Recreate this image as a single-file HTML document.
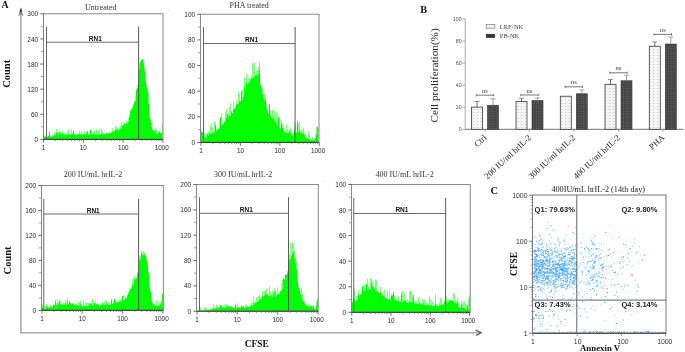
<!DOCTYPE html>
<html><head><meta charset="utf-8"><style>
html,body{margin:0;padding:0;background:#fff;}
body{width:685px;height:352px;overflow:hidden;font-family:"Liberation Sans",sans-serif;}
svg{display:block;filter:blur(0.35px);}
</style></head><body>
<svg width="685" height="352" viewBox="0 0 685 352">
<defs>
<pattern id="pl" width="4" height="3" patternUnits="userSpaceOnUse"><rect width="4" height="3" fill="#f6f6f6"/><rect x="0.5" y="1" width="2" height="0.7" fill="#c8c8c8"/></pattern>
<pattern id="pd" width="2.5" height="2.5" patternUnits="userSpaceOnUse"><rect width="2.5" height="2.5" fill="#454545"/><rect x="0.8" y="0.8" width="0.9" height="0.9" fill="#767676"/></pattern>
</defs>
<rect width="685" height="352" fill="#fff"/>
<text x="1.4" y="7.7" font-family="Liberation Serif" font-size="9.8" font-weight="bold" text-anchor="start" fill="#111">A</text>
<line x1="20.9" y1="12" x2="20.9" y2="333.6" stroke="#ababab" stroke-width="1.6"/>
<line x1="20.1" y1="332.8" x2="479" y2="332.8" stroke="#ababab" stroke-width="1.6"/>
<path d="M20.9,7.4 L18.3,16.2 L20.9,14.2 L23.5,16.2 Z" fill="#8a8a8a"/>
<path d="M20.9,7.4 L19.6,12 L22.2,12 Z" fill="#333"/>
<path d="M475.5,330.1 L481.2,332.8 L476.1,335.6" fill="none" stroke="#444" stroke-width="1.1"/>
<text x="0" y="0" font-family="Liberation Serif" font-size="10.5" font-weight="bold" text-anchor="middle" fill="#111" transform="translate(10.3,73.8) rotate(-90)">Count</text>
<text x="0" y="0" font-family="Liberation Serif" font-size="10.5" font-weight="bold" text-anchor="middle" fill="#111" transform="translate(10.5,260.4) rotate(-90)">Count</text>
<text x="256.8" y="347.3" font-family="Liberation Serif" font-size="9.4" font-weight="bold" text-anchor="middle" fill="#111">CFSE</text>
<path d="M44,139.4V136.84H44.5V135.33H45V136.15H45.5V137.1H46V137.05H46.5V136.88H47V136.69H47.5V136.87H48V135.66H48.5V135.74H49V131.14H49.5V133H50V136.68H50.5V136.78H51V136.79H51.5V135.15H52V135.58H52.5V136.6H53V134.61H53.5V136.05H54V135.23H54.5V132.61H55V135.14H55.5V134.15H56V132.29H56.5V128.9H57V134.36H57.5V134.67H58V134.77H58.5V132.05H59V130.6H59.5V132.72H60V133.51H60.5V131.32H61V134.13H61.5V134.78H62V133.27H62.5V131.28H63V134.42H63.5V134.68H64V134.52H64.5V134.81H65V134.59H65.5V134.49H66V134.68H66.5V133.86H67V131.55H67.5V134.54H68V134.58H68.5V129.29H69V134.56H69.5V134.62H70V133.38H70.5V134.67H71V134.42H71.5V129.58H72V133.93H72.5V132.67H73V130.44H73.5V130.81H74V134.3H74.5V134.75H75V134.53H75.5V134.51H76V134.29H76.5V134.56H77V134.64H77.5V134.85H78V133.17H78.5V134.54H79V134.26H79.5V131.23H80V134.09H80.5V134.54H81V134.36H81.5V131.15H82V134.88H82.5V133.67H83V133.55H83.5V134.01H84V130.92H84.5V134.54H85V134.78H85.5V133.91H86V134.37H86.5V131.69H87V131.1H87.5V131.51H88V134.64H88.5V134.24H89V134.61H89.5V134.67H90V129.43H90.5V129.96H91V129.42H91.5V134.53H92V134.54H92.5V133.4H93V131.13H93.5V133.15H94V134.76H94.5V130.29H95V132.16H95.5V134.78H96V134.6H96.5V129.15H97V134.49H97.5V132.28H98V134.55H98.5V130.38H99V134.81H99.5V129.11H100V134.43H100.5V134.4H101V129.11H101.5V133.78H102V134.08H102.5V130.86H103V134.12H103.5V134.18H104V134.03H104.5V134.26H105V133.76H105.5V132.95H106V133.64H106.5V133.11H107V132.74H107.5V133.09H108V133.79H108.5V133.56H109V131.28H109.5V133.28H110V132.5H110.5V133.37H111V133.11H111.5V130.47H112V132.08H112.5V128.15H113V131.04H113.5V131.38H114V131.25H114.5V131H115V129.27H115.5V125.74H116V129.78H116.5V126.86H117V130.43H117.5V130.27H118V130.34H118.5V127.45H119V130.15H119.5V128.13H120V125.6H120.5V128.85H121V127.53H121.5V121.42H122V126.33H122.5V124.88H123V125.02H123.5V122.06H124V123.11H124.5V123.98H125V122.5H125.5V124.04H126V121H126.5V123.55H127V123.66H127.5V123.26H128V121.99H128.5V117.93H129V116.69H129.5V113.91H130V111.69H130.5V109.64H131V109.75H131.5V108.43H132V108.22H132.5V107.09H133V105.2H133.5V103.78H134V102.58H134.5V101.5H135V100.9H135.5V95.78H136V90.52H136.5V88.61H137V88.11H137.5V85.12H138V80.05H138.5V74.27H139V69.45H139.5V63.66H140V61.82H140.5V61.12H141V60.16H141.5V59.19H142V59.4H142.5V59.17H143V60.88H143.5V63.11H144V66.48H144.5V71.22H145V78.4H145.5V81.39H146V84.36H146.5V86.95H147V90.11H147.5V92.7H148V92.44H148.5V103.39H149V116.46H149.5V117.28H150V118.67H150.5V121.22H151V123.92H151.5V127.09H152V129.13H152.5V130.3H153V130.26H153.5V129.48H154V130.4H154.5V132.53H155V127.39H155.5V131.15H156V133.63H156.5V129.4H157V131.48H157.5V133.83H158V133.11H158.5V130.45H159V132.11H159.5V131.02H160V132.58H160.5V133.05H161V133.52H161.5V132.68H162V124.2H162.5V124.7H162.5V139.4Z" fill="#00ff00"/>
<rect x="43.5" y="13.8" width="119.5" height="125.6" fill="none" stroke="#8a8a8a" stroke-width="1"/>
<line x1="43.5" y1="13.8" x2="43.5" y2="139.4" stroke="#6a9a6a" stroke-width="1"/>
<line x1="43.5" y1="139.4" x2="163" y2="139.4" stroke="#333" stroke-width="1"/>
<line x1="40.3" y1="139.4" x2="43.5" y2="139.4" stroke="#444" stroke-width="0.8"/>
<text x="0" y="0" font-family="Liberation Sans" font-size="7.5" text-anchor="end" fill="#2a2a2a" transform="translate(38.2,142) scale(0.87,1)">0</text>
<line x1="41" y1="126.84" x2="43.5" y2="126.84" stroke="#777" stroke-width="0.7"/>
<line x1="40.3" y1="114.28" x2="43.5" y2="114.28" stroke="#444" stroke-width="0.8"/>
<text x="0" y="0" font-family="Liberation Sans" font-size="7.5" text-anchor="end" fill="#2a2a2a" transform="translate(38.2,116.88) scale(0.87,1)">60</text>
<line x1="41" y1="101.72" x2="43.5" y2="101.72" stroke="#777" stroke-width="0.7"/>
<line x1="40.3" y1="89.16" x2="43.5" y2="89.16" stroke="#444" stroke-width="0.8"/>
<text x="0" y="0" font-family="Liberation Sans" font-size="7.5" text-anchor="end" fill="#2a2a2a" transform="translate(38.2,91.76) scale(0.87,1)">120</text>
<line x1="41" y1="76.6" x2="43.5" y2="76.6" stroke="#777" stroke-width="0.7"/>
<line x1="40.3" y1="64.04" x2="43.5" y2="64.04" stroke="#444" stroke-width="0.8"/>
<text x="0" y="0" font-family="Liberation Sans" font-size="7.5" text-anchor="end" fill="#2a2a2a" transform="translate(38.2,66.64) scale(0.87,1)">180</text>
<line x1="41" y1="51.48" x2="43.5" y2="51.48" stroke="#777" stroke-width="0.7"/>
<line x1="40.3" y1="38.92" x2="43.5" y2="38.92" stroke="#444" stroke-width="0.8"/>
<text x="0" y="0" font-family="Liberation Sans" font-size="7.5" text-anchor="end" fill="#2a2a2a" transform="translate(38.2,41.52) scale(0.87,1)">240</text>
<line x1="41" y1="26.36" x2="43.5" y2="26.36" stroke="#777" stroke-width="0.7"/>
<line x1="40.3" y1="13.8" x2="43.5" y2="13.8" stroke="#444" stroke-width="0.8"/>
<text x="0" y="0" font-family="Liberation Sans" font-size="7.5" text-anchor="end" fill="#2a2a2a" transform="translate(38.2,16.4) scale(0.87,1)">300</text>
<line x1="43.5" y1="139.4" x2="43.5" y2="142.9" stroke="#555" stroke-width="0.8"/>
<text x="0" y="0" font-family="Liberation Sans" font-size="7.3" text-anchor="middle" fill="#2a2a2a" transform="translate(43.5,149.8) scale(0.87,1)">1</text>
<line x1="55.49" y1="139.4" x2="55.49" y2="141.2" stroke="#666" stroke-width="0.7"/>
<line x1="62.51" y1="139.4" x2="62.51" y2="141.2" stroke="#666" stroke-width="0.7"/>
<line x1="67.48" y1="139.4" x2="67.48" y2="141.2" stroke="#666" stroke-width="0.7"/>
<line x1="71.34" y1="139.4" x2="71.34" y2="141.2" stroke="#666" stroke-width="0.7"/>
<line x1="74.5" y1="139.4" x2="74.5" y2="141.2" stroke="#666" stroke-width="0.7"/>
<line x1="77.16" y1="139.4" x2="77.16" y2="141.2" stroke="#666" stroke-width="0.7"/>
<line x1="79.47" y1="139.4" x2="79.47" y2="141.2" stroke="#666" stroke-width="0.7"/>
<line x1="81.51" y1="139.4" x2="81.51" y2="141.2" stroke="#666" stroke-width="0.7"/>
<line x1="83.33" y1="139.4" x2="83.33" y2="142.9" stroke="#555" stroke-width="0.8"/>
<text x="0" y="0" font-family="Liberation Sans" font-size="7.3" text-anchor="middle" fill="#2a2a2a" transform="translate(83.33,149.8) scale(0.87,1)">10</text>
<line x1="95.32" y1="139.4" x2="95.32" y2="141.2" stroke="#666" stroke-width="0.7"/>
<line x1="102.34" y1="139.4" x2="102.34" y2="141.2" stroke="#666" stroke-width="0.7"/>
<line x1="107.32" y1="139.4" x2="107.32" y2="141.2" stroke="#666" stroke-width="0.7"/>
<line x1="111.18" y1="139.4" x2="111.18" y2="141.2" stroke="#666" stroke-width="0.7"/>
<line x1="114.33" y1="139.4" x2="114.33" y2="141.2" stroke="#666" stroke-width="0.7"/>
<line x1="117" y1="139.4" x2="117" y2="141.2" stroke="#666" stroke-width="0.7"/>
<line x1="119.31" y1="139.4" x2="119.31" y2="141.2" stroke="#666" stroke-width="0.7"/>
<line x1="121.34" y1="139.4" x2="121.34" y2="141.2" stroke="#666" stroke-width="0.7"/>
<line x1="123.17" y1="139.4" x2="123.17" y2="142.9" stroke="#555" stroke-width="0.8"/>
<text x="0" y="0" font-family="Liberation Sans" font-size="7.3" text-anchor="middle" fill="#2a2a2a" transform="translate(123.17,149.8) scale(0.87,1)">100</text>
<line x1="135.16" y1="139.4" x2="135.16" y2="141.2" stroke="#666" stroke-width="0.7"/>
<line x1="142.17" y1="139.4" x2="142.17" y2="141.2" stroke="#666" stroke-width="0.7"/>
<line x1="147.15" y1="139.4" x2="147.15" y2="141.2" stroke="#666" stroke-width="0.7"/>
<line x1="151.01" y1="139.4" x2="151.01" y2="141.2" stroke="#666" stroke-width="0.7"/>
<line x1="154.16" y1="139.4" x2="154.16" y2="141.2" stroke="#666" stroke-width="0.7"/>
<line x1="156.83" y1="139.4" x2="156.83" y2="141.2" stroke="#666" stroke-width="0.7"/>
<line x1="159.14" y1="139.4" x2="159.14" y2="141.2" stroke="#666" stroke-width="0.7"/>
<line x1="161.18" y1="139.4" x2="161.18" y2="141.2" stroke="#666" stroke-width="0.7"/>
<line x1="163" y1="139.4" x2="163" y2="142.9" stroke="#555" stroke-width="0.8"/>
<text x="0" y="0" font-family="Liberation Sans" font-size="7.3" text-anchor="middle" fill="#2a2a2a" transform="translate(161.8,149.8) scale(0.87,1)">1000</text>
<line x1="46.5" y1="26.5" x2="46.5" y2="139.4" stroke="#666" stroke-width="1"/>
<line x1="138.6" y1="26.5" x2="138.6" y2="139.4" stroke="#5a5a5a" stroke-width="1"/>
<line x1="46.5" y1="42.2" x2="138.6" y2="42.2" stroke="#6a6a6a" stroke-width="1"/>
<text x="95.3" y="41" font-family="Liberation Sans" font-size="6.5" font-weight="bold" text-anchor="middle" fill="#111">RN1</text>
<text x="100.8" y="9.5" font-family="Liberation Serif" font-size="8" text-anchor="middle" fill="#333">Untreated</text>
<path d="M201,142.4V130.14H201.5V131.87H202V132.11H202.5V132.92H203V138.19H203.5V133.2H204V133.36H204.5V136.89H205V137.21H205.5V132.81H206V135.08H206.5V138.63H207V132.61H207.5V133.9H208V135.53H208.5V131.6H209V131.22H209.5V133.35H210V133.53H210.5V125.44H211V122.69H211.5V134.51H212V127.32H212.5V132.71H213V133.74H213.5V133.28H214V133.04H214.5V121.36H215V125.17H215.5V122.83H216V131.29H216.5V129.08H217V130.23H217.5V128.44H218V129.14H218.5V128.55H219V128.51H219.5V120.16H220V117.32H220.5V117.55H221V125.92H221.5V113.1H222V124.75H222.5V124.31H223V124.26H223.5V123.38H224V122.59H224.5V120.4H225V121.14H225.5V112.15H226V117.29H226.5V108.96H227V114.22H227.5V113.7H228V112.92H228.5V117.51H229V107.08H229.5V115.73H230V116.29H230.5V103.51H231V111.12H231.5V111.74H232V113H232.5V112.41H233V109.82H233.5V101.22H234V108.54H234.5V108.78H235V107.52H235.5V107.09H236V104.39H236.5V100.5H237V104.48H237.5V104H238V104.05H238.5V91.58H239V101.39H239.5V94.11H240V101.8H240.5V100.89H241V90.18H241.5V92.07H242V100.35H242.5V90.04H243V95.68H243.5V97.03H244V86.44H244.5V77.48H245V90.37H245.5V86.35H246V73.6H246.5V82.19H247V84.09H247.5V84.81H248V83.78H248.5V78.42H249V82.19H249.5V77.28H250V80.63H250.5V77.66H251V78.43H251.5V75.31H252V78.38H252.5V63.6H253V66.46H253.5V77.55H254V62.51H254.5V76.41H255V74.67H255.5V74.94H256V71.02H256.5V75.25H257V74.82H257.5V69.86H258V66.75H258.5V73.64H259V61.87H259.5V70.47H260V83.37H260.5V85.94H261V86H261.5V89.98H262V87.5H262.5V94.49H263V96.89H263.5V98.86H264V101.09H264.5V93.75H265V99.97H265.5V96.18H266V108.42H266.5V103.98H267V106.96H267.5V111.33H268V112.91H268.5V113.76H269V103.55H269.5V104.21H270V116.3H270.5V110.14H271V118H271.5V118.13H272V119.01H272.5V110H273V119.22H273.5V114.37H274V120.65H274.5V111.02H275V116.66H275.5V122.29H276V112.47H276.5V124.66H277V125.26H277.5V126.82H278V117.45H278.5V116.7H279V128.02H279.5V117.4H280V128.15H280.5V128.36H281V119.28H281.5V123.58H282V123.47H282.5V128.02H283V130.86H283.5V125.24H284V131.92H284.5V131.83H285V132.51H285.5V132.51H286V124.29H286.5V132.93H287V133.62H287.5V129.24H288V134H288.5V131.45H289V129.47H289.5V131.09H290V127.43H290.5V132.91H291V130.06H291.5V135.19H292V135.68H292.5V133.07H293V135.13H293.5V134.02H294V129.1H294.5V122.6H295V133.06H295.5V125.69H296V132.59H296.5V132.46H297V120.6H297.5V121.97H298V123.95H298.5V132.24H299V121.14H299.5V129.52H300V132.14H300.5V132.42H301V132.65H301.5V129.36H302V133.26H302.5V129.39H303V133.31H303.5V127.56H304V134.54H304.5V134.92H305V133.14H305.5V137.72H306V137.34H306.5V138.38H307V138.46H307.5V138.45H308V131.13H308.5V138.83H309V134.69H309.5V140.24H310V139.35H310.5V139.51H311V138.84H311.5V140.29H312V137.04H312.5V140.35H313V139.67H313.5V140.22H314V138.7H314.5V140.37H315V133.28H315.5V138.55H316V127.02H316.5V135.43H317V126.45H317.5V127.01H318V128.9H318.5V129.78H318.5V142.4Z" fill="#00ff00"/>
<rect x="200.5" y="14.25" width="118.5" height="128.15" fill="none" stroke="#8a8a8a" stroke-width="1"/>
<line x1="200.5" y1="142.4" x2="319" y2="142.4" stroke="#333" stroke-width="1"/>
<line x1="197.3" y1="142.4" x2="200.5" y2="142.4" stroke="#444" stroke-width="0.8"/>
<text x="0" y="0" font-family="Liberation Sans" font-size="7.5" text-anchor="end" fill="#2a2a2a" transform="translate(195.2,145) scale(0.87,1)">0</text>
<line x1="198" y1="129.59" x2="200.5" y2="129.59" stroke="#777" stroke-width="0.7"/>
<line x1="197.3" y1="116.77" x2="200.5" y2="116.77" stroke="#444" stroke-width="0.8"/>
<text x="0" y="0" font-family="Liberation Sans" font-size="7.5" text-anchor="end" fill="#2a2a2a" transform="translate(195.2,119.37) scale(0.87,1)">20</text>
<line x1="198" y1="103.96" x2="200.5" y2="103.96" stroke="#777" stroke-width="0.7"/>
<line x1="197.3" y1="91.14" x2="200.5" y2="91.14" stroke="#444" stroke-width="0.8"/>
<text x="0" y="0" font-family="Liberation Sans" font-size="7.5" text-anchor="end" fill="#2a2a2a" transform="translate(195.2,93.74) scale(0.87,1)">40</text>
<line x1="198" y1="78.33" x2="200.5" y2="78.33" stroke="#777" stroke-width="0.7"/>
<line x1="197.3" y1="65.51" x2="200.5" y2="65.51" stroke="#444" stroke-width="0.8"/>
<text x="0" y="0" font-family="Liberation Sans" font-size="7.5" text-anchor="end" fill="#2a2a2a" transform="translate(195.2,68.11) scale(0.87,1)">60</text>
<line x1="198" y1="52.69" x2="200.5" y2="52.69" stroke="#777" stroke-width="0.7"/>
<line x1="197.3" y1="39.88" x2="200.5" y2="39.88" stroke="#444" stroke-width="0.8"/>
<text x="0" y="0" font-family="Liberation Sans" font-size="7.5" text-anchor="end" fill="#2a2a2a" transform="translate(195.2,42.48) scale(0.87,1)">80</text>
<line x1="198" y1="27.06" x2="200.5" y2="27.06" stroke="#777" stroke-width="0.7"/>
<line x1="197.3" y1="14.25" x2="200.5" y2="14.25" stroke="#444" stroke-width="0.8"/>
<text x="0" y="0" font-family="Liberation Sans" font-size="7.5" text-anchor="end" fill="#2a2a2a" transform="translate(195.2,16.85) scale(0.87,1)">100</text>
<line x1="201" y1="142.4" x2="201" y2="145.9" stroke="#555" stroke-width="0.8"/>
<text x="0" y="0" font-family="Liberation Sans" font-size="7.3" text-anchor="middle" fill="#2a2a2a" transform="translate(201,152.8) scale(0.87,1)">1</text>
<line x1="212.87" y1="142.4" x2="212.87" y2="144.2" stroke="#666" stroke-width="0.7"/>
<line x1="219.81" y1="142.4" x2="219.81" y2="144.2" stroke="#666" stroke-width="0.7"/>
<line x1="224.74" y1="142.4" x2="224.74" y2="144.2" stroke="#666" stroke-width="0.7"/>
<line x1="228.56" y1="142.4" x2="228.56" y2="144.2" stroke="#666" stroke-width="0.7"/>
<line x1="231.69" y1="142.4" x2="231.69" y2="144.2" stroke="#666" stroke-width="0.7"/>
<line x1="234.33" y1="142.4" x2="234.33" y2="144.2" stroke="#666" stroke-width="0.7"/>
<line x1="236.61" y1="142.4" x2="236.61" y2="144.2" stroke="#666" stroke-width="0.7"/>
<line x1="238.63" y1="142.4" x2="238.63" y2="144.2" stroke="#666" stroke-width="0.7"/>
<line x1="240.43" y1="142.4" x2="240.43" y2="145.9" stroke="#555" stroke-width="0.8"/>
<text x="0" y="0" font-family="Liberation Sans" font-size="7.3" text-anchor="middle" fill="#2a2a2a" transform="translate(240.43,152.8) scale(0.87,1)">10</text>
<line x1="252.3" y1="142.4" x2="252.3" y2="144.2" stroke="#666" stroke-width="0.7"/>
<line x1="259.25" y1="142.4" x2="259.25" y2="144.2" stroke="#666" stroke-width="0.7"/>
<line x1="264.17" y1="142.4" x2="264.17" y2="144.2" stroke="#666" stroke-width="0.7"/>
<line x1="268" y1="142.4" x2="268" y2="144.2" stroke="#666" stroke-width="0.7"/>
<line x1="271.12" y1="142.4" x2="271.12" y2="144.2" stroke="#666" stroke-width="0.7"/>
<line x1="273.76" y1="142.4" x2="273.76" y2="144.2" stroke="#666" stroke-width="0.7"/>
<line x1="276.05" y1="142.4" x2="276.05" y2="144.2" stroke="#666" stroke-width="0.7"/>
<line x1="278.06" y1="142.4" x2="278.06" y2="144.2" stroke="#666" stroke-width="0.7"/>
<line x1="279.87" y1="142.4" x2="279.87" y2="145.9" stroke="#555" stroke-width="0.8"/>
<text x="0" y="0" font-family="Liberation Sans" font-size="7.3" text-anchor="middle" fill="#2a2a2a" transform="translate(279.87,152.8) scale(0.87,1)">100</text>
<line x1="291.74" y1="142.4" x2="291.74" y2="144.2" stroke="#666" stroke-width="0.7"/>
<line x1="298.68" y1="142.4" x2="298.68" y2="144.2" stroke="#666" stroke-width="0.7"/>
<line x1="303.61" y1="142.4" x2="303.61" y2="144.2" stroke="#666" stroke-width="0.7"/>
<line x1="307.43" y1="142.4" x2="307.43" y2="144.2" stroke="#666" stroke-width="0.7"/>
<line x1="310.55" y1="142.4" x2="310.55" y2="144.2" stroke="#666" stroke-width="0.7"/>
<line x1="313.19" y1="142.4" x2="313.19" y2="144.2" stroke="#666" stroke-width="0.7"/>
<line x1="315.48" y1="142.4" x2="315.48" y2="144.2" stroke="#666" stroke-width="0.7"/>
<line x1="317.5" y1="142.4" x2="317.5" y2="144.2" stroke="#666" stroke-width="0.7"/>
<line x1="319.3" y1="142.4" x2="319.3" y2="145.9" stroke="#555" stroke-width="0.8"/>
<text x="0" y="0" font-family="Liberation Sans" font-size="7.3" text-anchor="middle" fill="#2a2a2a" transform="translate(318.1,152.8) scale(0.87,1)">1000</text>
<line x1="203.5" y1="27" x2="203.5" y2="142.4" stroke="#666" stroke-width="1"/>
<line x1="295.1" y1="27" x2="295.1" y2="142.4" stroke="#5a5a5a" stroke-width="1"/>
<line x1="203.5" y1="43.5" x2="295.1" y2="43.5" stroke="#6a6a6a" stroke-width="1"/>
<text x="251.6" y="42.3" font-family="Liberation Sans" font-size="6.5" font-weight="bold" text-anchor="middle" fill="#111">RN1</text>
<text x="249.2" y="8" font-family="Liberation Serif" font-size="8" text-anchor="middle" fill="#333">PHA treated</text>
<path d="M42,310.3V307.56H42.5V304.14H43V308.52H43.5V307.99H44V308.99H44.5V306.39H45V308.72H45.5V305.27H46V304.02H46.5V306.61H47V306.17H47.5V307.44H48V307.4H48.5V307.18H49V307.82H49.5V306.8H50V304.67H50.5V306.82H51V306.68H51.5V307.48H52V307.36H52.5V306.04H53V304.95H53.5V304.04H54V305.35H54.5V305.29H55V299.84H55.5V301.57H56V302.92H56.5V305.46H57V304.51H57.5V299.56H58V301.73H58.5V304.85H59V301.66H59.5V299.61H60V300.76H60.5V303.98H61V304.54H61.5V303.72H62V304.57H62.5V304.85H63V302.66H63.5V304.78H64V304.7H64.5V302.84H65V300.07H65.5V303.49H66V304.89H66.5V302.91H67V301.05H67.5V297.93H68V304.48H68.5V303.97H69V301.64H69.5V300.74H70V303.07H70.5V303.36H71V304.29H71.5V304.56H72V303.04H72.5V303.91H73V304.57H73.5V302.56H74V304.64H74.5V304.63H75V304.78H75.5V303.53H76V303.61H76.5V305.73H77V305.58H77.5V306.12H78V301.68H78.5V305.64H79V306.23H79.5V304.86H80V304.25H80.5V300.48H81V306.19H81.5V306.14H82V305.54H82.5V306.22H83V306.12H83.5V300.11H84V306.06H84.5V305.21H85V302.16H85.5V305.76H86V306.19H86.5V302.75H87V306.15H87.5V303.09H88V303.11H88.5V305.72H89V305.67H89.5V305.75H90V303.67H90.5V303.25H91V304.62H91.5V302.39H92V305.71H92.5V299.36H93V300.77H93.5V305.48H94V302.98H94.5V302.69H95V300.8H95.5V305.68H96V303.91H96.5V303.69H97V304.95H97.5V303.28H98V304.99H98.5V304.09H99V305.42H99.5V305.57H100V305.18H100.5V305.53H101V304.91H101.5V305.13H102V303.02H102.5V302.99H103V305.27H103.5V305H104V301.49H104.5V305.31H105V299.96H105.5V304.99H106V304.89H106.5V300.92H107V303.38H107.5V303.16H108V304.82H108.5V301.8H109V304.68H109.5V304.82H110V304.73H110.5V304.19H111V298.16H111.5V299.96H112V304.01H112.5V303.38H113V303.45H113.5V302.27H114V298.63H114.5V299.11H115V302.82H115.5V299.9H116V302.67H116.5V301.83H117V302.37H117.5V302.12H118V302.21H118.5V301.75H119V299.5H119.5V301.81H120V301.75H120.5V299.27H121V299.62H121.5V300.8H122V296.07H122.5V295.96H123V300.67H123.5V295.36H124V299.92H124.5V299.7H125V298.51H125.5V296.19H126V298.12H126.5V297.65H127V294.67H127.5V295.61H128V291.52H128.5V293.76H129V287.9H129.5V291.79H130V288.53H130.5V289.41H131V288.15H131.5V285.94H132V285.61H132.5V278.64H133V284.28H133.5V283.12H134V275.84H134.5V278.98H135V281.14H135.5V280.39H136V278.77H136.5V277.37H137V273.7H137.5V271.67H138V269.96H138.5V265.88H139V255.44H139.5V259.41H140V260.34H140.5V256.33H141V252.89H141.5V249.83H142V252.79H142.5V255.07H143V255.53H143.5V250.75H144V252.35H144.5V254.8H145V254.89H145.5V256.17H146V260.83H146.5V257.32H147V261.84H147.5V266.84H148V274.15H148.5V271.57H149V284.28H149.5V287.3H150V291.19H150.5V291.53H151V298.33H151.5V300.83H152V301.76H152.5V303.51H153V303.69H153.5V304.46H154V305.07H154.5V305.13H155V305.45H155.5V305.98H156V300.27H156.5V306.23H157V305.75H157.5V306.49H158V302.71H158.5V305.51H159V306.15H159.5V305.63H160V301.85H160.5V304.31H161V303.34H161.5V300.07H162V293.45H162.5V293.73H162.9V293.53H162.9V310.3Z" fill="#00ff00"/>
<rect x="41.5" y="185.5" width="121.9" height="124.8" fill="none" stroke="#8a8a8a" stroke-width="1"/>
<line x1="41.5" y1="310.3" x2="163.4" y2="310.3" stroke="#333" stroke-width="1"/>
<line x1="38.3" y1="310.3" x2="41.5" y2="310.3" stroke="#444" stroke-width="0.8"/>
<text x="0" y="0" font-family="Liberation Sans" font-size="7.5" text-anchor="end" fill="#2a2a2a" transform="translate(36.2,312.9) scale(0.87,1)">0</text>
<line x1="39" y1="297.82" x2="41.5" y2="297.82" stroke="#777" stroke-width="0.7"/>
<line x1="38.3" y1="285.34" x2="41.5" y2="285.34" stroke="#444" stroke-width="0.8"/>
<text x="0" y="0" font-family="Liberation Sans" font-size="7.5" text-anchor="end" fill="#2a2a2a" transform="translate(36.2,287.94) scale(0.87,1)">40</text>
<line x1="39" y1="272.86" x2="41.5" y2="272.86" stroke="#777" stroke-width="0.7"/>
<line x1="38.3" y1="260.38" x2="41.5" y2="260.38" stroke="#444" stroke-width="0.8"/>
<text x="0" y="0" font-family="Liberation Sans" font-size="7.5" text-anchor="end" fill="#2a2a2a" transform="translate(36.2,262.98) scale(0.87,1)">80</text>
<line x1="39" y1="247.9" x2="41.5" y2="247.9" stroke="#777" stroke-width="0.7"/>
<line x1="38.3" y1="235.42" x2="41.5" y2="235.42" stroke="#444" stroke-width="0.8"/>
<text x="0" y="0" font-family="Liberation Sans" font-size="7.5" text-anchor="end" fill="#2a2a2a" transform="translate(36.2,238.02) scale(0.87,1)">120</text>
<line x1="39" y1="222.94" x2="41.5" y2="222.94" stroke="#777" stroke-width="0.7"/>
<line x1="38.3" y1="210.46" x2="41.5" y2="210.46" stroke="#444" stroke-width="0.8"/>
<text x="0" y="0" font-family="Liberation Sans" font-size="7.5" text-anchor="end" fill="#2a2a2a" transform="translate(36.2,213.06) scale(0.87,1)">160</text>
<line x1="39" y1="197.98" x2="41.5" y2="197.98" stroke="#777" stroke-width="0.7"/>
<line x1="38.3" y1="185.5" x2="41.5" y2="185.5" stroke="#444" stroke-width="0.8"/>
<text x="0" y="0" font-family="Liberation Sans" font-size="7.5" text-anchor="end" fill="#2a2a2a" transform="translate(36.2,188.1) scale(0.87,1)">200</text>
<line x1="42" y1="310.3" x2="42" y2="313.8" stroke="#555" stroke-width="0.8"/>
<text x="0" y="0" font-family="Liberation Sans" font-size="7.3" text-anchor="middle" fill="#2a2a2a" transform="translate(42,320.7) scale(0.87,1)">1</text>
<line x1="54.12" y1="310.3" x2="54.12" y2="312.1" stroke="#666" stroke-width="0.7"/>
<line x1="61.21" y1="310.3" x2="61.21" y2="312.1" stroke="#666" stroke-width="0.7"/>
<line x1="66.24" y1="310.3" x2="66.24" y2="312.1" stroke="#666" stroke-width="0.7"/>
<line x1="70.15" y1="310.3" x2="70.15" y2="312.1" stroke="#666" stroke-width="0.7"/>
<line x1="73.33" y1="310.3" x2="73.33" y2="312.1" stroke="#666" stroke-width="0.7"/>
<line x1="76.03" y1="310.3" x2="76.03" y2="312.1" stroke="#666" stroke-width="0.7"/>
<line x1="78.36" y1="310.3" x2="78.36" y2="312.1" stroke="#666" stroke-width="0.7"/>
<line x1="80.42" y1="310.3" x2="80.42" y2="312.1" stroke="#666" stroke-width="0.7"/>
<line x1="82.27" y1="310.3" x2="82.27" y2="313.8" stroke="#555" stroke-width="0.8"/>
<text x="0" y="0" font-family="Liberation Sans" font-size="7.3" text-anchor="middle" fill="#2a2a2a" transform="translate(82.27,320.7) scale(0.87,1)">10</text>
<line x1="94.39" y1="310.3" x2="94.39" y2="312.1" stroke="#666" stroke-width="0.7"/>
<line x1="101.48" y1="310.3" x2="101.48" y2="312.1" stroke="#666" stroke-width="0.7"/>
<line x1="106.51" y1="310.3" x2="106.51" y2="312.1" stroke="#666" stroke-width="0.7"/>
<line x1="110.41" y1="310.3" x2="110.41" y2="312.1" stroke="#666" stroke-width="0.7"/>
<line x1="113.6" y1="310.3" x2="113.6" y2="312.1" stroke="#666" stroke-width="0.7"/>
<line x1="116.3" y1="310.3" x2="116.3" y2="312.1" stroke="#666" stroke-width="0.7"/>
<line x1="118.63" y1="310.3" x2="118.63" y2="312.1" stroke="#666" stroke-width="0.7"/>
<line x1="120.69" y1="310.3" x2="120.69" y2="312.1" stroke="#666" stroke-width="0.7"/>
<line x1="122.53" y1="310.3" x2="122.53" y2="313.8" stroke="#555" stroke-width="0.8"/>
<text x="0" y="0" font-family="Liberation Sans" font-size="7.3" text-anchor="middle" fill="#2a2a2a" transform="translate(122.53,320.7) scale(0.87,1)">100</text>
<line x1="134.65" y1="310.3" x2="134.65" y2="312.1" stroke="#666" stroke-width="0.7"/>
<line x1="141.75" y1="310.3" x2="141.75" y2="312.1" stroke="#666" stroke-width="0.7"/>
<line x1="146.78" y1="310.3" x2="146.78" y2="312.1" stroke="#666" stroke-width="0.7"/>
<line x1="150.68" y1="310.3" x2="150.68" y2="312.1" stroke="#666" stroke-width="0.7"/>
<line x1="153.87" y1="310.3" x2="153.87" y2="312.1" stroke="#666" stroke-width="0.7"/>
<line x1="156.56" y1="310.3" x2="156.56" y2="312.1" stroke="#666" stroke-width="0.7"/>
<line x1="158.9" y1="310.3" x2="158.9" y2="312.1" stroke="#666" stroke-width="0.7"/>
<line x1="160.96" y1="310.3" x2="160.96" y2="312.1" stroke="#666" stroke-width="0.7"/>
<line x1="162.8" y1="310.3" x2="162.8" y2="313.8" stroke="#555" stroke-width="0.8"/>
<text x="0" y="0" font-family="Liberation Sans" font-size="7.3" text-anchor="middle" fill="#2a2a2a" transform="translate(161.6,320.7) scale(0.87,1)">1000</text>
<line x1="43.75" y1="198.75" x2="43.75" y2="310.3" stroke="#666" stroke-width="1"/>
<line x1="138.6" y1="198.75" x2="138.6" y2="310.3" stroke="#5a5a5a" stroke-width="1"/>
<line x1="43.75" y1="214" x2="138.6" y2="214" stroke="#6a6a6a" stroke-width="1"/>
<text x="93.2" y="212.8" font-family="Liberation Sans" font-size="6.5" font-weight="bold" text-anchor="middle" fill="#111">RN1</text>
<text x="93" y="176.5" font-family="Liberation Serif" font-size="8" text-anchor="middle" fill="#333">200 IU/mL hrIL-2</text>
<path d="M197,311.2V311.2H197.5V310.96H198V311.01H198.5V310.8H199V309.63H199.5V307.23H200V311.2H200.5V307.46H201V311.16H201.5V309.56H202V311.18H202.5V309.47H203V310.82H203.5V310.99H204V310.58H204.5V307.33H205V311H205.5V309.78H206V309.39H206.5V308.34H207V310.62H207.5V309.86H208V310.18H208.5V309.43H209V310.1H209.5V309.46H210V309.45H210.5V309.31H211V309.06H211.5V309.64H212V308.81H212.5V307.76H213V308.66H213.5V304.27H214V307.55H214.5V308.74H215V307.2H215.5V308.54H216V307.77H216.5V304.56H217V306.47H217.5V308.14H218V307.84H218.5V307.4H219V307.86H219.5V307.49H220V304.9H220.5V304.94H221V307.09H221.5V307.36H222V306.54H222.5V307.58H223V307.74H223.5V306.68H224V307.95H224.5V304.41H225V307.79H225.5V307.75H226V304.02H226.5V306.58H227V304.18H227.5V306.78H228V306.26H228.5V306.22H229V306.42H229.5V305.55H230V307.72H230.5V305.79H231V306.49H231.5V305.29H232V306.98H232.5V307.8H233V307.79H233.5V306.84H234V308.02H234.5V307.84H235V305.36H235.5V304.07H236V307.9H236.5V307.07H237V303.18H237.5V307.38H238V306.42H238.5V307.64H239V307.9H239.5V307.99H240V307.93H240.5V307.57H241V305.79H241.5V305.63H242V307.82H242.5V306.02H243V305.56H243.5V306.49H244V307.31H244.5V307.71H245V305.51H245.5V307.51H246V304.45H246.5V307.19H247V307.27H247.5V306.3H248V306.73H248.5V306.5H249V306.85H249.5V306.47H250V305.27H250.5V306.28H251V302.25H251.5V305.26H252V306.2H252.5V302.29H253V304.94H253.5V295.68H254V302.26H254.5V303.51H255V303.3H255.5V301.37H256V297.69H256.5V302.64H257V301.7H257.5V296.83H258V301.93H258.5V296.28H259V299.21H259.5V294.81H260V297.45H260.5V299.49H261V298.08H261.5V299.26H262V290.63H262.5V296.24H263V296.7H263.5V297.01H264V291.35H264.5V295.69H265V290.49H265.5V293.41H266V288.27H266.5V294.15H267V295.13H267.5V295.6H268V295.37H268.5V295.43H269V296.11H269.5V286.61H270V296.76H270.5V291.73H271V294.59H271.5V295.22H272V297.04H272.5V290.37H273V294.98H273.5V292.17H274V288.58H274.5V291.65H275V296.6H275.5V296.74H276V296.48H276.5V294.52H277V294.76H277.5V287.27H278V292.39H278.5V294.49H279V293.93H279.5V291.38H280V290.28H280.5V291.54H281V283.01H281.5V290.78H282V289.22H282.5V279.75H283V278.4H283.5V277.8H284V278.81H284.5V279.93H285V274.7H285.5V274.39H286V274.36H286.5V274.99H287V273.5H287.5V270.76H288V267.51H288.5V257.91H289V254.21H289.5V260.45H290V258.39H290.5V242.45H291V255.54H291.5V255.6H292V242.19H292.5V253.52H293V244.17H293.5V251.69H294V257.7H294.5V250.97H295V259.86H295.5V263H296V269.78H296.5V261.68H297V277.78H297.5V281.16H298V285.25H298.5V288.04H299V286.66H299.5V290.15H300V292.28H300.5V294.48H301V288.11H301.5V299.98H302V293.95H302.5V300.58H303V298.56H303.5V301.22H304V304.17H304.5V301.99H305V305.14H305.5V301.49H306V304.52H306.5V305.88H307V304.08H307.5V306.03H308V305.28H308.5V306.4H309V305.78H309.5V304.42H310V307.06H310.5V305.49H311V305.7H311.5V305.33H312V305.53H312.5V307.89H313V305.21H313.5V305.89H314V309.46H314.5V308.79H315V308.76H315.5V308.8H316V305.61H316.5V300.81H317V297.62H317.5V300.12H317.8V311.2Z" fill="#00ff00"/>
<rect x="196.5" y="184.5" width="121.8" height="126.7" fill="none" stroke="#8a8a8a" stroke-width="1"/>
<line x1="196.5" y1="311.2" x2="318.3" y2="311.2" stroke="#333" stroke-width="1"/>
<line x1="193.3" y1="311.2" x2="196.5" y2="311.2" stroke="#444" stroke-width="0.8"/>
<text x="0" y="0" font-family="Liberation Sans" font-size="7.5" text-anchor="end" fill="#2a2a2a" transform="translate(191.2,313.8) scale(0.87,1)">0</text>
<line x1="194" y1="298.53" x2="196.5" y2="298.53" stroke="#777" stroke-width="0.7"/>
<line x1="193.3" y1="285.86" x2="196.5" y2="285.86" stroke="#444" stroke-width="0.8"/>
<text x="0" y="0" font-family="Liberation Sans" font-size="7.5" text-anchor="end" fill="#2a2a2a" transform="translate(191.2,288.46) scale(0.87,1)">40</text>
<line x1="194" y1="273.19" x2="196.5" y2="273.19" stroke="#777" stroke-width="0.7"/>
<line x1="193.3" y1="260.52" x2="196.5" y2="260.52" stroke="#444" stroke-width="0.8"/>
<text x="0" y="0" font-family="Liberation Sans" font-size="7.5" text-anchor="end" fill="#2a2a2a" transform="translate(191.2,263.12) scale(0.87,1)">80</text>
<line x1="194" y1="247.85" x2="196.5" y2="247.85" stroke="#777" stroke-width="0.7"/>
<line x1="193.3" y1="235.18" x2="196.5" y2="235.18" stroke="#444" stroke-width="0.8"/>
<text x="0" y="0" font-family="Liberation Sans" font-size="7.5" text-anchor="end" fill="#2a2a2a" transform="translate(191.2,237.78) scale(0.87,1)">120</text>
<line x1="194" y1="222.51" x2="196.5" y2="222.51" stroke="#777" stroke-width="0.7"/>
<line x1="193.3" y1="209.84" x2="196.5" y2="209.84" stroke="#444" stroke-width="0.8"/>
<text x="0" y="0" font-family="Liberation Sans" font-size="7.5" text-anchor="end" fill="#2a2a2a" transform="translate(191.2,212.44) scale(0.87,1)">160</text>
<line x1="194" y1="197.17" x2="196.5" y2="197.17" stroke="#777" stroke-width="0.7"/>
<line x1="193.3" y1="184.5" x2="196.5" y2="184.5" stroke="#444" stroke-width="0.8"/>
<text x="0" y="0" font-family="Liberation Sans" font-size="7.5" text-anchor="end" fill="#2a2a2a" transform="translate(191.2,187.1) scale(0.87,1)">200</text>
<line x1="197" y1="311.2" x2="197" y2="314.7" stroke="#555" stroke-width="0.8"/>
<text x="0" y="0" font-family="Liberation Sans" font-size="7.3" text-anchor="middle" fill="#2a2a2a" transform="translate(197,321.6) scale(0.87,1)">1</text>
<line x1="209.14" y1="311.2" x2="209.14" y2="313" stroke="#666" stroke-width="0.7"/>
<line x1="216.24" y1="311.2" x2="216.24" y2="313" stroke="#666" stroke-width="0.7"/>
<line x1="221.28" y1="311.2" x2="221.28" y2="313" stroke="#666" stroke-width="0.7"/>
<line x1="225.19" y1="311.2" x2="225.19" y2="313" stroke="#666" stroke-width="0.7"/>
<line x1="228.39" y1="311.2" x2="228.39" y2="313" stroke="#666" stroke-width="0.7"/>
<line x1="231.09" y1="311.2" x2="231.09" y2="313" stroke="#666" stroke-width="0.7"/>
<line x1="233.42" y1="311.2" x2="233.42" y2="313" stroke="#666" stroke-width="0.7"/>
<line x1="235.49" y1="311.2" x2="235.49" y2="313" stroke="#666" stroke-width="0.7"/>
<line x1="237.33" y1="311.2" x2="237.33" y2="314.7" stroke="#555" stroke-width="0.8"/>
<text x="0" y="0" font-family="Liberation Sans" font-size="7.3" text-anchor="middle" fill="#2a2a2a" transform="translate(237.33,321.6) scale(0.87,1)">10</text>
<line x1="249.47" y1="311.2" x2="249.47" y2="313" stroke="#666" stroke-width="0.7"/>
<line x1="256.58" y1="311.2" x2="256.58" y2="313" stroke="#666" stroke-width="0.7"/>
<line x1="261.62" y1="311.2" x2="261.62" y2="313" stroke="#666" stroke-width="0.7"/>
<line x1="265.53" y1="311.2" x2="265.53" y2="313" stroke="#666" stroke-width="0.7"/>
<line x1="268.72" y1="311.2" x2="268.72" y2="313" stroke="#666" stroke-width="0.7"/>
<line x1="271.42" y1="311.2" x2="271.42" y2="313" stroke="#666" stroke-width="0.7"/>
<line x1="273.76" y1="311.2" x2="273.76" y2="313" stroke="#666" stroke-width="0.7"/>
<line x1="275.82" y1="311.2" x2="275.82" y2="313" stroke="#666" stroke-width="0.7"/>
<line x1="277.67" y1="311.2" x2="277.67" y2="314.7" stroke="#555" stroke-width="0.8"/>
<text x="0" y="0" font-family="Liberation Sans" font-size="7.3" text-anchor="middle" fill="#2a2a2a" transform="translate(277.67,321.6) scale(0.87,1)">100</text>
<line x1="289.81" y1="311.2" x2="289.81" y2="313" stroke="#666" stroke-width="0.7"/>
<line x1="296.91" y1="311.2" x2="296.91" y2="313" stroke="#666" stroke-width="0.7"/>
<line x1="301.95" y1="311.2" x2="301.95" y2="313" stroke="#666" stroke-width="0.7"/>
<line x1="305.86" y1="311.2" x2="305.86" y2="313" stroke="#666" stroke-width="0.7"/>
<line x1="309.05" y1="311.2" x2="309.05" y2="313" stroke="#666" stroke-width="0.7"/>
<line x1="311.75" y1="311.2" x2="311.75" y2="313" stroke="#666" stroke-width="0.7"/>
<line x1="314.09" y1="311.2" x2="314.09" y2="313" stroke="#666" stroke-width="0.7"/>
<line x1="316.15" y1="311.2" x2="316.15" y2="313" stroke="#666" stroke-width="0.7"/>
<line x1="318" y1="311.2" x2="318" y2="314.7" stroke="#555" stroke-width="0.8"/>
<text x="0" y="0" font-family="Liberation Sans" font-size="7.3" text-anchor="middle" fill="#2a2a2a" transform="translate(316.8,321.6) scale(0.87,1)">1000</text>
<line x1="199.5" y1="197.25" x2="199.5" y2="311.2" stroke="#666" stroke-width="1"/>
<line x1="288.5" y1="197.25" x2="288.5" y2="311.2" stroke="#5a5a5a" stroke-width="1"/>
<line x1="199.5" y1="213.3" x2="288.5" y2="213.3" stroke="#6a6a6a" stroke-width="1"/>
<text x="246.3" y="212.1" font-family="Liberation Sans" font-size="6.5" font-weight="bold" text-anchor="middle" fill="#111">RN1</text>
<text x="243.2" y="176.5" font-family="Liberation Serif" font-size="8" text-anchor="middle" fill="#333">300 IU/mL hrIL-2</text>
<path d="M352,312.3V301.52H352.5V302.16H353V290.6H353.5V300.02H354V299.43H354.5V289.63H355V301.15H355.5V301.19H356V300.79H356.5V295.89H357V299.99H357.5V296.97H358V294.28H358.5V289.79H359V297.2H359.5V294.89H360V295.11H360.5V293.64H361V291.44H361.5V293.56H362V287.61H362.5V285.59H363V291.53H363.5V284.22H364V290.95H364.5V285.16H365V290.83H365.5V289.94H366V283.97H366.5V283.43H367V290.17H367.5V278.86H368V289.81H368.5V286.63H369V287.8H369.5V288.8H370V289.65H370.5V277.99H371V279.12H371.5V283.15H372V280.83H372.5V286.61H373V286.11H373.5V288.48H374V287.3H374.5V288.78H375V279.56H375.5V290.76H376V291.34H376.5V280.22H377V291.56H377.5V289.96H378V292.28H378.5V292.58H379V293.04H379.5V293.96H380V286.8H380.5V292.6H381V295.35H381.5V294.47H382V293.07H382.5V295.93H383V296.64H383.5V296.43H384V297.42H384.5V289.4H385V295.88H385.5V298.27H386V298.4H386.5V298.65H387V290.5H387.5V299.33H388V298.61H388.5V299.75H389V288.69H389.5V300.11H390V299.88H390.5V297.62H391V293.48H391.5V295.68H392V295.27H392.5V294.92H393V291.16H393.5V292.6H394V295.71H394.5V300.22H395V299.3H395.5V295.78H396V299.05H396.5V300.92H397V297.22H397.5V301.49H398V301.47H398.5V296.11H399V300.7H399.5V302.21H400V302.39H400.5V299.71H401V292.27H401.5V294.83H402V290.95H402.5V301.72H403V302.41H403.5V300.28H404V292.63H404.5V300.85H405V300.94H405.5V298.57H406V302.3H406.5V302.54H407V298.97H407.5V302.98H408V302.29H408.5V300.86H409V291.56H409.5V302.23H410V290.44H410.5V301.61H411V303.34H411.5V291.5H412V301.7H412.5V294.44H413V296.75H413.5V294.65H414V303.72H414.5V302.18H415V303.77H415.5V300.83H416V303.73H416.5V300.63H417V303.44H417.5V303.99H418V304.28H418.5V296.69H419V300.48H419.5V302.96H420V304.42H420.5V302.92H421V302.23H421.5V304.63H422V299H422.5V304.77H423V303.26H423.5V302.17H424V304.91H424.5V299.15H425V300.43H425.5V305.18H426V305.58H426.5V302.9H427V304.39H427.5V305.87H428V303.42H428.5V304.85H429V305.61H429.5V295.75H430V305.94H430.5V299.14H431V303.71H431.5V305.06H432V306.33H432.5V301.72H433V306.44H433.5V305.25H434V306.24H434.5V305.77H435V294.43H435.5V303.92H436V304.3H436.5V305.24H437V306.31H437.5V305.48H438V305.91H438.5V305.67H439V302.05H439.5V305.82H440V305.54H440.5V297.78H441V304.35H441.5V298.29H442V304.58H442.5V304.4H443V304.84H443.5V302.95H444V303.45H444.5V300.2H445V295.52H445.5V304.27H446V302.05H446.5V296.38H447V302.96H447.5V303.55H448V302.02H448.5V299.25H449V299.76H449.5V300.32H450V299.98H450.5V300.46H451V299.94H451.5V300.14H452V300.25H452.5V301.12H453V301.26H453.5V292.46H454V293.84H454.5V303.04H455V303.76H455.5V300.32H456V303.78H456.5V300.53H457V297.57H457.5V302.62H458V306.57H458.5V301.82H459V307.02H459.5V307.23H460V307.2H460.5V307.74H461V304.52H461.5V300.57H462V303.55H462.5V307.65H463V308.09H463.5V301.59H464V308.7H464.5V301.28H465V309.39H465.5V309.75H466V309.85H466.5V304.33H467V305.72H467.5V304.73H468V309.25H468.5V298.32H469V295.06H469.5V298.09H469.7V312.3Z" fill="#00ff00"/>
<rect x="351.5" y="184.5" width="118.7" height="127.8" fill="none" stroke="#8a8a8a" stroke-width="1"/>
<line x1="351.5" y1="312.3" x2="470.2" y2="312.3" stroke="#333" stroke-width="1"/>
<line x1="348.3" y1="312.3" x2="351.5" y2="312.3" stroke="#444" stroke-width="0.8"/>
<text x="0" y="0" font-family="Liberation Sans" font-size="7.5" text-anchor="end" fill="#2a2a2a" transform="translate(346.2,314.9) scale(0.87,1)">0</text>
<line x1="349" y1="299.52" x2="351.5" y2="299.52" stroke="#777" stroke-width="0.7"/>
<line x1="348.3" y1="286.74" x2="351.5" y2="286.74" stroke="#444" stroke-width="0.8"/>
<text x="0" y="0" font-family="Liberation Sans" font-size="7.5" text-anchor="end" fill="#2a2a2a" transform="translate(346.2,289.34) scale(0.87,1)">20</text>
<line x1="349" y1="273.96" x2="351.5" y2="273.96" stroke="#777" stroke-width="0.7"/>
<line x1="348.3" y1="261.18" x2="351.5" y2="261.18" stroke="#444" stroke-width="0.8"/>
<text x="0" y="0" font-family="Liberation Sans" font-size="7.5" text-anchor="end" fill="#2a2a2a" transform="translate(346.2,263.78) scale(0.87,1)">40</text>
<line x1="349" y1="248.4" x2="351.5" y2="248.4" stroke="#777" stroke-width="0.7"/>
<line x1="348.3" y1="235.62" x2="351.5" y2="235.62" stroke="#444" stroke-width="0.8"/>
<text x="0" y="0" font-family="Liberation Sans" font-size="7.5" text-anchor="end" fill="#2a2a2a" transform="translate(346.2,238.22) scale(0.87,1)">60</text>
<line x1="349" y1="222.84" x2="351.5" y2="222.84" stroke="#777" stroke-width="0.7"/>
<line x1="348.3" y1="210.06" x2="351.5" y2="210.06" stroke="#444" stroke-width="0.8"/>
<text x="0" y="0" font-family="Liberation Sans" font-size="7.5" text-anchor="end" fill="#2a2a2a" transform="translate(346.2,212.66) scale(0.87,1)">80</text>
<line x1="349" y1="197.28" x2="351.5" y2="197.28" stroke="#777" stroke-width="0.7"/>
<line x1="348.3" y1="184.5" x2="351.5" y2="184.5" stroke="#444" stroke-width="0.8"/>
<text x="0" y="0" font-family="Liberation Sans" font-size="7.5" text-anchor="end" fill="#2a2a2a" transform="translate(346.2,187.1) scale(0.87,1)">100</text>
<line x1="351.75" y1="312.3" x2="351.75" y2="315.8" stroke="#555" stroke-width="0.8"/>
<text x="0" y="0" font-family="Liberation Sans" font-size="7.3" text-anchor="middle" fill="#2a2a2a" transform="translate(351.75,322.7) scale(0.87,1)">1</text>
<line x1="363.57" y1="312.3" x2="363.57" y2="314.1" stroke="#666" stroke-width="0.7"/>
<line x1="370.48" y1="312.3" x2="370.48" y2="314.1" stroke="#666" stroke-width="0.7"/>
<line x1="375.38" y1="312.3" x2="375.38" y2="314.1" stroke="#666" stroke-width="0.7"/>
<line x1="379.18" y1="312.3" x2="379.18" y2="314.1" stroke="#666" stroke-width="0.7"/>
<line x1="382.29" y1="312.3" x2="382.29" y2="314.1" stroke="#666" stroke-width="0.7"/>
<line x1="384.92" y1="312.3" x2="384.92" y2="314.1" stroke="#666" stroke-width="0.7"/>
<line x1="387.2" y1="312.3" x2="387.2" y2="314.1" stroke="#666" stroke-width="0.7"/>
<line x1="389.2" y1="312.3" x2="389.2" y2="314.1" stroke="#666" stroke-width="0.7"/>
<line x1="391" y1="312.3" x2="391" y2="315.8" stroke="#555" stroke-width="0.8"/>
<text x="0" y="0" font-family="Liberation Sans" font-size="7.3" text-anchor="middle" fill="#2a2a2a" transform="translate(391,322.7) scale(0.87,1)">10</text>
<line x1="402.82" y1="312.3" x2="402.82" y2="314.1" stroke="#666" stroke-width="0.7"/>
<line x1="409.73" y1="312.3" x2="409.73" y2="314.1" stroke="#666" stroke-width="0.7"/>
<line x1="414.63" y1="312.3" x2="414.63" y2="314.1" stroke="#666" stroke-width="0.7"/>
<line x1="418.43" y1="312.3" x2="418.43" y2="314.1" stroke="#666" stroke-width="0.7"/>
<line x1="421.54" y1="312.3" x2="421.54" y2="314.1" stroke="#666" stroke-width="0.7"/>
<line x1="424.17" y1="312.3" x2="424.17" y2="314.1" stroke="#666" stroke-width="0.7"/>
<line x1="426.45" y1="312.3" x2="426.45" y2="314.1" stroke="#666" stroke-width="0.7"/>
<line x1="428.45" y1="312.3" x2="428.45" y2="314.1" stroke="#666" stroke-width="0.7"/>
<line x1="430.25" y1="312.3" x2="430.25" y2="315.8" stroke="#555" stroke-width="0.8"/>
<text x="0" y="0" font-family="Liberation Sans" font-size="7.3" text-anchor="middle" fill="#2a2a2a" transform="translate(430.25,322.7) scale(0.87,1)">100</text>
<line x1="442.07" y1="312.3" x2="442.07" y2="314.1" stroke="#666" stroke-width="0.7"/>
<line x1="448.98" y1="312.3" x2="448.98" y2="314.1" stroke="#666" stroke-width="0.7"/>
<line x1="453.88" y1="312.3" x2="453.88" y2="314.1" stroke="#666" stroke-width="0.7"/>
<line x1="457.68" y1="312.3" x2="457.68" y2="314.1" stroke="#666" stroke-width="0.7"/>
<line x1="460.79" y1="312.3" x2="460.79" y2="314.1" stroke="#666" stroke-width="0.7"/>
<line x1="463.42" y1="312.3" x2="463.42" y2="314.1" stroke="#666" stroke-width="0.7"/>
<line x1="465.7" y1="312.3" x2="465.7" y2="314.1" stroke="#666" stroke-width="0.7"/>
<line x1="467.7" y1="312.3" x2="467.7" y2="314.1" stroke="#666" stroke-width="0.7"/>
<line x1="469.5" y1="312.3" x2="469.5" y2="315.8" stroke="#555" stroke-width="0.8"/>
<text x="0" y="0" font-family="Liberation Sans" font-size="7.3" text-anchor="middle" fill="#2a2a2a" transform="translate(468.3,322.7) scale(0.87,1)">1000</text>
<line x1="353.75" y1="198" x2="353.75" y2="312.3" stroke="#666" stroke-width="1"/>
<line x1="445.6" y1="198" x2="445.6" y2="312.3" stroke="#5a5a5a" stroke-width="1"/>
<line x1="353.75" y1="213.5" x2="445.6" y2="213.5" stroke="#6a6a6a" stroke-width="1"/>
<text x="401.9" y="212.3" font-family="Liberation Sans" font-size="6.5" font-weight="bold" text-anchor="middle" fill="#111">RN1</text>
<text x="404.6" y="176.5" font-family="Liberation Serif" font-size="8" text-anchor="middle" fill="#333">400 IU/mL hrIL-2</text>
<rect x="168.8" y="10.2" width="0.8" height="0.8" fill="#bbb"/>
<rect x="324.1" y="180.6" width="0.8" height="0.8" fill="#bbb"/>
<text x="420.2" y="13.3" font-family="Liberation Serif" font-size="10.3" font-weight="bold" text-anchor="start" fill="#111">B</text>
<line x1="465.2" y1="18.5" x2="465.2" y2="129.3" stroke="#999" stroke-width="0.8"/>
<line x1="465.2" y1="129.3" x2="683.5" y2="129.3" stroke="#666" stroke-width="0.9"/>
<line x1="462.4" y1="129.3" x2="465.2" y2="129.3" stroke="#888" stroke-width="0.7"/>
<text x="461.7" y="131.2" font-family="Liberation Sans" font-size="5.3" text-anchor="end" fill="#505050">0</text>
<line x1="462.4" y1="107.24" x2="465.2" y2="107.24" stroke="#888" stroke-width="0.7"/>
<text x="461.7" y="109.14" font-family="Liberation Sans" font-size="5.3" text-anchor="end" fill="#505050">20</text>
<line x1="462.4" y1="85.18" x2="465.2" y2="85.18" stroke="#888" stroke-width="0.7"/>
<text x="461.7" y="87.08" font-family="Liberation Sans" font-size="5.3" text-anchor="end" fill="#505050">40</text>
<line x1="462.4" y1="63.12" x2="465.2" y2="63.12" stroke="#888" stroke-width="0.7"/>
<text x="461.7" y="65.02" font-family="Liberation Sans" font-size="5.3" text-anchor="end" fill="#505050">60</text>
<line x1="462.4" y1="41.06" x2="465.2" y2="41.06" stroke="#888" stroke-width="0.7"/>
<text x="461.7" y="42.96" font-family="Liberation Sans" font-size="5.3" text-anchor="end" fill="#505050">80</text>
<line x1="462.4" y1="19" x2="465.2" y2="19" stroke="#888" stroke-width="0.7"/>
<text x="461.7" y="20.9" font-family="Liberation Sans" font-size="5.3" text-anchor="end" fill="#505050">100</text>
<rect x="486.2" y="24.4" width="8.6" height="3.8" fill="#f2f2f2" stroke="#888" stroke-width="0.8"/>
<rect x="486.2" y="34.2" width="8.6" height="3.4" fill="#333" stroke="#333" stroke-width="0.6"/>
<text x="499.8" y="28.7" font-family="Liberation Serif" font-size="6.5" text-anchor="start" fill="#444">LRF-NK</text>
<text x="499.8" y="38" font-family="Liberation Serif" font-size="6.5" text-anchor="start" fill="#444">PB-NK</text>
<text x="0" y="0" font-family="Liberation Serif" font-size="11.2" text-anchor="middle" fill="#2a2a2a" transform="translate(438.4,75.4) rotate(-90)">Cell proliferation(%)</text>
<rect x="471.5" y="107.13" width="11" height="22.17" fill="url(#pl)" stroke="#3a3a3a" stroke-width="0.8"/>
<line x1="477" y1="107.13" x2="477" y2="101.5" stroke="#444" stroke-width="0.8"/>
<line x1="474.5" y1="101.5" x2="479.5" y2="101.5" stroke="#777" stroke-width="0.8"/>
<rect x="487.5" y="105.25" width="11" height="24.05" fill="url(#pd)" stroke="#333" stroke-width="0.6"/>
<line x1="493" y1="105.25" x2="493" y2="98.75" stroke="#888" stroke-width="0.8"/>
<line x1="490.5" y1="98.75" x2="495.5" y2="98.75" stroke="#888" stroke-width="0.8"/>
<line x1="476.3" y1="95.2" x2="493.7" y2="95.2" stroke="#555" stroke-width="0.8"/>
<line x1="476.3" y1="93.9" x2="476.3" y2="96.5" stroke="#555" stroke-width="0.7"/>
<line x1="493.7" y1="93.9" x2="493.7" y2="96.5" stroke="#555" stroke-width="0.7"/>
<text x="485" y="92.8" font-family="Liberation Serif" font-size="6.6" text-anchor="middle" fill="#444">ns</text>
<line x1="485" y1="129.3" x2="485" y2="131.5" stroke="#666" stroke-width="0.7"/>
<text x="0" y="0" font-family="Liberation Serif" font-size="8.65" text-anchor="end" fill="#222" transform="translate(487.2,138.3) rotate(-43)">Ctrl</text>
<rect x="516" y="101.5" width="11" height="27.8" fill="url(#pl)" stroke="#3a3a3a" stroke-width="0.8"/>
<line x1="521.5" y1="101.5" x2="521.5" y2="98.31" stroke="#444" stroke-width="0.8"/>
<line x1="519" y1="98.31" x2="524" y2="98.31" stroke="#777" stroke-width="0.8"/>
<rect x="532" y="100.51" width="11" height="28.79" fill="url(#pd)" stroke="#333" stroke-width="0.6"/>
<line x1="537.5" y1="100.51" x2="537.5" y2="97.97" stroke="#888" stroke-width="0.8"/>
<line x1="535" y1="97.97" x2="540" y2="97.97" stroke="#888" stroke-width="0.8"/>
<line x1="520.8" y1="95" x2="538.2" y2="95" stroke="#555" stroke-width="0.8"/>
<line x1="520.8" y1="93.7" x2="520.8" y2="96.3" stroke="#555" stroke-width="0.7"/>
<line x1="538.2" y1="93.7" x2="538.2" y2="96.3" stroke="#555" stroke-width="0.7"/>
<text x="529.5" y="92.6" font-family="Liberation Serif" font-size="6.6" text-anchor="middle" fill="#444">ns</text>
<line x1="529.5" y1="129.3" x2="529.5" y2="131.5" stroke="#666" stroke-width="0.7"/>
<text x="0" y="0" font-family="Liberation Serif" font-size="8.65" text-anchor="end" fill="#222" transform="translate(531.7,138.3) rotate(-43)">200 IU/ml hrIL-2</text>
<rect x="560.3" y="96.21" width="11" height="33.09" fill="url(#pl)" stroke="#3a3a3a" stroke-width="0.8"/>
<rect x="576.3" y="93.78" width="11" height="35.52" fill="url(#pd)" stroke="#333" stroke-width="0.6"/>
<line x1="581.8" y1="93.78" x2="581.8" y2="90.03" stroke="#888" stroke-width="0.8"/>
<line x1="579.3" y1="90.03" x2="584.3" y2="90.03" stroke="#888" stroke-width="0.8"/>
<line x1="565.1" y1="86.8" x2="582.5" y2="86.8" stroke="#555" stroke-width="0.8"/>
<line x1="565.1" y1="85.5" x2="565.1" y2="88.1" stroke="#555" stroke-width="0.7"/>
<line x1="582.5" y1="85.5" x2="582.5" y2="88.1" stroke="#555" stroke-width="0.7"/>
<text x="573.8" y="84.4" font-family="Liberation Serif" font-size="6.6" text-anchor="middle" fill="#444">ns</text>
<line x1="573.8" y1="129.3" x2="573.8" y2="131.5" stroke="#666" stroke-width="0.7"/>
<text x="0" y="0" font-family="Liberation Serif" font-size="8.65" text-anchor="end" fill="#222" transform="translate(576,138.3) rotate(-43)">300 IU/ml hrIL-2</text>
<rect x="605" y="84.3" width="11" height="45" fill="url(#pl)" stroke="#3a3a3a" stroke-width="0.8"/>
<line x1="610.5" y1="84.3" x2="610.5" y2="79.55" stroke="#444" stroke-width="0.8"/>
<line x1="608" y1="79.55" x2="613" y2="79.55" stroke="#777" stroke-width="0.8"/>
<rect x="621" y="80.77" width="11" height="48.53" fill="url(#pd)" stroke="#333" stroke-width="0.6"/>
<line x1="626.5" y1="80.77" x2="626.5" y2="75.25" stroke="#888" stroke-width="0.8"/>
<line x1="624" y1="75.25" x2="629" y2="75.25" stroke="#888" stroke-width="0.8"/>
<line x1="609.8" y1="72.8" x2="627.2" y2="72.8" stroke="#555" stroke-width="0.8"/>
<line x1="609.8" y1="71.5" x2="609.8" y2="74.1" stroke="#555" stroke-width="0.7"/>
<line x1="627.2" y1="71.5" x2="627.2" y2="74.1" stroke="#555" stroke-width="0.7"/>
<text x="618.5" y="70.4" font-family="Liberation Serif" font-size="6.6" text-anchor="middle" fill="#444">ns</text>
<line x1="618.5" y1="129.3" x2="618.5" y2="131.5" stroke="#666" stroke-width="0.7"/>
<text x="0" y="0" font-family="Liberation Serif" font-size="8.65" text-anchor="end" fill="#222" transform="translate(620.7,138.3) rotate(-43)">400 IU/ml hrIL-2</text>
<rect x="649.3" y="46.24" width="11" height="83.06" fill="url(#pl)" stroke="#3a3a3a" stroke-width="0.8"/>
<line x1="654.8" y1="46.24" x2="654.8" y2="41.94" stroke="#444" stroke-width="0.8"/>
<line x1="652.3" y1="41.94" x2="657.3" y2="41.94" stroke="#777" stroke-width="0.8"/>
<rect x="665.3" y="44.04" width="11" height="85.26" fill="url(#pd)" stroke="#333" stroke-width="0.6"/>
<line x1="670.8" y1="44.04" x2="670.8" y2="37.09" stroke="#888" stroke-width="0.8"/>
<line x1="668.3" y1="37.09" x2="673.3" y2="37.09" stroke="#888" stroke-width="0.8"/>
<line x1="654.1" y1="34.4" x2="671.5" y2="34.4" stroke="#555" stroke-width="0.8"/>
<line x1="654.1" y1="33.1" x2="654.1" y2="35.7" stroke="#555" stroke-width="0.7"/>
<line x1="671.5" y1="33.1" x2="671.5" y2="35.7" stroke="#555" stroke-width="0.7"/>
<text x="662.8" y="32" font-family="Liberation Serif" font-size="6.6" text-anchor="middle" fill="#444">ns</text>
<line x1="662.8" y1="129.3" x2="662.8" y2="131.5" stroke="#666" stroke-width="0.7"/>
<text x="0" y="0" font-family="Liberation Serif" font-size="8.65" text-anchor="end" fill="#222" transform="translate(665,138.3) rotate(-43)">PHA</text>
<text x="490.4" y="193.6" font-family="Liberation Serif" font-size="10.3" font-weight="bold" text-anchor="start" fill="#111">C</text>
<text x="598.2" y="192.3" font-family="Liberation Serif" font-size="8.2" text-anchor="middle" fill="#222">400IU/mL hrIL-2 (14th day)</text>
<rect x="558.78" y="263.98" width="1" height="1" fill="#55b0ff"/><rect x="562.08" y="268.57" width="1" height="1" fill="#66b8ff"/><rect x="549.71" y="242.33" width="1" height="1" fill="#66b8ff"/><rect x="537.38" y="265.62" width="1" height="1" fill="#66b8ff"/><rect x="565.12" y="283.99" width="1" height="1" fill="#66b8ff"/><rect x="567.23" y="272.14" width="1" height="1" fill="#55b0ff"/><rect x="542.59" y="239.68" width="1" height="1" fill="#55b0ff"/><rect x="559.22" y="259.15" width="1" height="1" fill="#55b0ff"/><rect x="554.9" y="267.51" width="1" height="1" fill="#55b0ff"/><rect x="546.64" y="271.35" width="1" height="1" fill="#1e90ff"/><rect x="548.97" y="270.35" width="1" height="1" fill="#66b8ff"/><rect x="537.71" y="276.55" width="1" height="1" fill="#80c4ff"/><rect x="562.49" y="263.61" width="1" height="1" fill="#55b0ff"/><rect x="541.8" y="260.39" width="1" height="1" fill="#80c4ff"/><rect x="553.6" y="243.24" width="1" height="1" fill="#66b8ff"/><rect x="546.37" y="276.23" width="1" height="1" fill="#1e90ff"/><rect x="544.17" y="272.06" width="1" height="1" fill="#1e90ff"/><rect x="555.78" y="263.47" width="1" height="1" fill="#2a98ff"/><rect x="545.61" y="273.04" width="1" height="1" fill="#66b8ff"/><rect x="565.05" y="254.79" width="1" height="1" fill="#55b0ff"/><rect x="538.94" y="260.06" width="1" height="1" fill="#2a98ff"/><rect x="551.16" y="254.63" width="1" height="1" fill="#55b0ff"/><rect x="565.32" y="270.15" width="1" height="1" fill="#1e90ff"/><rect x="543.75" y="262.77" width="1" height="1" fill="#2a98ff"/><rect x="546.76" y="268.55" width="1" height="1" fill="#2a98ff"/><rect x="543.4" y="271.24" width="1" height="1" fill="#1e90ff"/><rect x="540.02" y="263.91" width="1" height="1" fill="#2a98ff"/><rect x="536.84" y="256.06" width="1" height="1" fill="#2a98ff"/><rect x="545.22" y="257.26" width="1" height="1" fill="#1e90ff"/><rect x="538.9" y="269.54" width="1" height="1" fill="#66b8ff"/><rect x="535.4" y="301.66" width="1" height="1" fill="#1e90ff"/><rect x="535.82" y="269.82" width="1" height="1" fill="#a8d6ff"/><rect x="562.98" y="281.56" width="1" height="1" fill="#2a98ff"/><rect x="536.69" y="265.74" width="1" height="1" fill="#1e90ff"/><rect x="552.4" y="260.96" width="1" height="1" fill="#55b0ff"/><rect x="554.86" y="270.37" width="1" height="1" fill="#55b0ff"/><rect x="533.48" y="281.34" width="1" height="1" fill="#2a98ff"/><rect x="558.76" y="259.84" width="1" height="1" fill="#a8d6ff"/><rect x="573.58" y="262.69" width="1" height="1" fill="#1e90ff"/><rect x="541.97" y="260.65" width="1" height="1" fill="#55b0ff"/><rect x="537.78" y="286.2" width="1" height="1" fill="#80c4ff"/><rect x="568.88" y="270.78" width="1" height="1" fill="#80c4ff"/><rect x="544.04" y="273.66" width="1" height="1" fill="#66b8ff"/><rect x="569.18" y="281.92" width="1" height="1" fill="#1e90ff"/><rect x="573.15" y="276.95" width="1" height="1" fill="#1e90ff"/><rect x="568.43" y="284.3" width="1" height="1" fill="#1e90ff"/><rect x="564.18" y="264.24" width="1" height="1" fill="#2a98ff"/><rect x="568.18" y="273.73" width="1" height="1" fill="#66b8ff"/><rect x="545.04" y="258.06" width="1" height="1" fill="#a8d6ff"/><rect x="547.13" y="277.74" width="1" height="1" fill="#2a98ff"/><rect x="568.48" y="267.71" width="1" height="1" fill="#80c4ff"/><rect x="555.95" y="270.69" width="1" height="1" fill="#2a98ff"/><rect x="558.79" y="274.8" width="1" height="1" fill="#a8d6ff"/><rect x="572.09" y="251.92" width="1" height="1" fill="#1e90ff"/><rect x="574.06" y="254.57" width="1" height="1" fill="#55b0ff"/><rect x="538.49" y="267.96" width="1" height="1" fill="#55b0ff"/><rect x="544.18" y="263.57" width="1" height="1" fill="#80c4ff"/><rect x="561.59" y="265.31" width="1" height="1" fill="#2a98ff"/><rect x="538.73" y="240.23" width="1" height="1" fill="#2a98ff"/><rect x="536.02" y="277.67" width="1" height="1" fill="#2a98ff"/><rect x="534.37" y="260.85" width="1" height="1" fill="#2a98ff"/><rect x="563.25" y="270.16" width="1" height="1" fill="#1e90ff"/><rect x="533.35" y="279.18" width="1" height="1" fill="#1e90ff"/><rect x="566.32" y="249.3" width="1" height="1" fill="#66b8ff"/><rect x="549.58" y="264.14" width="1" height="1" fill="#1e90ff"/><rect x="553.56" y="283.34" width="1" height="1" fill="#80c4ff"/><rect x="549.39" y="261.25" width="1" height="1" fill="#2a98ff"/><rect x="560.56" y="277.53" width="1" height="1" fill="#a8d6ff"/><rect x="568.22" y="272.93" width="1" height="1" fill="#1e90ff"/><rect x="544.02" y="263.76" width="1" height="1" fill="#a8d6ff"/><rect x="550.36" y="258.12" width="1" height="1" fill="#80c4ff"/><rect x="539.95" y="263.55" width="1" height="1" fill="#2a98ff"/><rect x="535.86" y="262.04" width="1" height="1" fill="#1e90ff"/><rect x="575.37" y="278.43" width="1" height="1" fill="#66b8ff"/><rect x="572.27" y="287.25" width="1" height="1" fill="#80c4ff"/><rect x="574.9" y="245.22" width="1" height="1" fill="#1e90ff"/><rect x="558.4" y="268.95" width="1" height="1" fill="#a8d6ff"/><rect x="561.05" y="263.91" width="1" height="1" fill="#2a98ff"/><rect x="557.9" y="263.33" width="1" height="1" fill="#1e90ff"/><rect x="574.45" y="281.19" width="1" height="1" fill="#a8d6ff"/><rect x="552.04" y="261.92" width="1" height="1" fill="#a8d6ff"/><rect x="546.03" y="260.09" width="1" height="1" fill="#1e90ff"/><rect x="571.1" y="274.51" width="1" height="1" fill="#2a98ff"/><rect x="561.16" y="268.74" width="1" height="1" fill="#1e90ff"/><rect x="550.55" y="281.41" width="1" height="1" fill="#2a98ff"/><rect x="547.25" y="275.75" width="1" height="1" fill="#1e90ff"/><rect x="556.59" y="255.81" width="1" height="1" fill="#66b8ff"/><rect x="555.85" y="274.28" width="1" height="1" fill="#2a98ff"/><rect x="548.31" y="272.73" width="1" height="1" fill="#1e90ff"/><rect x="571.34" y="272.07" width="1" height="1" fill="#66b8ff"/><rect x="555.09" y="284.17" width="1" height="1" fill="#1e90ff"/><rect x="542.28" y="281.7" width="1" height="1" fill="#a8d6ff"/><rect x="536.2" y="259.28" width="1" height="1" fill="#a8d6ff"/><rect x="552.42" y="265.89" width="1" height="1" fill="#2a98ff"/><rect x="555.36" y="269.61" width="1" height="1" fill="#2a98ff"/><rect x="536.84" y="281.69" width="1" height="1" fill="#66b8ff"/><rect x="553.5" y="263.68" width="1" height="1" fill="#a8d6ff"/><rect x="548.82" y="265.13" width="1" height="1" fill="#1e90ff"/><rect x="535.46" y="247.11" width="1" height="1" fill="#80c4ff"/><rect x="555.2" y="275.64" width="1" height="1" fill="#2a98ff"/><rect x="562.86" y="267.74" width="1" height="1" fill="#a8d6ff"/><rect x="576.33" y="262.08" width="1" height="1" fill="#1e90ff"/><rect x="563.19" y="284.1" width="1" height="1" fill="#66b8ff"/><rect x="548.12" y="279.9" width="1" height="1" fill="#a8d6ff"/><rect x="539.02" y="281.21" width="1" height="1" fill="#80c4ff"/><rect x="565.75" y="263.98" width="1" height="1" fill="#66b8ff"/><rect x="537.72" y="268.12" width="1" height="1" fill="#2a98ff"/><rect x="541.6" y="263.76" width="1" height="1" fill="#1e90ff"/><rect x="547.27" y="282.21" width="1" height="1" fill="#55b0ff"/><rect x="540.65" y="268.91" width="1" height="1" fill="#80c4ff"/><rect x="544.19" y="264.44" width="1" height="1" fill="#a8d6ff"/><rect x="571.28" y="256.32" width="1" height="1" fill="#1e90ff"/><rect x="558.46" y="277.33" width="1" height="1" fill="#1e90ff"/><rect x="572.7" y="257.31" width="1" height="1" fill="#2a98ff"/><rect x="570.4" y="276.47" width="1" height="1" fill="#80c4ff"/><rect x="545.94" y="283.33" width="1" height="1" fill="#66b8ff"/><rect x="565.2" y="258.81" width="1" height="1" fill="#a8d6ff"/><rect x="537.2" y="248.87" width="1" height="1" fill="#a8d6ff"/><rect x="547.3" y="265.36" width="1" height="1" fill="#2a98ff"/><rect x="563.2" y="240.83" width="1" height="1" fill="#80c4ff"/><rect x="534.48" y="263.49" width="1" height="1" fill="#80c4ff"/><rect x="555.12" y="264.44" width="1" height="1" fill="#a8d6ff"/><rect x="567.1" y="286.51" width="1" height="1" fill="#55b0ff"/><rect x="560.99" y="283.83" width="1" height="1" fill="#a8d6ff"/><rect x="542.32" y="271.69" width="1" height="1" fill="#1e90ff"/><rect x="568.81" y="278.71" width="1" height="1" fill="#a8d6ff"/><rect x="556.61" y="269.21" width="1" height="1" fill="#66b8ff"/><rect x="536.75" y="268.98" width="1" height="1" fill="#2a98ff"/><rect x="566.99" y="273.03" width="1" height="1" fill="#1e90ff"/><rect x="543.78" y="280.34" width="1" height="1" fill="#1e90ff"/><rect x="561.56" y="263" width="1" height="1" fill="#a8d6ff"/><rect x="570.63" y="271.68" width="1" height="1" fill="#66b8ff"/><rect x="554.64" y="260.09" width="1" height="1" fill="#66b8ff"/><rect x="574.25" y="248.94" width="1" height="1" fill="#a8d6ff"/><rect x="533.62" y="264.05" width="1" height="1" fill="#55b0ff"/><rect x="552.98" y="272.76" width="1" height="1" fill="#a8d6ff"/><rect x="570.51" y="268.42" width="1" height="1" fill="#66b8ff"/><rect x="539.44" y="264.69" width="1" height="1" fill="#1e90ff"/><rect x="567.84" y="262.79" width="1" height="1" fill="#80c4ff"/><rect x="551.81" y="257.58" width="1" height="1" fill="#66b8ff"/><rect x="538.52" y="273.69" width="1" height="1" fill="#a8d6ff"/><rect x="570.51" y="258.41" width="1" height="1" fill="#2a98ff"/><rect x="557.98" y="276.23" width="1" height="1" fill="#66b8ff"/><rect x="540.78" y="272.01" width="1" height="1" fill="#80c4ff"/><rect x="571.54" y="264.72" width="1" height="1" fill="#66b8ff"/><rect x="538.96" y="265.75" width="1" height="1" fill="#2a98ff"/><rect x="546.78" y="253.36" width="1" height="1" fill="#55b0ff"/><rect x="547.94" y="270.4" width="1" height="1" fill="#80c4ff"/><rect x="546.46" y="281.96" width="1" height="1" fill="#66b8ff"/><rect x="545.62" y="268.04" width="1" height="1" fill="#66b8ff"/><rect x="533.8" y="236.29" width="1" height="1" fill="#2a98ff"/><rect x="534.54" y="275.64" width="1" height="1" fill="#55b0ff"/><rect x="538.05" y="263.32" width="1" height="1" fill="#2a98ff"/><rect x="543.09" y="259.78" width="1" height="1" fill="#66b8ff"/><rect x="552.9" y="266.42" width="1" height="1" fill="#55b0ff"/><rect x="554.18" y="281.73" width="1" height="1" fill="#80c4ff"/><rect x="574.65" y="270.39" width="1" height="1" fill="#55b0ff"/><rect x="555.66" y="267.36" width="1" height="1" fill="#66b8ff"/><rect x="565.55" y="280.7" width="1" height="1" fill="#1e90ff"/><rect x="559.01" y="253.86" width="1" height="1" fill="#55b0ff"/><rect x="559.09" y="261.67" width="1" height="1" fill="#66b8ff"/><rect x="566.73" y="274.29" width="1" height="1" fill="#66b8ff"/><rect x="570.5" y="282.91" width="1" height="1" fill="#66b8ff"/><rect x="544.36" y="261.24" width="1" height="1" fill="#a8d6ff"/><rect x="565.19" y="266.64" width="1" height="1" fill="#a8d6ff"/><rect x="559.11" y="254.41" width="1" height="1" fill="#80c4ff"/><rect x="546.33" y="256.84" width="1" height="1" fill="#a8d6ff"/><rect x="535.03" y="263.98" width="1" height="1" fill="#a8d6ff"/><rect x="545.76" y="252.92" width="1" height="1" fill="#55b0ff"/><rect x="552.07" y="296.93" width="1" height="1" fill="#2a98ff"/><rect x="547.05" y="267.83" width="1" height="1" fill="#55b0ff"/><rect x="546.27" y="275.54" width="1" height="1" fill="#1e90ff"/><rect x="537.67" y="289.74" width="1" height="1" fill="#a8d6ff"/><rect x="550.8" y="268.51" width="1" height="1" fill="#1e90ff"/><rect x="550.47" y="259.02" width="1" height="1" fill="#80c4ff"/><rect x="538.93" y="263.59" width="1" height="1" fill="#55b0ff"/><rect x="535.22" y="264.5" width="1" height="1" fill="#1e90ff"/><rect x="563.43" y="276.46" width="1" height="1" fill="#55b0ff"/><rect x="555.23" y="276.77" width="1" height="1" fill="#a8d6ff"/><rect x="572.88" y="263.66" width="1" height="1" fill="#80c4ff"/><rect x="556.7" y="273.55" width="1" height="1" fill="#80c4ff"/><rect x="556.57" y="270.83" width="1" height="1" fill="#2a98ff"/><rect x="576.17" y="255.68" width="1" height="1" fill="#a8d6ff"/><rect x="549.7" y="282.35" width="1" height="1" fill="#80c4ff"/><rect x="570.28" y="279.03" width="1" height="1" fill="#1e90ff"/><rect x="571.79" y="272.73" width="1" height="1" fill="#2a98ff"/><rect x="543.19" y="267.39" width="1" height="1" fill="#2a98ff"/><rect x="538.76" y="269.87" width="1" height="1" fill="#55b0ff"/><rect x="542.87" y="265.32" width="1" height="1" fill="#2a98ff"/><rect x="548.45" y="260.09" width="1" height="1" fill="#1e90ff"/><rect x="540.15" y="249.96" width="1" height="1" fill="#a8d6ff"/><rect x="559.72" y="254.26" width="1" height="1" fill="#66b8ff"/><rect x="540" y="264.64" width="1" height="1" fill="#66b8ff"/><rect x="557.52" y="239.38" width="1" height="1" fill="#2a98ff"/><rect x="535.66" y="275.7" width="1" height="1" fill="#80c4ff"/><rect x="545.93" y="246.59" width="1" height="1" fill="#80c4ff"/><rect x="537.71" y="272.67" width="1" height="1" fill="#2a98ff"/><rect x="570.63" y="280.13" width="1" height="1" fill="#55b0ff"/><rect x="559.33" y="274.22" width="1" height="1" fill="#1e90ff"/><rect x="545.32" y="263.96" width="1" height="1" fill="#55b0ff"/><rect x="564.51" y="260.85" width="1" height="1" fill="#80c4ff"/><rect x="561.17" y="258.47" width="1" height="1" fill="#a8d6ff"/><rect x="545.79" y="278.14" width="1" height="1" fill="#66b8ff"/><rect x="534.54" y="271.52" width="1" height="1" fill="#2a98ff"/><rect x="558.7" y="260.99" width="1" height="1" fill="#a8d6ff"/><rect x="557.38" y="278.58" width="1" height="1" fill="#2a98ff"/><rect x="542.42" y="265.73" width="1" height="1" fill="#1e90ff"/><rect x="573.08" y="267.92" width="1" height="1" fill="#a8d6ff"/><rect x="555.82" y="271.22" width="1" height="1" fill="#55b0ff"/><rect x="558.12" y="267.21" width="1" height="1" fill="#1e90ff"/><rect x="563.31" y="265.18" width="1" height="1" fill="#2a98ff"/><rect x="538.44" y="271.78" width="1" height="1" fill="#55b0ff"/><rect x="537.93" y="268.01" width="1" height="1" fill="#55b0ff"/><rect x="567.63" y="262.75" width="1" height="1" fill="#80c4ff"/><rect x="549.48" y="253.27" width="1" height="1" fill="#55b0ff"/><rect x="555.4" y="263.97" width="1" height="1" fill="#2a98ff"/><rect x="560.15" y="259.58" width="1" height="1" fill="#2a98ff"/><rect x="564.12" y="261.63" width="1" height="1" fill="#80c4ff"/><rect x="542.45" y="263.02" width="1" height="1" fill="#2a98ff"/><rect x="565.8" y="249.37" width="1" height="1" fill="#55b0ff"/><rect x="544.58" y="271.79" width="1" height="1" fill="#1e90ff"/><rect x="550.81" y="237.52" width="1" height="1" fill="#66b8ff"/><rect x="543.29" y="241.61" width="1" height="1" fill="#a8d6ff"/><rect x="537.53" y="263.68" width="1" height="1" fill="#80c4ff"/><rect x="533.49" y="251.63" width="1" height="1" fill="#55b0ff"/><rect x="565.71" y="269.94" width="1" height="1" fill="#55b0ff"/><rect x="546.84" y="275.4" width="1" height="1" fill="#80c4ff"/><rect x="564.86" y="266.98" width="1" height="1" fill="#66b8ff"/><rect x="536.03" y="273.31" width="1" height="1" fill="#66b8ff"/><rect x="535.02" y="268.53" width="1" height="1" fill="#1e90ff"/><rect x="552.99" y="260.95" width="1" height="1" fill="#66b8ff"/><rect x="573.8" y="265.13" width="1" height="1" fill="#55b0ff"/><rect x="546.98" y="271.56" width="1" height="1" fill="#66b8ff"/><rect x="563.96" y="273.04" width="1" height="1" fill="#a8d6ff"/><rect x="572.89" y="268.9" width="1" height="1" fill="#1e90ff"/><rect x="565.9" y="269.77" width="1" height="1" fill="#80c4ff"/><rect x="541.83" y="280.35" width="1" height="1" fill="#80c4ff"/><rect x="559.16" y="266.07" width="1" height="1" fill="#a8d6ff"/><rect x="546.06" y="271.31" width="1" height="1" fill="#a8d6ff"/><rect x="545.19" y="255.9" width="1" height="1" fill="#55b0ff"/><rect x="572.01" y="281.44" width="1" height="1" fill="#55b0ff"/><rect x="535.19" y="278.71" width="1" height="1" fill="#a8d6ff"/><rect x="559.59" y="249.57" width="1" height="1" fill="#80c4ff"/><rect x="535.01" y="280.21" width="1" height="1" fill="#55b0ff"/><rect x="555.82" y="246.68" width="1" height="1" fill="#55b0ff"/><rect x="574.06" y="280.73" width="1" height="1" fill="#66b8ff"/><rect x="558.74" y="268.86" width="1" height="1" fill="#66b8ff"/><rect x="542.64" y="275.77" width="1" height="1" fill="#2a98ff"/><rect x="549.95" y="268.37" width="1" height="1" fill="#66b8ff"/><rect x="564.99" y="274.86" width="1" height="1" fill="#2a98ff"/><rect x="559.46" y="256.9" width="1" height="1" fill="#55b0ff"/><rect x="538.46" y="281.97" width="1" height="1" fill="#80c4ff"/><rect x="542.84" y="250.68" width="1" height="1" fill="#2a98ff"/><rect x="564.62" y="271.46" width="1" height="1" fill="#80c4ff"/><rect x="545.52" y="259.46" width="1" height="1" fill="#80c4ff"/><rect x="552.25" y="272.56" width="1" height="1" fill="#2a98ff"/><rect x="561.35" y="263.37" width="1" height="1" fill="#66b8ff"/><rect x="557.36" y="253.65" width="1" height="1" fill="#80c4ff"/><rect x="570.99" y="271.71" width="1" height="1" fill="#66b8ff"/><rect x="540.52" y="275.24" width="1" height="1" fill="#1e90ff"/><rect x="565.98" y="260.55" width="1" height="1" fill="#a8d6ff"/><rect x="570.04" y="276.57" width="1" height="1" fill="#55b0ff"/><rect x="544.09" y="272.79" width="1" height="1" fill="#1e90ff"/><rect x="575.52" y="268.32" width="1" height="1" fill="#2a98ff"/><rect x="533.5" y="272.84" width="1" height="1" fill="#2a98ff"/><rect x="563.88" y="264.18" width="1" height="1" fill="#80c4ff"/><rect x="536.29" y="275.65" width="1" height="1" fill="#1e90ff"/><rect x="536.04" y="282.04" width="1" height="1" fill="#55b0ff"/><rect x="545.86" y="282.72" width="1" height="1" fill="#55b0ff"/><rect x="570.95" y="258.94" width="1" height="1" fill="#55b0ff"/><rect x="575.78" y="275.37" width="1" height="1" fill="#2a98ff"/><rect x="566.57" y="269.15" width="1" height="1" fill="#2a98ff"/><rect x="561.66" y="280.17" width="1" height="1" fill="#2a98ff"/><rect x="541.39" y="270.57" width="1" height="1" fill="#66b8ff"/><rect x="549.8" y="269.25" width="1" height="1" fill="#1e90ff"/><rect x="576.34" y="268.85" width="1" height="1" fill="#2a98ff"/><rect x="544.89" y="271.53" width="1" height="1" fill="#55b0ff"/><rect x="552.33" y="263.65" width="1" height="1" fill="#55b0ff"/><rect x="537.68" y="261.28" width="1" height="1" fill="#1e90ff"/><rect x="561.47" y="270.5" width="1" height="1" fill="#66b8ff"/><rect x="538.13" y="266.54" width="1" height="1" fill="#2a98ff"/><rect x="536.82" y="254.57" width="1" height="1" fill="#1e90ff"/><rect x="546.46" y="242.86" width="1" height="1" fill="#66b8ff"/><rect x="546.28" y="268.08" width="1" height="1" fill="#1e90ff"/><rect x="540.73" y="289.82" width="1" height="1" fill="#2a98ff"/><rect x="563.66" y="262.88" width="1" height="1" fill="#2a98ff"/><rect x="543.07" y="271.31" width="1" height="1" fill="#1e90ff"/><rect x="535.31" y="275.24" width="1" height="1" fill="#80c4ff"/><rect x="534.47" y="256.25" width="1" height="1" fill="#55b0ff"/><rect x="555.48" y="266.88" width="1" height="1" fill="#55b0ff"/><rect x="546.85" y="284.26" width="1" height="1" fill="#a8d6ff"/><rect x="559.95" y="268.62" width="1" height="1" fill="#1e90ff"/><rect x="554.9" y="251.44" width="1" height="1" fill="#66b8ff"/><rect x="575.92" y="262.42" width="1" height="1" fill="#80c4ff"/><rect x="570.56" y="265.27" width="1" height="1" fill="#1e90ff"/><rect x="544.96" y="256.62" width="1" height="1" fill="#a8d6ff"/><rect x="549.3" y="278.23" width="1" height="1" fill="#80c4ff"/><rect x="547.83" y="265.66" width="1" height="1" fill="#66b8ff"/><rect x="548.9" y="292.02" width="1" height="1" fill="#55b0ff"/><rect x="533.4" y="298.32" width="1" height="1" fill="#1e90ff"/><rect x="557.84" y="275.05" width="1" height="1" fill="#2a98ff"/><rect x="557.98" y="263.73" width="1" height="1" fill="#80c4ff"/><rect x="547.47" y="267.92" width="1" height="1" fill="#1e90ff"/><rect x="536.96" y="274.8" width="1" height="1" fill="#80c4ff"/><rect x="569.05" y="272.6" width="1" height="1" fill="#80c4ff"/><rect x="534.67" y="243.99" width="1" height="1" fill="#66b8ff"/><rect x="561.89" y="260.36" width="1" height="1" fill="#2a98ff"/><rect x="555.12" y="281.66" width="1" height="1" fill="#55b0ff"/><rect x="544.85" y="267.97" width="1" height="1" fill="#1e90ff"/><rect x="564.37" y="267.42" width="1" height="1" fill="#80c4ff"/><rect x="569.55" y="252.79" width="1" height="1" fill="#1e90ff"/><rect x="541.5" y="255.04" width="1" height="1" fill="#80c4ff"/><rect x="547.55" y="254.31" width="1" height="1" fill="#55b0ff"/><rect x="562.74" y="256.95" width="1" height="1" fill="#66b8ff"/><rect x="558.07" y="275.84" width="1" height="1" fill="#1e90ff"/><rect x="561.09" y="260.72" width="1" height="1" fill="#80c4ff"/><rect x="554.86" y="281.42" width="1" height="1" fill="#1e90ff"/><rect x="541.06" y="260.94" width="1" height="1" fill="#a8d6ff"/><rect x="572.27" y="261.89" width="1" height="1" fill="#2a98ff"/><rect x="551.7" y="265.12" width="1" height="1" fill="#2a98ff"/><rect x="551.85" y="254.35" width="1" height="1" fill="#1e90ff"/><rect x="540.97" y="283.3" width="1" height="1" fill="#2a98ff"/><rect x="554.2" y="287.12" width="1" height="1" fill="#a8d6ff"/><rect x="553.98" y="247.65" width="1" height="1" fill="#1e90ff"/><rect x="541.67" y="264.04" width="1" height="1" fill="#1e90ff"/><rect x="539.06" y="272.83" width="1" height="1" fill="#80c4ff"/><rect x="559.36" y="256.51" width="1" height="1" fill="#1e90ff"/><rect x="568.29" y="284.9" width="1" height="1" fill="#80c4ff"/><rect x="534.47" y="253.83" width="1" height="1" fill="#1e90ff"/><rect x="547.65" y="277.51" width="1" height="1" fill="#2a98ff"/><rect x="537.21" y="249.84" width="1" height="1" fill="#55b0ff"/><rect x="538.35" y="267.45" width="1" height="1" fill="#a8d6ff"/><rect x="546.59" y="272.62" width="1" height="1" fill="#66b8ff"/><rect x="567.11" y="255.53" width="1" height="1" fill="#66b8ff"/><rect x="535.96" y="265.88" width="1" height="1" fill="#55b0ff"/><rect x="548.27" y="284.45" width="1" height="1" fill="#a8d6ff"/><rect x="550.63" y="267.18" width="1" height="1" fill="#1e90ff"/><rect x="551.93" y="273.04" width="1" height="1" fill="#55b0ff"/><rect x="538.2" y="249.8" width="1" height="1" fill="#2a98ff"/><rect x="561.23" y="258.56" width="1" height="1" fill="#1e90ff"/><rect x="541.63" y="277.4" width="1" height="1" fill="#1e90ff"/><rect x="547.2" y="261.72" width="1" height="1" fill="#80c4ff"/><rect x="533.72" y="276.6" width="1" height="1" fill="#1e90ff"/><rect x="540.17" y="264.07" width="1" height="1" fill="#66b8ff"/><rect x="539.29" y="265.87" width="1" height="1" fill="#2a98ff"/><rect x="563.03" y="266" width="1" height="1" fill="#a8d6ff"/><rect x="541.8" y="277.12" width="1" height="1" fill="#66b8ff"/><rect x="568.61" y="280.64" width="1" height="1" fill="#66b8ff"/><rect x="569.82" y="275.99" width="1" height="1" fill="#66b8ff"/><rect x="540.2" y="250.23" width="1" height="1" fill="#2a98ff"/><rect x="558.3" y="276.56" width="1" height="1" fill="#1e90ff"/><rect x="547.23" y="278.94" width="1" height="1" fill="#66b8ff"/><rect x="547.04" y="270.74" width="1" height="1" fill="#55b0ff"/><rect x="562.76" y="264.34" width="1" height="1" fill="#80c4ff"/><rect x="559.72" y="278.31" width="1" height="1" fill="#1e90ff"/><rect x="567.48" y="260.99" width="1" height="1" fill="#a8d6ff"/><rect x="556.49" y="276.18" width="1" height="1" fill="#55b0ff"/><rect x="573.06" y="278.02" width="1" height="1" fill="#80c4ff"/><rect x="562.73" y="294.87" width="1" height="1" fill="#80c4ff"/><rect x="547.27" y="262.53" width="1" height="1" fill="#1e90ff"/><rect x="535.37" y="259.02" width="1" height="1" fill="#1e90ff"/><rect x="564.84" y="257.74" width="1" height="1" fill="#80c4ff"/><rect x="552.75" y="276.74" width="1" height="1" fill="#a8d6ff"/><rect x="571.9" y="267.61" width="1" height="1" fill="#1e90ff"/><rect x="557.14" y="265" width="1" height="1" fill="#a8d6ff"/><rect x="551.22" y="247.05" width="1" height="1" fill="#a8d6ff"/><rect x="549.12" y="272.45" width="1" height="1" fill="#55b0ff"/><rect x="551.72" y="276.64" width="1" height="1" fill="#55b0ff"/><rect x="552.51" y="259.97" width="1" height="1" fill="#80c4ff"/><rect x="553.43" y="274.91" width="1" height="1" fill="#66b8ff"/><rect x="564.09" y="252.88" width="1" height="1" fill="#a8d6ff"/><rect x="548.54" y="283.56" width="1" height="1" fill="#2a98ff"/><rect x="555.35" y="271.69" width="1" height="1" fill="#1e90ff"/><rect x="565.47" y="268.19" width="1" height="1" fill="#66b8ff"/><rect x="540.95" y="262.03" width="1" height="1" fill="#2a98ff"/><rect x="535.58" y="269.6" width="1" height="1" fill="#80c4ff"/><rect x="535.97" y="262.86" width="1" height="1" fill="#a8d6ff"/><rect x="564.71" y="264.1" width="1" height="1" fill="#1e90ff"/><rect x="561.26" y="266.04" width="1" height="1" fill="#80c4ff"/><rect x="562.69" y="263.83" width="1" height="1" fill="#55b0ff"/><rect x="561.74" y="267.9" width="1" height="1" fill="#1e90ff"/><rect x="549.25" y="233.86" width="1" height="1" fill="#2a98ff"/><rect x="567.77" y="247.91" width="1" height="1" fill="#1e90ff"/><rect x="570.46" y="273.56" width="1" height="1" fill="#1e90ff"/><rect x="553.73" y="275.36" width="1" height="1" fill="#66b8ff"/><rect x="533.42" y="276.29" width="1" height="1" fill="#55b0ff"/><rect x="542.64" y="266.87" width="1" height="1" fill="#66b8ff"/><rect x="544.74" y="266.81" width="1" height="1" fill="#66b8ff"/><rect x="555.43" y="289.26" width="1" height="1" fill="#66b8ff"/><rect x="553.4" y="264.37" width="1" height="1" fill="#2a98ff"/><rect x="544.38" y="269.21" width="1" height="1" fill="#2a98ff"/><rect x="570.2" y="274.45" width="1" height="1" fill="#66b8ff"/><rect x="542.42" y="246.96" width="1" height="1" fill="#55b0ff"/><rect x="540.21" y="280.42" width="1" height="1" fill="#80c4ff"/><rect x="547.33" y="271.89" width="1" height="1" fill="#1e90ff"/><rect x="551.3" y="252.97" width="1" height="1" fill="#55b0ff"/><rect x="546.98" y="268.51" width="1" height="1" fill="#1e90ff"/><rect x="567.02" y="275.09" width="1" height="1" fill="#80c4ff"/><rect x="555.45" y="290.99" width="1" height="1" fill="#a8d6ff"/><rect x="534.72" y="262.17" width="1" height="1" fill="#66b8ff"/><rect x="548.86" y="279.98" width="1" height="1" fill="#66b8ff"/><rect x="555.86" y="263.58" width="1" height="1" fill="#1e90ff"/><rect x="566.77" y="275.37" width="1" height="1" fill="#66b8ff"/><rect x="543.84" y="262.64" width="1" height="1" fill="#1e90ff"/><rect x="557.11" y="248.29" width="1" height="1" fill="#80c4ff"/><rect x="550.87" y="278.45" width="1" height="1" fill="#1e90ff"/><rect x="570.76" y="262.75" width="1" height="1" fill="#2a98ff"/><rect x="534.94" y="253.13" width="1" height="1" fill="#55b0ff"/><rect x="534.65" y="273.85" width="1" height="1" fill="#2a98ff"/><rect x="570" y="280.83" width="1" height="1" fill="#80c4ff"/><rect x="539.36" y="273.97" width="1" height="1" fill="#a8d6ff"/><rect x="572.94" y="249.18" width="1" height="1" fill="#2a98ff"/><rect x="552.82" y="260.1" width="1" height="1" fill="#a8d6ff"/><rect x="560.93" y="263.32" width="1" height="1" fill="#66b8ff"/><rect x="540.57" y="259.31" width="1" height="1" fill="#1e90ff"/><rect x="568.81" y="282.48" width="1" height="1" fill="#1e90ff"/><rect x="540.41" y="287.01" width="1" height="1" fill="#66b8ff"/><rect x="536.41" y="283.42" width="1" height="1" fill="#80c4ff"/><rect x="574.35" y="278.35" width="1" height="1" fill="#a8d6ff"/><rect x="549.11" y="262.9" width="1" height="1" fill="#1e90ff"/><rect x="572.13" y="260.36" width="1" height="1" fill="#66b8ff"/><rect x="561.5" y="269.62" width="1" height="1" fill="#55b0ff"/><rect x="561.96" y="270.61" width="1" height="1" fill="#55b0ff"/><rect x="534.43" y="272.22" width="1" height="1" fill="#66b8ff"/><rect x="541.43" y="259.64" width="1" height="1" fill="#a8d6ff"/><rect x="556.65" y="261.6" width="1" height="1" fill="#a8d6ff"/><rect x="538.36" y="280.31" width="1" height="1" fill="#a8d6ff"/><rect x="572.42" y="257.99" width="1" height="1" fill="#1e90ff"/><rect x="538.28" y="286.34" width="1" height="1" fill="#80c4ff"/><rect x="566.92" y="278.38" width="1" height="1" fill="#80c4ff"/><rect x="534.16" y="266.13" width="1" height="1" fill="#1e90ff"/><rect x="547.6" y="262.54" width="1" height="1" fill="#80c4ff"/><rect x="554.98" y="261.45" width="1" height="1" fill="#1e90ff"/><rect x="536.15" y="250.18" width="1" height="1" fill="#66b8ff"/><rect x="549.77" y="271.43" width="1" height="1" fill="#1e90ff"/><rect x="561.17" y="283.05" width="1" height="1" fill="#2a98ff"/><rect x="537.18" y="281.1" width="1" height="1" fill="#1e90ff"/><rect x="572.99" y="293.54" width="1" height="1" fill="#a8d6ff"/><rect x="554.09" y="266.87" width="1" height="1" fill="#a8d6ff"/><rect x="543.81" y="256.92" width="1" height="1" fill="#55b0ff"/><rect x="552.75" y="282.46" width="1" height="1" fill="#66b8ff"/><rect x="573.31" y="278.07" width="1" height="1" fill="#2a98ff"/><rect x="570.07" y="274.49" width="1" height="1" fill="#55b0ff"/><rect x="557.37" y="262.92" width="1" height="1" fill="#2a98ff"/><rect x="537.82" y="266.3" width="1" height="1" fill="#80c4ff"/><rect x="543" y="284.14" width="1" height="1" fill="#80c4ff"/><rect x="541.21" y="254.27" width="1" height="1" fill="#2a98ff"/><rect x="573.05" y="282.06" width="1" height="1" fill="#55b0ff"/><rect x="575.17" y="270.51" width="1" height="1" fill="#55b0ff"/><rect x="546.06" y="282.61" width="1" height="1" fill="#1e90ff"/><rect x="534.69" y="262" width="1" height="1" fill="#80c4ff"/><rect x="545.59" y="259.62" width="1" height="1" fill="#1e90ff"/><rect x="564.18" y="270.08" width="1" height="1" fill="#a8d6ff"/><rect x="539.31" y="269.67" width="1" height="1" fill="#1e90ff"/><rect x="535.32" y="258.5" width="1" height="1" fill="#a8d6ff"/><rect x="555.59" y="278.99" width="1" height="1" fill="#2a98ff"/><rect x="566.37" y="275.38" width="1" height="1" fill="#2a98ff"/><rect x="557.27" y="264.7" width="1" height="1" fill="#66b8ff"/><rect x="553.51" y="268.19" width="1" height="1" fill="#2a98ff"/><rect x="536.28" y="263.97" width="1" height="1" fill="#55b0ff"/><rect x="556.46" y="262.84" width="1" height="1" fill="#66b8ff"/><rect x="546.43" y="256.05" width="1" height="1" fill="#55b0ff"/><rect x="538.74" y="279" width="1" height="1" fill="#66b8ff"/><rect x="538.96" y="276.72" width="1" height="1" fill="#2a98ff"/><rect x="569.01" y="263.95" width="1" height="1" fill="#1e90ff"/><rect x="570.53" y="261.3" width="1" height="1" fill="#55b0ff"/><rect x="536.17" y="268.27" width="1" height="1" fill="#a8d6ff"/><rect x="570.81" y="277.05" width="1" height="1" fill="#66b8ff"/><rect x="554.53" y="276.14" width="1" height="1" fill="#80c4ff"/><rect x="537.01" y="261.05" width="1" height="1" fill="#80c4ff"/><rect x="554.51" y="268.82" width="1" height="1" fill="#2a98ff"/><rect x="553.21" y="262.61" width="1" height="1" fill="#55b0ff"/><rect x="548.63" y="272.92" width="1" height="1" fill="#a8d6ff"/><rect x="540.27" y="273.18" width="1" height="1" fill="#80c4ff"/><rect x="570.44" y="273.34" width="1" height="1" fill="#66b8ff"/><rect x="552.98" y="268.98" width="1" height="1" fill="#1e90ff"/><rect x="573.98" y="266.28" width="1" height="1" fill="#55b0ff"/><rect x="552.38" y="271.15" width="1" height="1" fill="#2a98ff"/><rect x="561.64" y="253.67" width="1" height="1" fill="#2a98ff"/><rect x="541.3" y="267.5" width="1" height="1" fill="#2a98ff"/><rect x="542.71" y="261.15" width="1" height="1" fill="#1e90ff"/><rect x="534.1" y="257.09" width="1" height="1" fill="#80c4ff"/><rect x="543.86" y="275.76" width="1" height="1" fill="#2a98ff"/><rect x="571.37" y="279.98" width="1" height="1" fill="#66b8ff"/><rect x="541.48" y="274.81" width="1" height="1" fill="#1e90ff"/><rect x="557.26" y="271.17" width="1" height="1" fill="#66b8ff"/><rect x="535.08" y="250.57" width="1" height="1" fill="#66b8ff"/><rect x="541.96" y="242.01" width="1" height="1" fill="#80c4ff"/><rect x="534.41" y="249.18" width="1" height="1" fill="#80c4ff"/><rect x="558.32" y="260.28" width="1" height="1" fill="#1e90ff"/><rect x="545.97" y="248.64" width="1" height="1" fill="#55b0ff"/><rect x="567.47" y="243.44" width="1" height="1" fill="#80c4ff"/><rect x="533.54" y="273.39" width="1" height="1" fill="#55b0ff"/><rect x="573.83" y="257.93" width="1" height="1" fill="#1e90ff"/><rect x="535.96" y="273.41" width="1" height="1" fill="#55b0ff"/><rect x="541.92" y="265.81" width="1" height="1" fill="#55b0ff"/><rect x="538.26" y="251.01" width="1" height="1" fill="#1e90ff"/><rect x="546.06" y="272.15" width="1" height="1" fill="#66b8ff"/><rect x="540.91" y="273.14" width="1" height="1" fill="#80c4ff"/><rect x="545.5" y="304.9" width="1" height="1" fill="#55b0ff"/><rect x="551.99" y="261.81" width="1" height="1" fill="#a8d6ff"/><rect x="552.78" y="271.89" width="1" height="1" fill="#66b8ff"/><rect x="564.62" y="243.87" width="1" height="1" fill="#66b8ff"/><rect x="559.17" y="272.35" width="1" height="1" fill="#1e90ff"/><rect x="569.18" y="282.13" width="1" height="1" fill="#a8d6ff"/><rect x="566.31" y="282.12" width="1" height="1" fill="#2a98ff"/><rect x="546.27" y="277.09" width="1" height="1" fill="#55b0ff"/><rect x="538.67" y="283.56" width="1" height="1" fill="#80c4ff"/><rect x="564.33" y="263.99" width="1" height="1" fill="#80c4ff"/><rect x="537.65" y="279.74" width="1" height="1" fill="#66b8ff"/><rect x="572.07" y="244.7" width="1" height="1" fill="#80c4ff"/><rect x="564.31" y="277.31" width="1" height="1" fill="#a8d6ff"/><rect x="557.03" y="250.3" width="1" height="1" fill="#55b0ff"/><rect x="550.02" y="276.27" width="1" height="1" fill="#66b8ff"/><rect x="570.4" y="250.34" width="1" height="1" fill="#2a98ff"/><rect x="544.15" y="280.64" width="1" height="1" fill="#a8d6ff"/><rect x="574.11" y="264.21" width="1" height="1" fill="#80c4ff"/><rect x="536.95" y="286.48" width="1" height="1" fill="#1e90ff"/><rect x="542.21" y="263.69" width="1" height="1" fill="#55b0ff"/><rect x="568.82" y="268.32" width="1" height="1" fill="#a8d6ff"/><rect x="551.02" y="274.76" width="1" height="1" fill="#80c4ff"/><rect x="541.59" y="243.49" width="1" height="1" fill="#2a98ff"/><rect x="561.47" y="268.61" width="1" height="1" fill="#2a98ff"/><rect x="562.66" y="252.51" width="1" height="1" fill="#1e90ff"/><rect x="566.65" y="279.58" width="1" height="1" fill="#66b8ff"/><rect x="561.35" y="286.7" width="1" height="1" fill="#1e90ff"/><rect x="548.74" y="260.14" width="1" height="1" fill="#66b8ff"/><rect x="535.93" y="255.46" width="1" height="1" fill="#66b8ff"/><rect x="545.86" y="250.38" width="1" height="1" fill="#80c4ff"/><rect x="557.24" y="277.57" width="1" height="1" fill="#80c4ff"/><rect x="533.39" y="250.78" width="1" height="1" fill="#1e90ff"/><rect x="552.41" y="272.8" width="1" height="1" fill="#55b0ff"/><rect x="567.55" y="268.05" width="1" height="1" fill="#a8d6ff"/><rect x="549.28" y="257.88" width="1" height="1" fill="#66b8ff"/><rect x="545.69" y="260.06" width="1" height="1" fill="#55b0ff"/><rect x="540.67" y="254.63" width="1" height="1" fill="#80c4ff"/><rect x="558.37" y="284.37" width="1" height="1" fill="#55b0ff"/><rect x="543.87" y="274.94" width="1" height="1" fill="#66b8ff"/><rect x="562.22" y="272.09" width="1" height="1" fill="#66b8ff"/><rect x="550.31" y="256.91" width="1" height="1" fill="#80c4ff"/><rect x="537.12" y="250.58" width="1" height="1" fill="#a8d6ff"/><rect x="561.36" y="287.28" width="1" height="1" fill="#1e90ff"/><rect x="539.51" y="272.78" width="1" height="1" fill="#a8d6ff"/><rect x="543.01" y="277.57" width="1" height="1" fill="#80c4ff"/><rect x="541.09" y="264.76" width="1" height="1" fill="#66b8ff"/><rect x="571.34" y="249.57" width="1" height="1" fill="#1e90ff"/><rect x="548.22" y="252.62" width="1" height="1" fill="#2a98ff"/><rect x="552.89" y="280.08" width="1" height="1" fill="#2a98ff"/><rect x="576.23" y="263.91" width="1" height="1" fill="#a8d6ff"/><rect x="539.72" y="270.68" width="1" height="1" fill="#2a98ff"/><rect x="554.13" y="261.78" width="1" height="1" fill="#a8d6ff"/><rect x="533.3" y="279.48" width="1" height="1" fill="#a8d6ff"/><rect x="550.87" y="291.13" width="1" height="1" fill="#66b8ff"/><rect x="567.41" y="267.45" width="1" height="1" fill="#1e90ff"/><rect x="536.41" y="277.75" width="1" height="1" fill="#66b8ff"/><rect x="555.3" y="276.06" width="1" height="1" fill="#66b8ff"/><rect x="547.45" y="257.44" width="1" height="1" fill="#80c4ff"/><rect x="573.25" y="280.3" width="1" height="1" fill="#1e90ff"/><rect x="535.54" y="257.41" width="1" height="1" fill="#55b0ff"/><rect x="558.59" y="241.51" width="1" height="1" fill="#1e90ff"/><rect x="546.81" y="277.02" width="1" height="1" fill="#66b8ff"/><rect x="560.33" y="260.28" width="1" height="1" fill="#a8d6ff"/><rect x="553.91" y="259.63" width="1" height="1" fill="#a8d6ff"/><rect x="561.05" y="278.28" width="1" height="1" fill="#55b0ff"/><rect x="546.89" y="260.39" width="1" height="1" fill="#1e90ff"/><rect x="575.61" y="287.05" width="1" height="1" fill="#2a98ff"/><rect x="561.38" y="274.81" width="1" height="1" fill="#1e90ff"/><rect x="555.51" y="250.14" width="1" height="1" fill="#55b0ff"/><rect x="571.4" y="273.42" width="1" height="1" fill="#80c4ff"/><rect x="563.54" y="267.5" width="1" height="1" fill="#1e90ff"/><rect x="545.25" y="264.56" width="1" height="1" fill="#2a98ff"/><rect x="537.72" y="289.68" width="1" height="1" fill="#66b8ff"/><rect x="538" y="260.75" width="1" height="1" fill="#80c4ff"/><rect x="556.9" y="264.49" width="1" height="1" fill="#80c4ff"/><rect x="548.13" y="265.92" width="1" height="1" fill="#66b8ff"/><rect x="564.42" y="261.87" width="1" height="1" fill="#66b8ff"/><rect x="565.14" y="260.56" width="1" height="1" fill="#55b0ff"/><rect x="543.83" y="256.45" width="1" height="1" fill="#66b8ff"/><rect x="575.71" y="264.34" width="1" height="1" fill="#1e90ff"/><rect x="559.75" y="273.09" width="1" height="1" fill="#66b8ff"/><rect x="547.62" y="251.95" width="1" height="1" fill="#a8d6ff"/><rect x="574.96" y="263.28" width="1" height="1" fill="#66b8ff"/><rect x="543.26" y="251.18" width="1" height="1" fill="#55b0ff"/><rect x="538.66" y="249.18" width="1" height="1" fill="#80c4ff"/><rect x="566.65" y="258.14" width="1" height="1" fill="#a8d6ff"/><rect x="546.19" y="275.95" width="1" height="1" fill="#1e90ff"/><rect x="570.73" y="277.7" width="1" height="1" fill="#a8d6ff"/><rect x="538.67" y="267.01" width="1" height="1" fill="#55b0ff"/><rect x="544.7" y="260.79" width="1" height="1" fill="#66b8ff"/><rect x="534.8" y="264.31" width="1" height="1" fill="#55b0ff"/><rect x="575.15" y="277.83" width="1" height="1" fill="#80c4ff"/><rect x="574.91" y="271.14" width="1" height="1" fill="#1e90ff"/><rect x="574" y="276.24" width="1" height="1" fill="#80c4ff"/><rect x="540.03" y="262.41" width="1" height="1" fill="#2a98ff"/><rect x="536.68" y="278.16" width="1" height="1" fill="#2a98ff"/><rect x="542.55" y="258.97" width="1" height="1" fill="#80c4ff"/><rect x="574.98" y="274.21" width="1" height="1" fill="#80c4ff"/><rect x="542.82" y="274.36" width="1" height="1" fill="#66b8ff"/><rect x="550.68" y="290.57" width="1" height="1" fill="#55b0ff"/><rect x="568.76" y="255.06" width="1" height="1" fill="#a8d6ff"/><rect x="544.81" y="253" width="1" height="1" fill="#55b0ff"/><rect x="538.29" y="268.05" width="1" height="1" fill="#55b0ff"/><rect x="555.57" y="255.11" width="1" height="1" fill="#1e90ff"/><rect x="560.77" y="267.65" width="1" height="1" fill="#66b8ff"/><rect x="546.85" y="258.67" width="1" height="1" fill="#80c4ff"/><rect x="572.7" y="258.58" width="1" height="1" fill="#2a98ff"/><rect x="558.88" y="265.84" width="1" height="1" fill="#80c4ff"/><rect x="542.53" y="267.93" width="1" height="1" fill="#a8d6ff"/><rect x="568.25" y="264.33" width="1" height="1" fill="#55b0ff"/><rect x="555.93" y="251.69" width="1" height="1" fill="#2a98ff"/><rect x="542.77" y="288.25" width="1" height="1" fill="#80c4ff"/><rect x="541.86" y="280.06" width="1" height="1" fill="#80c4ff"/><rect x="564.73" y="273.4" width="1" height="1" fill="#a8d6ff"/><rect x="561.13" y="250.45" width="1" height="1" fill="#1e90ff"/><rect x="536.78" y="277.91" width="1" height="1" fill="#80c4ff"/><rect x="544.48" y="249.83" width="1" height="1" fill="#66b8ff"/><rect x="559.05" y="244.79" width="1" height="1" fill="#1e90ff"/><rect x="561.79" y="269.2" width="1" height="1" fill="#80c4ff"/><rect x="573.83" y="256.61" width="1" height="1" fill="#66b8ff"/><rect x="564.19" y="261.51" width="1" height="1" fill="#66b8ff"/><rect x="567.23" y="276.71" width="1" height="1" fill="#66b8ff"/><rect x="546.29" y="276.26" width="1" height="1" fill="#a8d6ff"/><rect x="554.34" y="288" width="1" height="1" fill="#80c4ff"/><rect x="553.86" y="256.01" width="1" height="1" fill="#80c4ff"/><rect x="537.6" y="246.79" width="1" height="1" fill="#66b8ff"/><rect x="545.83" y="277.9" width="1" height="1" fill="#66b8ff"/><rect x="553" y="272.07" width="1" height="1" fill="#2a98ff"/><rect x="569.48" y="260.37" width="1" height="1" fill="#55b0ff"/><rect x="548.63" y="254.94" width="1" height="1" fill="#80c4ff"/><rect x="556.26" y="264.33" width="1" height="1" fill="#55b0ff"/><rect x="566.4" y="288.5" width="1" height="1" fill="#80c4ff"/><rect x="568.82" y="277.05" width="1" height="1" fill="#55b0ff"/><rect x="564.74" y="280.85" width="1" height="1" fill="#1e90ff"/><rect x="552.93" y="286.4" width="1" height="1" fill="#80c4ff"/><rect x="564.21" y="253.46" width="1" height="1" fill="#80c4ff"/><rect x="567.97" y="254.09" width="1" height="1" fill="#2a98ff"/><rect x="537.51" y="249.32" width="1" height="1" fill="#66b8ff"/><rect x="562.36" y="263.16" width="1" height="1" fill="#66b8ff"/><rect x="543.16" y="252.99" width="1" height="1" fill="#80c4ff"/><rect x="535.25" y="251.16" width="1" height="1" fill="#80c4ff"/><rect x="543.08" y="255.1" width="1" height="1" fill="#2a98ff"/><rect x="540.65" y="268.3" width="1" height="1" fill="#a8d6ff"/><rect x="561.03" y="272.32" width="1" height="1" fill="#80c4ff"/><rect x="575.54" y="270.84" width="1" height="1" fill="#55b0ff"/><rect x="562.14" y="257.66" width="1" height="1" fill="#55b0ff"/><rect x="535.42" y="272.65" width="1" height="1" fill="#80c4ff"/><rect x="533.36" y="259.22" width="1" height="1" fill="#2a98ff"/><rect x="558.83" y="273.18" width="1" height="1" fill="#66b8ff"/><rect x="534.98" y="274.25" width="1" height="1" fill="#80c4ff"/><rect x="550.47" y="248.71" width="1" height="1" fill="#80c4ff"/><rect x="534.36" y="260.75" width="1" height="1" fill="#2a98ff"/><rect x="568.28" y="273.53" width="1" height="1" fill="#a8d6ff"/><rect x="558.84" y="272.52" width="1" height="1" fill="#55b0ff"/><rect x="545.88" y="260.55" width="1" height="1" fill="#1e90ff"/><rect x="540.84" y="279.95" width="1" height="1" fill="#80c4ff"/><rect x="566.64" y="272.86" width="1" height="1" fill="#2a98ff"/><rect x="567.38" y="287.84" width="1" height="1" fill="#a8d6ff"/><rect x="554.58" y="286.24" width="1" height="1" fill="#1e90ff"/><rect x="534.02" y="271.13" width="1" height="1" fill="#1e90ff"/><rect x="553.11" y="263.97" width="1" height="1" fill="#80c4ff"/><rect x="558.87" y="269.33" width="1" height="1" fill="#80c4ff"/><rect x="563.33" y="257.92" width="1" height="1" fill="#a8d6ff"/><rect x="553.45" y="261.84" width="1" height="1" fill="#a8d6ff"/><rect x="556.95" y="270.78" width="1" height="1" fill="#66b8ff"/><rect x="567.16" y="277.05" width="1" height="1" fill="#2a98ff"/><rect x="576.11" y="265.13" width="1" height="1" fill="#80c4ff"/><rect x="535.39" y="261.66" width="1" height="1" fill="#1e90ff"/><rect x="550.84" y="268.32" width="1" height="1" fill="#a8d6ff"/><rect x="561.34" y="264.37" width="1" height="1" fill="#80c4ff"/><rect x="545.95" y="255.8" width="1" height="1" fill="#a8d6ff"/><rect x="539.74" y="260.15" width="1" height="1" fill="#55b0ff"/><rect x="539.91" y="272.64" width="1" height="1" fill="#1e90ff"/><rect x="563.88" y="255.74" width="1" height="1" fill="#1e90ff"/><rect x="540.04" y="266.3" width="1" height="1" fill="#80c4ff"/><rect x="562.34" y="270.34" width="1" height="1" fill="#55b0ff"/><rect x="555.64" y="275.66" width="1" height="1" fill="#55b0ff"/><rect x="562.22" y="285.49" width="1" height="1" fill="#80c4ff"/><rect x="574.22" y="264.42" width="1" height="1" fill="#a8d6ff"/><rect x="572.82" y="264.49" width="1" height="1" fill="#66b8ff"/><rect x="535.1" y="250.22" width="1" height="1" fill="#2a98ff"/><rect x="540.36" y="289.38" width="1" height="1" fill="#55b0ff"/><rect x="563.21" y="269.29" width="1" height="1" fill="#55b0ff"/><rect x="558.88" y="266.61" width="1" height="1" fill="#55b0ff"/><rect x="538.73" y="277.77" width="1" height="1" fill="#2a98ff"/><rect x="558.97" y="276.88" width="1" height="1" fill="#55b0ff"/><rect x="534.51" y="267" width="1" height="1" fill="#66b8ff"/><rect x="539.17" y="253.03" width="1" height="1" fill="#a8d6ff"/><rect x="567.17" y="286.09" width="1" height="1" fill="#55b0ff"/><rect x="550.89" y="271.69" width="1" height="1" fill="#55b0ff"/><rect x="538.36" y="270.63" width="1" height="1" fill="#a8d6ff"/><rect x="565.87" y="234.45" width="1" height="1" fill="#66b8ff"/><rect x="572.41" y="273.53" width="1" height="1" fill="#1e90ff"/><rect x="566.7" y="247.29" width="1" height="1" fill="#80c4ff"/><rect x="537.4" y="270.54" width="1" height="1" fill="#1e90ff"/><rect x="536.7" y="255.43" width="1" height="1" fill="#80c4ff"/><rect x="540.5" y="262.42" width="1" height="1" fill="#66b8ff"/><rect x="542.21" y="291.36" width="1" height="1" fill="#2a98ff"/><rect x="562.65" y="270.7" width="1" height="1" fill="#55b0ff"/><rect x="574.08" y="279.2" width="1" height="1" fill="#66b8ff"/><rect x="563.71" y="266.06" width="1" height="1" fill="#66b8ff"/><rect x="547.78" y="275.5" width="1" height="1" fill="#55b0ff"/><rect x="537.61" y="247.97" width="1" height="1" fill="#1e90ff"/><rect x="533.59" y="270.77" width="1" height="1" fill="#a8d6ff"/><rect x="547.55" y="281.72" width="1" height="1" fill="#1e90ff"/><rect x="533.5" y="276.84" width="1" height="1" fill="#55b0ff"/><rect x="551.28" y="250.59" width="1" height="1" fill="#2a98ff"/><rect x="534.47" y="277.92" width="1" height="1" fill="#66b8ff"/><rect x="535.38" y="258.77" width="1" height="1" fill="#80c4ff"/><rect x="545.18" y="251.27" width="1" height="1" fill="#2a98ff"/><rect x="552.21" y="251.36" width="1" height="1" fill="#2a98ff"/><rect x="559.31" y="269.76" width="1" height="1" fill="#80c4ff"/><rect x="572.12" y="275.4" width="1" height="1" fill="#80c4ff"/><rect x="547.71" y="279.18" width="1" height="1" fill="#2a98ff"/><rect x="537.33" y="276.45" width="1" height="1" fill="#1e90ff"/><rect x="540.13" y="253.44" width="1" height="1" fill="#55b0ff"/><rect x="559.17" y="271.45" width="1" height="1" fill="#a8d6ff"/><rect x="562.5" y="263.68" width="1" height="1" fill="#a8d6ff"/><rect x="563.33" y="269.02" width="1" height="1" fill="#55b0ff"/><rect x="534.81" y="256.57" width="1" height="1" fill="#66b8ff"/><rect x="560.88" y="269.54" width="1" height="1" fill="#2a98ff"/><rect x="562.82" y="268.52" width="1" height="1" fill="#a8d6ff"/><rect x="561.79" y="283.4" width="1" height="1" fill="#a8d6ff"/><rect x="551.63" y="282.64" width="1" height="1" fill="#55b0ff"/><rect x="557.43" y="286.23" width="1" height="1" fill="#1e90ff"/><rect x="535.1" y="269.82" width="1" height="1" fill="#55b0ff"/><rect x="541.27" y="299.79" width="1" height="1" fill="#80c4ff"/><rect x="548.13" y="272.35" width="1" height="1" fill="#55b0ff"/><rect x="559.05" y="247.58" width="1" height="1" fill="#a8d6ff"/><rect x="564.15" y="272.24" width="1" height="1" fill="#80c4ff"/><rect x="575.61" y="268.66" width="1" height="1" fill="#1e90ff"/><rect x="567.09" y="270.88" width="1" height="1" fill="#2a98ff"/><rect x="541.75" y="268.32" width="1" height="1" fill="#1e90ff"/><rect x="573.35" y="270.62" width="1" height="1" fill="#80c4ff"/><rect x="573.33" y="283.62" width="1" height="1" fill="#1e90ff"/><rect x="559.27" y="275.01" width="1" height="1" fill="#55b0ff"/><rect x="538.34" y="263.33" width="1" height="1" fill="#80c4ff"/><rect x="533.73" y="267.73" width="1" height="1" fill="#2a98ff"/><rect x="575.46" y="262.35" width="1" height="1" fill="#1e90ff"/><rect x="562.64" y="275.2" width="1" height="1" fill="#1e90ff"/><rect x="538.69" y="285.91" width="1" height="1" fill="#55b0ff"/><rect x="553.45" y="282.73" width="1" height="1" fill="#55b0ff"/><rect x="571.33" y="279.43" width="1" height="1" fill="#a8d6ff"/><rect x="572.64" y="288.98" width="1" height="1" fill="#a8d6ff"/><rect x="555.44" y="267.81" width="1" height="1" fill="#2a98ff"/><rect x="567.99" y="252.2" width="1" height="1" fill="#66b8ff"/><rect x="557.22" y="267.26" width="1" height="1" fill="#1e90ff"/><rect x="566.93" y="270.75" width="1" height="1" fill="#66b8ff"/><rect x="554.97" y="269.22" width="1" height="1" fill="#55b0ff"/><rect x="543.82" y="266.41" width="1" height="1" fill="#a8d6ff"/><rect x="564.31" y="268.32" width="1" height="1" fill="#2a98ff"/><rect x="533.9" y="277.14" width="1" height="1" fill="#80c4ff"/><rect x="551.02" y="249.87" width="1" height="1" fill="#55b0ff"/><rect x="537.18" y="263.1" width="1" height="1" fill="#2a98ff"/><rect x="549.74" y="261.44" width="1" height="1" fill="#55b0ff"/><rect x="536.75" y="281.18" width="1" height="1" fill="#a8d6ff"/><rect x="546.41" y="265.46" width="1" height="1" fill="#66b8ff"/><rect x="536.17" y="264.84" width="1" height="1" fill="#66b8ff"/><rect x="569.3" y="246.25" width="1" height="1" fill="#80c4ff"/><rect x="536.43" y="261.21" width="1" height="1" fill="#80c4ff"/><rect x="565.14" y="274.41" width="1" height="1" fill="#66b8ff"/><rect x="538.13" y="243.57" width="1" height="1" fill="#2a98ff"/><rect x="565.45" y="248.59" width="1" height="1" fill="#1e90ff"/><rect x="533.44" y="272.31" width="1" height="1" fill="#2a98ff"/><rect x="561.81" y="269.95" width="1" height="1" fill="#a8d6ff"/><rect x="557.42" y="255.47" width="1" height="1" fill="#2a98ff"/><rect x="548.79" y="265.97" width="1" height="1" fill="#80c4ff"/><rect x="557.99" y="252.92" width="1" height="1" fill="#66b8ff"/><rect x="563.72" y="247.8" width="1" height="1" fill="#1e90ff"/><rect x="566.79" y="285.4" width="1" height="1" fill="#1e90ff"/><rect x="562.96" y="256.59" width="1" height="1" fill="#1e90ff"/><rect x="534.09" y="258.48" width="1" height="1" fill="#80c4ff"/><rect x="549.81" y="248.06" width="1" height="1" fill="#80c4ff"/><rect x="570.76" y="278.73" width="1" height="1" fill="#80c4ff"/><rect x="550.3" y="291.29" width="1" height="1" fill="#a8d6ff"/><rect x="562.47" y="267.35" width="1" height="1" fill="#2a98ff"/><rect x="546.24" y="276.8" width="1" height="1" fill="#55b0ff"/><rect x="545.22" y="277.35" width="1" height="1" fill="#1e90ff"/><rect x="575.84" y="274.17" width="1" height="1" fill="#55b0ff"/><rect x="559.99" y="284.48" width="1" height="1" fill="#2a98ff"/><rect x="568.74" y="259.79" width="1" height="1" fill="#55b0ff"/><rect x="542.12" y="258.69" width="1" height="1" fill="#80c4ff"/><rect x="549.01" y="275.4" width="1" height="1" fill="#66b8ff"/><rect x="571.16" y="268.54" width="1" height="1" fill="#a8d6ff"/><rect x="572.87" y="258.54" width="1" height="1" fill="#1e90ff"/><rect x="565.75" y="284.11" width="1" height="1" fill="#55b0ff"/><rect x="571.34" y="271.25" width="1" height="1" fill="#66b8ff"/><rect x="536.55" y="254.47" width="1" height="1" fill="#2a98ff"/><rect x="568.19" y="261.48" width="1" height="1" fill="#66b8ff"/><rect x="547.04" y="281.73" width="1" height="1" fill="#2a98ff"/><rect x="554.59" y="273.87" width="1" height="1" fill="#a8d6ff"/><rect x="554.3" y="266.1" width="1" height="1" fill="#66b8ff"/><rect x="559.8" y="242.32" width="1" height="1" fill="#66b8ff"/><rect x="548.79" y="261.3" width="1" height="1" fill="#2a98ff"/><rect x="572.52" y="256.87" width="1" height="1" fill="#a8d6ff"/><rect x="536.02" y="240.75" width="1" height="1" fill="#55b0ff"/><rect x="540.62" y="261.93" width="1" height="1" fill="#2a98ff"/><rect x="533.61" y="290.79" width="1" height="1" fill="#a8d6ff"/><rect x="542.55" y="260.41" width="1" height="1" fill="#1e90ff"/><rect x="539.21" y="234.99" width="1" height="1" fill="#1e90ff"/><rect x="550.13" y="260.99" width="1" height="1" fill="#a8d6ff"/><rect x="564.36" y="251.96" width="1" height="1" fill="#66b8ff"/><rect x="564.7" y="267.58" width="1" height="1" fill="#80c4ff"/><rect x="534" y="275.98" width="1" height="1" fill="#80c4ff"/><rect x="561.74" y="269.66" width="1" height="1" fill="#2a98ff"/><rect x="575.02" y="275.75" width="1" height="1" fill="#1e90ff"/><rect x="559.49" y="253.99" width="1" height="1" fill="#a8d6ff"/><rect x="557.38" y="258.79" width="1" height="1" fill="#80c4ff"/><rect x="561.92" y="266.17" width="1" height="1" fill="#a8d6ff"/><rect x="535.24" y="271.27" width="1" height="1" fill="#2a98ff"/><rect x="533.64" y="263.57" width="1" height="1" fill="#80c4ff"/><rect x="536.84" y="272.16" width="1" height="1" fill="#55b0ff"/><rect x="552.62" y="283.97" width="1" height="1" fill="#1e90ff"/><rect x="543.09" y="264.31" width="1" height="1" fill="#55b0ff"/><rect x="565.48" y="269.71" width="1" height="1" fill="#66b8ff"/><rect x="544.33" y="272.04" width="1" height="1" fill="#55b0ff"/><rect x="548.86" y="263.07" width="1" height="1" fill="#55b0ff"/><rect x="563.51" y="256.42" width="1" height="1" fill="#55b0ff"/><rect x="536.2" y="276.67" width="1" height="1" fill="#2a98ff"/><rect x="568.52" y="263.34" width="1" height="1" fill="#66b8ff"/><rect x="534.09" y="271.24" width="1" height="1" fill="#66b8ff"/><rect x="569.63" y="260.57" width="1" height="1" fill="#66b8ff"/><rect x="567.09" y="263.26" width="1" height="1" fill="#a8d6ff"/><rect x="533.51" y="259.71" width="1" height="1" fill="#80c4ff"/><rect x="539.74" y="272.83" width="1" height="1" fill="#55b0ff"/><rect x="560.24" y="263.87" width="1" height="1" fill="#1e90ff"/><rect x="556.87" y="263.82" width="1" height="1" fill="#1e90ff"/><rect x="537.97" y="261.61" width="1" height="1" fill="#80c4ff"/><rect x="536.28" y="278.25" width="1" height="1" fill="#2a98ff"/><rect x="559.91" y="266.33" width="1" height="1" fill="#1e90ff"/><rect x="556.07" y="268.17" width="1" height="1" fill="#1e90ff"/><rect x="533.64" y="271.47" width="1" height="1" fill="#66b8ff"/><rect x="569.51" y="286.83" width="1" height="1" fill="#2a98ff"/><rect x="546.89" y="288.11" width="1" height="1" fill="#a8d6ff"/><rect x="563.24" y="280" width="1" height="1" fill="#2a98ff"/><rect x="542.2" y="282.3" width="1" height="1" fill="#1e90ff"/><rect x="547" y="262.21" width="1" height="1" fill="#a8d6ff"/><rect x="542.06" y="266.73" width="1" height="1" fill="#66b8ff"/><rect x="566.76" y="265.13" width="1" height="1" fill="#2a98ff"/><rect x="565.26" y="278.01" width="1" height="1" fill="#1e90ff"/><rect x="541.08" y="270.17" width="1" height="1" fill="#66b8ff"/><rect x="547.78" y="274.76" width="1" height="1" fill="#55b0ff"/><rect x="546.96" y="259.66" width="1" height="1" fill="#1e90ff"/><rect x="570.35" y="257.85" width="1" height="1" fill="#1e90ff"/><rect x="534.71" y="256.69" width="1" height="1" fill="#55b0ff"/><rect x="541.52" y="249.58" width="1" height="1" fill="#55b0ff"/><rect x="534.05" y="262.45" width="1" height="1" fill="#a8d6ff"/><rect x="551.11" y="269.56" width="1" height="1" fill="#1e90ff"/><rect x="562.71" y="272.08" width="1" height="1" fill="#55b0ff"/><rect x="551.98" y="270.56" width="1" height="1" fill="#a8d6ff"/><rect x="539.12" y="268.93" width="1" height="1" fill="#1e90ff"/><rect x="537.04" y="279.26" width="1" height="1" fill="#80c4ff"/><rect x="535.27" y="259.54" width="1" height="1" fill="#80c4ff"/><rect x="573.64" y="276.98" width="1" height="1" fill="#2a98ff"/><rect x="555.39" y="274.53" width="1" height="1" fill="#55b0ff"/><rect x="564.27" y="270.89" width="1" height="1" fill="#2a98ff"/><rect x="555.76" y="286.82" width="1" height="1" fill="#1e90ff"/><rect x="569.77" y="246.98" width="1" height="1" fill="#66b8ff"/><rect x="536.74" y="280.09" width="1" height="1" fill="#80c4ff"/><rect x="541.72" y="262.85" width="1" height="1" fill="#a8d6ff"/><rect x="538.99" y="272.51" width="1" height="1" fill="#2a98ff"/><rect x="535.79" y="261.79" width="1" height="1" fill="#a8d6ff"/><rect x="542.76" y="278.36" width="1" height="1" fill="#a8d6ff"/><rect x="563.65" y="261.89" width="1" height="1" fill="#a8d6ff"/><rect x="535.49" y="258.3" width="1" height="1" fill="#55b0ff"/><rect x="540.34" y="270.3" width="1" height="1" fill="#a8d6ff"/><rect x="560.41" y="263.93" width="1" height="1" fill="#55b0ff"/><rect x="576.01" y="271.75" width="1" height="1" fill="#55b0ff"/><rect x="552.07" y="268.19" width="1" height="1" fill="#2a98ff"/><rect x="559.95" y="268.97" width="1" height="1" fill="#2a98ff"/><rect x="553.56" y="279.75" width="1" height="1" fill="#80c4ff"/><rect x="564.09" y="269.4" width="1" height="1" fill="#55b0ff"/><rect x="554.59" y="268.79" width="1" height="1" fill="#80c4ff"/><rect x="557.7" y="280.37" width="1" height="1" fill="#55b0ff"/><rect x="559.86" y="279.66" width="1" height="1" fill="#2a98ff"/><rect x="574.09" y="283.19" width="1" height="1" fill="#2a98ff"/><rect x="564.09" y="274.08" width="1" height="1" fill="#1e90ff"/><rect x="571.97" y="259.27" width="1" height="1" fill="#55b0ff"/><rect x="539.42" y="269.65" width="1" height="1" fill="#2a98ff"/><rect x="571.91" y="282.19" width="1" height="1" fill="#2a98ff"/><rect x="535.75" y="268.11" width="1" height="1" fill="#1e90ff"/><rect x="550.18" y="270.41" width="1" height="1" fill="#1e90ff"/><rect x="537.85" y="274.07" width="1" height="1" fill="#66b8ff"/><rect x="556.7" y="284.57" width="1" height="1" fill="#66b8ff"/><rect x="573.78" y="253.96" width="1" height="1" fill="#66b8ff"/><rect x="533.58" y="277.08" width="1" height="1" fill="#55b0ff"/><rect x="574.23" y="268.83" width="1" height="1" fill="#1e90ff"/><rect x="553.43" y="279.95" width="1" height="1" fill="#80c4ff"/><rect x="574.22" y="233.42" width="1" height="1" fill="#66b8ff"/><rect x="558.46" y="269.19" width="1" height="1" fill="#66b8ff"/><rect x="540.78" y="271.22" width="1" height="1" fill="#55b0ff"/><rect x="550.96" y="271.66" width="1" height="1" fill="#55b0ff"/><rect x="545.11" y="295.23" width="1" height="1" fill="#a8d6ff"/><rect x="548.77" y="258.47" width="1" height="1" fill="#66b8ff"/><rect x="533.87" y="281.13" width="1" height="1" fill="#a8d6ff"/><rect x="547.34" y="278.33" width="1" height="1" fill="#1e90ff"/><rect x="533.3" y="285.07" width="1" height="1" fill="#1e90ff"/><rect x="557.82" y="266.9" width="1" height="1" fill="#55b0ff"/><rect x="555.72" y="279.59" width="1" height="1" fill="#2a98ff"/><rect x="562.72" y="272.79" width="1" height="1" fill="#80c4ff"/><rect x="537.12" y="273.71" width="1" height="1" fill="#a8d6ff"/><rect x="574.82" y="271.04" width="1" height="1" fill="#55b0ff"/><rect x="553.91" y="272.31" width="1" height="1" fill="#80c4ff"/><rect x="556.62" y="270.35" width="1" height="1" fill="#2a98ff"/><rect x="541.5" y="265.04" width="1" height="1" fill="#66b8ff"/><rect x="538.87" y="257.13" width="1" height="1" fill="#55b0ff"/><rect x="548.86" y="261.32" width="1" height="1" fill="#1e90ff"/><rect x="571.26" y="256.01" width="1" height="1" fill="#2a98ff"/><rect x="574.65" y="248.95" width="1" height="1" fill="#2a98ff"/><rect x="542.91" y="278.02" width="1" height="1" fill="#66b8ff"/><rect x="534.74" y="263.49" width="1" height="1" fill="#66b8ff"/><rect x="572.56" y="269.14" width="1" height="1" fill="#66b8ff"/><rect x="543.76" y="268.76" width="1" height="1" fill="#80c4ff"/><rect x="543.73" y="289.26" width="1" height="1" fill="#66b8ff"/><rect x="549.34" y="262.91" width="1" height="1" fill="#a8d6ff"/><rect x="554.23" y="279.11" width="1" height="1" fill="#a8d6ff"/><rect x="559.97" y="251.27" width="1" height="1" fill="#a8d6ff"/><rect x="553.48" y="273.61" width="1" height="1" fill="#a8d6ff"/><rect x="560.19" y="273" width="1" height="1" fill="#55b0ff"/><rect x="556.84" y="274.92" width="1" height="1" fill="#66b8ff"/><rect x="574.92" y="245.16" width="1" height="1" fill="#66b8ff"/><rect x="539.85" y="288.35" width="1" height="1" fill="#2a98ff"/><rect x="556.1" y="278.29" width="1" height="1" fill="#66b8ff"/><rect x="539.41" y="264.49" width="1" height="1" fill="#80c4ff"/><rect x="541.59" y="259.6" width="1" height="1" fill="#a8d6ff"/><rect x="547" y="251.14" width="1" height="1" fill="#2a98ff"/><rect x="535.46" y="265.03" width="1" height="1" fill="#1e90ff"/><rect x="564.13" y="258.67" width="1" height="1" fill="#a8d6ff"/><rect x="560.85" y="258.75" width="1" height="1" fill="#1e90ff"/><rect x="566.94" y="279.97" width="1" height="1" fill="#a8d6ff"/><rect x="561.12" y="268.25" width="1" height="1" fill="#2a98ff"/><rect x="562.6" y="263.34" width="1" height="1" fill="#55b0ff"/><rect x="574.73" y="261.95" width="1" height="1" fill="#80c4ff"/><rect x="566.26" y="268.75" width="1" height="1" fill="#1e90ff"/><rect x="574.7" y="279.11" width="1" height="1" fill="#66b8ff"/><rect x="540.42" y="243.87" width="1" height="1" fill="#1e90ff"/><rect x="571.84" y="282.68" width="1" height="1" fill="#2a98ff"/><rect x="541.43" y="266.54" width="1" height="1" fill="#1e90ff"/><rect x="560.43" y="257.16" width="1" height="1" fill="#55b0ff"/><rect x="565.36" y="272.93" width="1" height="1" fill="#a8d6ff"/><rect x="540.72" y="273.11" width="1" height="1" fill="#a8d6ff"/><rect x="542.79" y="273.3" width="1" height="1" fill="#80c4ff"/><rect x="548.73" y="268.82" width="1" height="1" fill="#a8d6ff"/><rect x="549.38" y="280.33" width="1" height="1" fill="#1e90ff"/><rect x="573.93" y="274.33" width="1" height="1" fill="#55b0ff"/><rect x="556.41" y="256.92" width="1" height="1" fill="#1e90ff"/><rect x="550.1" y="281.03" width="1" height="1" fill="#80c4ff"/><rect x="539.18" y="265.44" width="1" height="1" fill="#80c4ff"/><rect x="561.03" y="267.74" width="1" height="1" fill="#80c4ff"/><rect x="538.62" y="248.24" width="1" height="1" fill="#a8d6ff"/><rect x="565.35" y="288.08" width="1" height="1" fill="#2a98ff"/><rect x="568.68" y="257.71" width="1" height="1" fill="#1e90ff"/><rect x="562.4" y="255.34" width="1" height="1" fill="#2a98ff"/><rect x="575.12" y="273.71" width="1" height="1" fill="#80c4ff"/><rect x="544.23" y="285.2" width="1" height="1" fill="#66b8ff"/><rect x="542.37" y="273.98" width="1" height="1" fill="#2a98ff"/><rect x="569.37" y="254.07" width="1" height="1" fill="#1e90ff"/><rect x="570.61" y="261.3" width="1" height="1" fill="#1e90ff"/><rect x="533.65" y="263.63" width="1" height="1" fill="#1e90ff"/><rect x="554.48" y="266.16" width="1" height="1" fill="#55b0ff"/><rect x="535.35" y="258.83" width="1" height="1" fill="#a8d6ff"/><rect x="533.39" y="275.37" width="1" height="1" fill="#2a98ff"/><rect x="533.37" y="282.54" width="1" height="1" fill="#80c4ff"/><rect x="541.32" y="265.85" width="1" height="1" fill="#2a98ff"/><rect x="576.16" y="284.76" width="1" height="1" fill="#55b0ff"/><rect x="533.76" y="286.85" width="1" height="1" fill="#a8d6ff"/><rect x="575.3" y="284.4" width="1" height="1" fill="#2a98ff"/><rect x="538.16" y="260.67" width="1" height="1" fill="#55b0ff"/><rect x="545.04" y="278.99" width="1" height="1" fill="#2a98ff"/><rect x="549.23" y="259.07" width="1" height="1" fill="#66b8ff"/><rect x="534.85" y="268.63" width="1" height="1" fill="#80c4ff"/><rect x="535.82" y="270.02" width="1" height="1" fill="#1e90ff"/><rect x="558.59" y="271.61" width="1" height="1" fill="#66b8ff"/><rect x="562" y="265.92" width="1" height="1" fill="#80c4ff"/><rect x="563.53" y="286.92" width="1" height="1" fill="#2a98ff"/><rect x="545.95" y="260.4" width="1" height="1" fill="#55b0ff"/><rect x="573.27" y="267.87" width="1" height="1" fill="#66b8ff"/><rect x="555.65" y="273.53" width="1" height="1" fill="#55b0ff"/><rect x="561.81" y="269.51" width="1" height="1" fill="#1e90ff"/><rect x="547.82" y="265.87" width="1" height="1" fill="#80c4ff"/><rect x="566.82" y="259.73" width="1" height="1" fill="#66b8ff"/><rect x="567.05" y="279.63" width="1" height="1" fill="#1e90ff"/><rect x="539.79" y="275.65" width="1" height="1" fill="#1e90ff"/><rect x="562.53" y="273.98" width="1" height="1" fill="#1e90ff"/><rect x="541.38" y="249.14" width="1" height="1" fill="#2a98ff"/><rect x="536.14" y="260.16" width="1" height="1" fill="#55b0ff"/><rect x="537.77" y="255.35" width="1" height="1" fill="#55b0ff"/><rect x="539.85" y="262.93" width="1" height="1" fill="#80c4ff"/><rect x="559.05" y="264.9" width="1" height="1" fill="#2a98ff"/><rect x="541.77" y="266.88" width="1" height="1" fill="#80c4ff"/><rect x="554.4" y="279.03" width="1" height="1" fill="#a8d6ff"/><rect x="563.33" y="284.83" width="1" height="1" fill="#66b8ff"/><rect x="540.96" y="270.91" width="1" height="1" fill="#66b8ff"/><rect x="543.81" y="256.73" width="1" height="1" fill="#1e90ff"/><rect x="558.16" y="254.52" width="1" height="1" fill="#55b0ff"/><rect x="572.23" y="274.37" width="1" height="1" fill="#2a98ff"/><rect x="561.82" y="284.91" width="1" height="1" fill="#1e90ff"/><rect x="544.34" y="277.09" width="1" height="1" fill="#66b8ff"/><rect x="566.55" y="280.77" width="1" height="1" fill="#55b0ff"/><rect x="568.97" y="260.44" width="1" height="1" fill="#2a98ff"/><rect x="567.55" y="225.57" width="1" height="1" fill="#66b8ff"/><rect x="546.47" y="258.5" width="1" height="1" fill="#1e90ff"/><rect x="535.42" y="296.37" width="1" height="1" fill="#66b8ff"/><rect x="559.5" y="274.84" width="1" height="1" fill="#a8d6ff"/><rect x="555.35" y="273.03" width="1" height="1" fill="#1e90ff"/><rect x="541.6" y="254.65" width="1" height="1" fill="#a8d6ff"/><rect x="538.2" y="248.17" width="1" height="1" fill="#55b0ff"/><rect x="548.78" y="269.07" width="1" height="1" fill="#2a98ff"/><rect x="564.16" y="239.41" width="1" height="1" fill="#66b8ff"/><rect x="537.62" y="264.31" width="1" height="1" fill="#a8d6ff"/><rect x="536.05" y="254.31" width="1" height="1" fill="#2a98ff"/><rect x="543.99" y="283.49" width="1" height="1" fill="#1e90ff"/><rect x="562.08" y="272.77" width="1" height="1" fill="#1e90ff"/><rect x="553.75" y="285.51" width="1" height="1" fill="#55b0ff"/><rect x="563.99" y="272.21" width="1" height="1" fill="#a8d6ff"/><rect x="552.44" y="252.79" width="1" height="1" fill="#66b8ff"/><rect x="573.35" y="292.87" width="1" height="1" fill="#66b8ff"/><rect x="537.57" y="259.92" width="1" height="1" fill="#2a98ff"/><rect x="552.82" y="260.5" width="1" height="1" fill="#a8d6ff"/><rect x="534.63" y="258.98" width="1" height="1" fill="#55b0ff"/><rect x="575.68" y="277.97" width="1" height="1" fill="#1e90ff"/><rect x="553.27" y="264.91" width="1" height="1" fill="#80c4ff"/><rect x="559.94" y="267.9" width="1" height="1" fill="#55b0ff"/><rect x="565.65" y="276.45" width="1" height="1" fill="#a8d6ff"/><rect x="566.53" y="262.96" width="1" height="1" fill="#80c4ff"/><rect x="550.13" y="272.92" width="1" height="1" fill="#2a98ff"/><rect x="537.09" y="275.68" width="1" height="1" fill="#1e90ff"/><rect x="545.53" y="268.67" width="1" height="1" fill="#a8d6ff"/><rect x="566.4" y="275.65" width="1" height="1" fill="#55b0ff"/><rect x="536.07" y="276.41" width="1" height="1" fill="#66b8ff"/><rect x="540.13" y="236.62" width="1" height="1" fill="#66b8ff"/><rect x="540.36" y="263.23" width="1" height="1" fill="#a8d6ff"/><rect x="540.56" y="271.78" width="1" height="1" fill="#80c4ff"/><rect x="547.7" y="251.12" width="1" height="1" fill="#66b8ff"/><rect x="538.36" y="272.17" width="1" height="1" fill="#2a98ff"/><rect x="538.09" y="318.03" width="1" height="1" fill="#80c4ff"/><rect x="544.29" y="267.77" width="1" height="1" fill="#a8d6ff"/><rect x="572.34" y="232.11" width="1" height="1" fill="#2a98ff"/><rect x="553.57" y="293.59" width="1" height="1" fill="#2a98ff"/><rect x="545.56" y="263.37" width="1" height="1" fill="#80c4ff"/><rect x="553.24" y="263.8" width="1" height="1" fill="#1e90ff"/><rect x="538.64" y="241.37" width="1" height="1" fill="#a8d6ff"/><rect x="541.42" y="278.27" width="1" height="1" fill="#55b0ff"/><rect x="568.38" y="267.78" width="1" height="1" fill="#66b8ff"/><rect x="547.74" y="270.18" width="1" height="1" fill="#a8d6ff"/><rect x="553.41" y="283.82" width="1" height="1" fill="#80c4ff"/><rect x="576.09" y="291.04" width="1" height="1" fill="#2a98ff"/><rect x="546.97" y="298.4" width="1" height="1" fill="#1e90ff"/><rect x="540.52" y="269.46" width="1" height="1" fill="#2a98ff"/><rect x="541.16" y="253.55" width="1" height="1" fill="#80c4ff"/><rect x="551.2" y="285.62" width="1" height="1" fill="#a8d6ff"/><rect x="558.01" y="237.68" width="1" height="1" fill="#55b0ff"/><rect x="533.45" y="272.07" width="1" height="1" fill="#55b0ff"/><rect x="572.12" y="245.5" width="1" height="1" fill="#80c4ff"/><rect x="574.41" y="253.72" width="1" height="1" fill="#a8d6ff"/><rect x="548.91" y="258.15" width="1" height="1" fill="#a8d6ff"/><rect x="549.45" y="281.9" width="1" height="1" fill="#55b0ff"/><rect x="537.8" y="275.65" width="1" height="1" fill="#a8d6ff"/><rect x="571.6" y="270.47" width="1" height="1" fill="#80c4ff"/><rect x="573" y="256.53" width="1" height="1" fill="#80c4ff"/><rect x="567.98" y="299" width="1" height="1" fill="#a8d6ff"/><rect x="565.84" y="268.29" width="1" height="1" fill="#66b8ff"/><rect x="568.37" y="269.47" width="1" height="1" fill="#80c4ff"/><rect x="549.56" y="296.29" width="1" height="1" fill="#1e90ff"/><rect x="569.53" y="284.96" width="1" height="1" fill="#66b8ff"/><rect x="547.63" y="286.67" width="1" height="1" fill="#55b0ff"/><rect x="568.7" y="250.45" width="1" height="1" fill="#80c4ff"/><rect x="569.88" y="298.66" width="1" height="1" fill="#80c4ff"/><rect x="571.23" y="297.26" width="1" height="1" fill="#66b8ff"/><rect x="552.82" y="280.8" width="1" height="1" fill="#1e90ff"/><rect x="547.76" y="276.45" width="1" height="1" fill="#55b0ff"/><rect x="570.84" y="239.24" width="1" height="1" fill="#a8d6ff"/><rect x="542.31" y="262.66" width="1" height="1" fill="#55b0ff"/><rect x="537.37" y="281.49" width="1" height="1" fill="#a8d6ff"/><rect x="536.07" y="275.22" width="1" height="1" fill="#55b0ff"/><rect x="535.94" y="269.33" width="1" height="1" fill="#1e90ff"/><rect x="553.1" y="258.05" width="1" height="1" fill="#55b0ff"/><rect x="550.48" y="284.45" width="1" height="1" fill="#55b0ff"/><rect x="546.48" y="227.72" width="1" height="1" fill="#66b8ff"/><rect x="560.51" y="286.02" width="1" height="1" fill="#80c4ff"/><rect x="572.14" y="257.53" width="1" height="1" fill="#55b0ff"/><rect x="564.92" y="256.19" width="1" height="1" fill="#1e90ff"/><rect x="558.56" y="280.39" width="1" height="1" fill="#80c4ff"/><rect x="554.06" y="250.88" width="1" height="1" fill="#1e90ff"/><rect x="551.11" y="289.47" width="1" height="1" fill="#1e90ff"/><rect x="542.05" y="251.82" width="1" height="1" fill="#1e90ff"/><rect x="548.76" y="240.32" width="1" height="1" fill="#55b0ff"/><rect x="572.77" y="293.49" width="1" height="1" fill="#80c4ff"/><rect x="551.81" y="275.23" width="1" height="1" fill="#2a98ff"/><rect x="564.21" y="262.85" width="1" height="1" fill="#1e90ff"/><rect x="555.78" y="273.4" width="1" height="1" fill="#66b8ff"/><rect x="568.69" y="274.09" width="1" height="1" fill="#80c4ff"/><rect x="542.67" y="253.6" width="1" height="1" fill="#55b0ff"/><rect x="565.4" y="274.04" width="1" height="1" fill="#a8d6ff"/><rect x="571.42" y="258.01" width="1" height="1" fill="#80c4ff"/><rect x="576.17" y="253.9" width="1" height="1" fill="#66b8ff"/><rect x="563.88" y="277.15" width="1" height="1" fill="#55b0ff"/><rect x="573.44" y="274.56" width="1" height="1" fill="#1e90ff"/><rect x="547.31" y="284.56" width="1" height="1" fill="#80c4ff"/><rect x="564.85" y="278.76" width="1" height="1" fill="#55b0ff"/><rect x="554.76" y="290.89" width="1" height="1" fill="#55b0ff"/><rect x="562.08" y="298.03" width="1" height="1" fill="#80c4ff"/><rect x="576.5" y="305.33" width="1" height="1" fill="#66b8ff"/><rect x="557.41" y="273.21" width="1" height="1" fill="#1e90ff"/><rect x="572.59" y="259" width="1" height="1" fill="#a8d6ff"/><rect x="556.99" y="272.17" width="1" height="1" fill="#a8d6ff"/><rect x="548.73" y="233.81" width="1" height="1" fill="#a8d6ff"/><rect x="573.19" y="271.04" width="1" height="1" fill="#55b0ff"/><rect x="554.85" y="273.78" width="1" height="1" fill="#55b0ff"/><rect x="572.09" y="306.34" width="1" height="1" fill="#55b0ff"/><rect x="555.22" y="243.76" width="1" height="1" fill="#66b8ff"/><rect x="573.57" y="260.68" width="1" height="1" fill="#80c4ff"/><rect x="560.45" y="266.31" width="1" height="1" fill="#66b8ff"/><rect x="567.95" y="248.31" width="1" height="1" fill="#a8d6ff"/><rect x="544.27" y="281.25" width="1" height="1" fill="#80c4ff"/><rect x="545.01" y="251.05" width="1" height="1" fill="#2a98ff"/><rect x="553.37" y="280.37" width="1" height="1" fill="#66b8ff"/><rect x="537.02" y="286.4" width="1" height="1" fill="#66b8ff"/><rect x="564.19" y="270.58" width="1" height="1" fill="#66b8ff"/><rect x="565.55" y="271.12" width="1" height="1" fill="#1e90ff"/><rect x="555.48" y="283.79" width="1" height="1" fill="#55b0ff"/><rect x="540.63" y="238.89" width="1" height="1" fill="#2a98ff"/><rect x="541.79" y="246.51" width="1" height="1" fill="#80c4ff"/><rect x="558.47" y="264.54" width="1" height="1" fill="#2a98ff"/><rect x="563.98" y="240.56" width="1" height="1" fill="#55b0ff"/><rect x="563.91" y="265.15" width="1" height="1" fill="#2a98ff"/><rect x="573.24" y="304.02" width="1" height="1" fill="#80c4ff"/><rect x="535.29" y="288.27" width="1" height="1" fill="#a8d6ff"/><rect x="536.76" y="263.31" width="1" height="1" fill="#1e90ff"/><rect x="536.03" y="277.86" width="1" height="1" fill="#80c4ff"/><rect x="539.18" y="244.08" width="1" height="1" fill="#a8d6ff"/><rect x="553.01" y="229.74" width="1" height="1" fill="#55b0ff"/><rect x="547.62" y="222.13" width="1" height="1" fill="#80c4ff"/><rect x="566.35" y="270.37" width="1" height="1" fill="#80c4ff"/><rect x="540.01" y="281.98" width="1" height="1" fill="#80c4ff"/><rect x="550.84" y="258.73" width="1" height="1" fill="#66b8ff"/><rect x="540.04" y="259.65" width="1" height="1" fill="#66b8ff"/><rect x="542.51" y="280.15" width="1" height="1" fill="#2a98ff"/><rect x="546.74" y="276" width="1" height="1" fill="#66b8ff"/><rect x="554.95" y="278.34" width="1" height="1" fill="#66b8ff"/><rect x="552.13" y="288.81" width="1" height="1" fill="#a8d6ff"/><rect x="575.32" y="226.83" width="1" height="1" fill="#66b8ff"/><rect x="553.51" y="273.74" width="1" height="1" fill="#66b8ff"/><rect x="541.61" y="261.57" width="1" height="1" fill="#2a98ff"/><rect x="540.36" y="264.5" width="1" height="1" fill="#a8d6ff"/><rect x="536.19" y="255.85" width="1" height="1" fill="#2a98ff"/><rect x="550.55" y="225.17" width="1" height="1" fill="#2a98ff"/><rect x="548.4" y="255.05" width="1" height="1" fill="#55b0ff"/><rect x="563.05" y="277.6" width="1" height="1" fill="#a8d6ff"/><rect x="550.05" y="290.72" width="1" height="1" fill="#80c4ff"/><rect x="557.91" y="299.41" width="1" height="1" fill="#a8d6ff"/><rect x="533.28" y="287.01" width="1" height="1" fill="#2a98ff"/><rect x="548.42" y="246.43" width="1" height="1" fill="#66b8ff"/><rect x="560.4" y="286" width="1" height="1" fill="#a8d6ff"/><rect x="551.82" y="261.23" width="1" height="1" fill="#1e90ff"/><rect x="545.97" y="244.99" width="1" height="1" fill="#55b0ff"/><rect x="564.97" y="261.13" width="1" height="1" fill="#55b0ff"/><rect x="574.29" y="280.5" width="1" height="1" fill="#1e90ff"/><rect x="570.04" y="283.6" width="1" height="1" fill="#a8d6ff"/><rect x="567.41" y="247.15" width="1" height="1" fill="#80c4ff"/><rect x="547.79" y="255.49" width="1" height="1" fill="#1e90ff"/><rect x="574.1" y="252.6" width="1" height="1" fill="#2a98ff"/><rect x="540.93" y="264.42" width="1" height="1" fill="#80c4ff"/><rect x="538.02" y="295.85" width="1" height="1" fill="#80c4ff"/><rect x="534.16" y="250.6" width="1" height="1" fill="#2a98ff"/><rect x="547.06" y="249.11" width="1" height="1" fill="#1e90ff"/><rect x="548.81" y="272.69" width="1" height="1" fill="#66b8ff"/><rect x="571.94" y="256.98" width="1" height="1" fill="#80c4ff"/><rect x="573.43" y="287.96" width="1" height="1" fill="#a8d6ff"/><rect x="560.8" y="253.98" width="1" height="1" fill="#80c4ff"/><rect x="549.84" y="272.34" width="1" height="1" fill="#66b8ff"/><rect x="559.5" y="273.13" width="1" height="1" fill="#2a98ff"/><rect x="549.12" y="256.37" width="1" height="1" fill="#66b8ff"/><rect x="549.87" y="244.1" width="1" height="1" fill="#55b0ff"/><rect x="547.46" y="274.62" width="1" height="1" fill="#a8d6ff"/><rect x="563.01" y="260.42" width="1" height="1" fill="#66b8ff"/><rect x="591.26" y="268.34" width="1" height="1" fill="#66b8ff"/><rect x="583.48" y="259.06" width="1" height="1" fill="#66b8ff"/><rect x="598.31" y="271.16" width="1" height="1" fill="#80c4ff"/><rect x="593.57" y="234.64" width="1" height="1" fill="#80c4ff"/><rect x="621.4" y="256.35" width="1" height="1" fill="#80c4ff"/><rect x="598.36" y="259.74" width="1" height="1" fill="#80c4ff"/><rect x="581.37" y="237.33" width="1" height="1" fill="#a8d6ff"/><rect x="617.69" y="283.83" width="1" height="1" fill="#2a98ff"/><rect x="623.1" y="243.45" width="1" height="1" fill="#55b0ff"/><rect x="587.65" y="269.66" width="1" height="1" fill="#2a98ff"/><rect x="586.01" y="246.57" width="1" height="1" fill="#2a98ff"/><rect x="589.31" y="275.07" width="1" height="1" fill="#a8d6ff"/><rect x="605.42" y="231.97" width="1" height="1" fill="#1e90ff"/><rect x="602.1" y="264.89" width="1" height="1" fill="#80c4ff"/><rect x="585.9" y="277.91" width="1" height="1" fill="#a8d6ff"/><rect x="610.47" y="266.25" width="1" height="1" fill="#55b0ff"/><rect x="585.51" y="274.8" width="1" height="1" fill="#66b8ff"/><rect x="582.6" y="261.79" width="1" height="1" fill="#1e90ff"/><rect x="583.52" y="263.45" width="1" height="1" fill="#80c4ff"/><rect x="588.07" y="248" width="1" height="1" fill="#80c4ff"/><rect x="600.42" y="253.21" width="1" height="1" fill="#55b0ff"/><rect x="622.71" y="288.86" width="1" height="1" fill="#66b8ff"/><rect x="601.01" y="257.19" width="1" height="1" fill="#55b0ff"/><rect x="592.25" y="280.14" width="1" height="1" fill="#66b8ff"/><rect x="620.07" y="267.78" width="1" height="1" fill="#66b8ff"/><rect x="586.3" y="266.85" width="1" height="1" fill="#a8d6ff"/><rect x="607.88" y="278.47" width="1" height="1" fill="#a8d6ff"/><rect x="588.26" y="251.76" width="1" height="1" fill="#80c4ff"/><rect x="626.93" y="257.48" width="1" height="1" fill="#55b0ff"/><rect x="587.82" y="280.33" width="1" height="1" fill="#a8d6ff"/><rect x="613.27" y="251.89" width="1" height="1" fill="#2a98ff"/><rect x="609.81" y="225.6" width="1" height="1" fill="#a8d6ff"/><rect x="593.9" y="289.96" width="1" height="1" fill="#55b0ff"/><rect x="593.67" y="261.35" width="1" height="1" fill="#2a98ff"/><rect x="601.19" y="267.85" width="1" height="1" fill="#55b0ff"/><rect x="623.88" y="284.24" width="1" height="1" fill="#80c4ff"/><rect x="602.44" y="287.45" width="1" height="1" fill="#a8d6ff"/><rect x="603.41" y="256.02" width="1" height="1" fill="#a8d6ff"/><rect x="591.83" y="264.39" width="1" height="1" fill="#1e90ff"/><rect x="591.56" y="274.27" width="1" height="1" fill="#55b0ff"/><rect x="598.52" y="255.28" width="1" height="1" fill="#a8d6ff"/><rect x="584.33" y="291.26" width="1" height="1" fill="#66b8ff"/><rect x="602.66" y="277.07" width="1" height="1" fill="#1e90ff"/><rect x="586.47" y="288.32" width="1" height="1" fill="#a8d6ff"/><rect x="616.22" y="291.5" width="1" height="1" fill="#1e90ff"/><rect x="603.47" y="266.79" width="1" height="1" fill="#55b0ff"/><rect x="593.56" y="243.4" width="1" height="1" fill="#2a98ff"/><rect x="598.66" y="255.52" width="1" height="1" fill="#80c4ff"/><rect x="593.7" y="268.28" width="1" height="1" fill="#2a98ff"/><rect x="596.74" y="284.87" width="1" height="1" fill="#2a98ff"/><rect x="608.61" y="265.62" width="1" height="1" fill="#66b8ff"/><rect x="600.15" y="282.67" width="1" height="1" fill="#80c4ff"/><rect x="578.27" y="294.55" width="1" height="1" fill="#55b0ff"/><rect x="593.06" y="267.88" width="1" height="1" fill="#2a98ff"/><rect x="585.66" y="264.53" width="1" height="1" fill="#a8d6ff"/><rect x="614.89" y="271.62" width="1" height="1" fill="#2a98ff"/><rect x="604.97" y="296.05" width="1" height="1" fill="#55b0ff"/><rect x="602.76" y="287.85" width="1" height="1" fill="#55b0ff"/><rect x="589.72" y="283.25" width="1" height="1" fill="#80c4ff"/><rect x="605.36" y="296.63" width="1" height="1" fill="#80c4ff"/><rect x="588.49" y="255.9" width="1" height="1" fill="#66b8ff"/><rect x="590.55" y="299.12" width="1" height="1" fill="#2a98ff"/><rect x="616.63" y="262.34" width="1" height="1" fill="#a8d6ff"/><rect x="619.8" y="260.94" width="1" height="1" fill="#66b8ff"/><rect x="620.34" y="286.24" width="1" height="1" fill="#55b0ff"/><rect x="593.35" y="244.44" width="1" height="1" fill="#1e90ff"/><rect x="621.73" y="273.38" width="1" height="1" fill="#66b8ff"/><rect x="593.75" y="262.88" width="1" height="1" fill="#55b0ff"/><rect x="598.36" y="261.9" width="1" height="1" fill="#a8d6ff"/><rect x="596.43" y="279.83" width="1" height="1" fill="#66b8ff"/><rect x="584.37" y="281.27" width="1" height="1" fill="#80c4ff"/><rect x="581.09" y="247.04" width="1" height="1" fill="#80c4ff"/><rect x="599.93" y="257.58" width="1" height="1" fill="#55b0ff"/><rect x="593.38" y="266.05" width="1" height="1" fill="#55b0ff"/><rect x="601.47" y="263.94" width="1" height="1" fill="#1e90ff"/><rect x="581.32" y="270.33" width="1" height="1" fill="#55b0ff"/><rect x="594.47" y="275.62" width="1" height="1" fill="#1e90ff"/><rect x="628.19" y="252.92" width="1" height="1" fill="#1e90ff"/><rect x="614.56" y="294.89" width="1" height="1" fill="#55b0ff"/><rect x="621.54" y="258.98" width="1" height="1" fill="#55b0ff"/><rect x="597.62" y="282.72" width="1" height="1" fill="#80c4ff"/><rect x="600.27" y="264.84" width="1" height="1" fill="#1e90ff"/><rect x="584.81" y="267.83" width="1" height="1" fill="#55b0ff"/><rect x="585.28" y="284.17" width="1" height="1" fill="#a8d6ff"/><rect x="598.71" y="247.93" width="1" height="1" fill="#80c4ff"/><rect x="638.98" y="246.24" width="1" height="1" fill="#a8d6ff"/><rect x="578.47" y="266.13" width="1" height="1" fill="#55b0ff"/><rect x="627.52" y="284.61" width="1" height="1" fill="#1e90ff"/><rect x="583.55" y="266.17" width="1" height="1" fill="#80c4ff"/><rect x="606.23" y="255.49" width="1" height="1" fill="#2a98ff"/><rect x="592.65" y="267.83" width="1" height="1" fill="#a8d6ff"/><rect x="589.83" y="260.96" width="1" height="1" fill="#80c4ff"/><rect x="586.44" y="297.73" width="1" height="1" fill="#a8d6ff"/><rect x="604.25" y="301.98" width="1" height="1" fill="#1e90ff"/><rect x="586.86" y="261.7" width="1" height="1" fill="#66b8ff"/><rect x="593.38" y="266.15" width="1" height="1" fill="#2a98ff"/><rect x="582.16" y="275.42" width="1" height="1" fill="#a8d6ff"/><rect x="611.82" y="235.39" width="1" height="1" fill="#a8d6ff"/><rect x="610.95" y="266.15" width="1" height="1" fill="#66b8ff"/><rect x="599.26" y="287.47" width="1" height="1" fill="#a8d6ff"/><rect x="606.99" y="291.94" width="1" height="1" fill="#2a98ff"/><rect x="586.38" y="273.84" width="1" height="1" fill="#a8d6ff"/><rect x="609.59" y="252.77" width="1" height="1" fill="#80c4ff"/><rect x="608.42" y="266.65" width="1" height="1" fill="#a8d6ff"/><rect x="599.3" y="276.8" width="1" height="1" fill="#2a98ff"/><rect x="599.28" y="272.61" width="1" height="1" fill="#55b0ff"/><rect x="585.03" y="255.85" width="1" height="1" fill="#80c4ff"/><rect x="582.09" y="273.6" width="1" height="1" fill="#80c4ff"/><rect x="597.67" y="275.81" width="1" height="1" fill="#1e90ff"/><rect x="589.63" y="289" width="1" height="1" fill="#2a98ff"/><rect x="607.8" y="272.2" width="1" height="1" fill="#a8d6ff"/><rect x="588.39" y="261.24" width="1" height="1" fill="#2a98ff"/><rect x="594.12" y="273.65" width="1" height="1" fill="#2a98ff"/><rect x="592.73" y="254.33" width="1" height="1" fill="#55b0ff"/><rect x="626.6" y="264.31" width="1" height="1" fill="#66b8ff"/><rect x="590.02" y="277.58" width="1" height="1" fill="#1e90ff"/><rect x="607.65" y="254.41" width="1" height="1" fill="#80c4ff"/><rect x="581.85" y="270.95" width="1" height="1" fill="#80c4ff"/><rect x="595.67" y="249.26" width="1" height="1" fill="#2a98ff"/><rect x="586.75" y="263.32" width="1" height="1" fill="#55b0ff"/><rect x="588.49" y="273" width="1" height="1" fill="#66b8ff"/><rect x="584.1" y="249.46" width="1" height="1" fill="#80c4ff"/><rect x="593.41" y="253.01" width="1" height="1" fill="#66b8ff"/><rect x="614.06" y="284.6" width="1" height="1" fill="#2a98ff"/><rect x="582.83" y="281.9" width="1" height="1" fill="#80c4ff"/><rect x="611.73" y="278.99" width="1" height="1" fill="#80c4ff"/><rect x="591.17" y="277.16" width="1" height="1" fill="#80c4ff"/><rect x="586.78" y="281.96" width="1" height="1" fill="#66b8ff"/><rect x="588.92" y="270.68" width="1" height="1" fill="#55b0ff"/><rect x="644.05" y="254.76" width="1" height="1" fill="#1e90ff"/><rect x="600.83" y="277.4" width="1" height="1" fill="#1e90ff"/><rect x="592.02" y="287.96" width="1" height="1" fill="#66b8ff"/><rect x="591.27" y="255.38" width="1" height="1" fill="#2a98ff"/><rect x="587.87" y="251.39" width="1" height="1" fill="#80c4ff"/><rect x="593.66" y="267.8" width="1" height="1" fill="#80c4ff"/><rect x="594.13" y="248.36" width="1" height="1" fill="#80c4ff"/><rect x="614.64" y="273.67" width="1" height="1" fill="#66b8ff"/><rect x="591.61" y="275.61" width="1" height="1" fill="#a8d6ff"/><rect x="608.37" y="255.03" width="1" height="1" fill="#2a98ff"/><rect x="589.92" y="253.5" width="1" height="1" fill="#66b8ff"/><rect x="590.62" y="307.89" width="1" height="1" fill="#80c4ff"/><rect x="592.37" y="267.15" width="1" height="1" fill="#2a98ff"/><rect x="597.83" y="250.96" width="1" height="1" fill="#80c4ff"/><rect x="600.77" y="249.84" width="1" height="1" fill="#66b8ff"/><rect x="599.66" y="282.26" width="1" height="1" fill="#66b8ff"/><rect x="602.83" y="270.68" width="1" height="1" fill="#a8d6ff"/><rect x="602.58" y="266.7" width="1" height="1" fill="#1e90ff"/><rect x="591.5" y="237.74" width="1" height="1" fill="#66b8ff"/><rect x="613.6" y="262.87" width="1" height="1" fill="#80c4ff"/><rect x="594.06" y="263.01" width="1" height="1" fill="#a8d6ff"/><rect x="598.83" y="268.45" width="1" height="1" fill="#a8d6ff"/><rect x="606.16" y="265.68" width="1" height="1" fill="#a8d6ff"/><rect x="585.88" y="284.47" width="1" height="1" fill="#80c4ff"/><rect x="605.06" y="277.82" width="1" height="1" fill="#1e90ff"/><rect x="599.71" y="264.61" width="1" height="1" fill="#80c4ff"/><rect x="591.94" y="241.96" width="1" height="1" fill="#55b0ff"/><rect x="582.18" y="301.19" width="1" height="1" fill="#2a98ff"/><rect x="592.74" y="275.78" width="1" height="1" fill="#80c4ff"/><rect x="591.15" y="240.21" width="1" height="1" fill="#66b8ff"/><rect x="583.05" y="256.69" width="1" height="1" fill="#2a98ff"/><rect x="591.41" y="276.99" width="1" height="1" fill="#66b8ff"/><rect x="580.42" y="242.62" width="1" height="1" fill="#55b0ff"/><rect x="586.6" y="293.14" width="1" height="1" fill="#66b8ff"/><rect x="596.06" y="247.95" width="1" height="1" fill="#1e90ff"/><rect x="581.7" y="272.26" width="1" height="1" fill="#2a98ff"/><rect x="632.09" y="274.75" width="1" height="1" fill="#2a98ff"/><rect x="609.29" y="232.71" width="1" height="1" fill="#a8d6ff"/><rect x="581.02" y="280.48" width="1" height="1" fill="#80c4ff"/><rect x="590.95" y="243.48" width="1" height="1" fill="#a8d6ff"/><rect x="592.5" y="275.71" width="1" height="1" fill="#a8d6ff"/><rect x="594.63" y="236.03" width="1" height="1" fill="#55b0ff"/><rect x="595.66" y="255.08" width="1" height="1" fill="#1e90ff"/><rect x="600.45" y="304.33" width="1" height="1" fill="#a8d6ff"/><rect x="594.07" y="277.19" width="1" height="1" fill="#a8d6ff"/><rect x="595.41" y="256.25" width="1" height="1" fill="#2a98ff"/><rect x="595.67" y="256.96" width="1" height="1" fill="#55b0ff"/><rect x="581.51" y="252.61" width="1" height="1" fill="#55b0ff"/><rect x="598.61" y="257.74" width="1" height="1" fill="#2a98ff"/><rect x="590.65" y="260.51" width="1" height="1" fill="#66b8ff"/><rect x="592.94" y="276.33" width="1" height="1" fill="#55b0ff"/><rect x="603.91" y="285.31" width="1" height="1" fill="#66b8ff"/><rect x="591.29" y="248.03" width="1" height="1" fill="#1e90ff"/><rect x="612.4" y="269.87" width="1" height="1" fill="#66b8ff"/><rect x="588.27" y="276.65" width="1" height="1" fill="#a8d6ff"/><rect x="594.76" y="261.1" width="1" height="1" fill="#66b8ff"/><rect x="593.82" y="261.02" width="1" height="1" fill="#2a98ff"/><rect x="595.73" y="286.2" width="1" height="1" fill="#55b0ff"/><rect x="589.7" y="266.52" width="1" height="1" fill="#2a98ff"/><rect x="588.51" y="281.43" width="1" height="1" fill="#55b0ff"/><rect x="593.81" y="262.71" width="1" height="1" fill="#2a98ff"/><rect x="582.13" y="296.51" width="1" height="1" fill="#66b8ff"/><rect x="594.72" y="259.39" width="1" height="1" fill="#55b0ff"/><rect x="590.44" y="240.8" width="1" height="1" fill="#55b0ff"/><rect x="589.44" y="250.1" width="1" height="1" fill="#1e90ff"/><rect x="598.06" y="271.92" width="1" height="1" fill="#a8d6ff"/><rect x="609.08" y="248.61" width="1" height="1" fill="#55b0ff"/><rect x="603.09" y="262.56" width="1" height="1" fill="#55b0ff"/><rect x="596.11" y="274.11" width="1" height="1" fill="#a8d6ff"/><rect x="637.16" y="284.28" width="1" height="1" fill="#66b8ff"/><rect x="591.25" y="269.46" width="1" height="1" fill="#a8d6ff"/><rect x="588.02" y="270.63" width="1" height="1" fill="#1e90ff"/><rect x="601.82" y="274.34" width="1" height="1" fill="#1e90ff"/><rect x="592.82" y="249.74" width="1" height="1" fill="#80c4ff"/><rect x="593.37" y="282.67" width="1" height="1" fill="#2a98ff"/><rect x="607.01" y="288.5" width="1" height="1" fill="#55b0ff"/><rect x="594.01" y="257.18" width="1" height="1" fill="#66b8ff"/><rect x="599.4" y="254.25" width="1" height="1" fill="#80c4ff"/><rect x="623.75" y="285.92" width="1" height="1" fill="#80c4ff"/><rect x="604.06" y="281.44" width="1" height="1" fill="#a8d6ff"/><rect x="592.92" y="278.83" width="1" height="1" fill="#66b8ff"/><rect x="596.44" y="280.24" width="1" height="1" fill="#1e90ff"/><rect x="592.11" y="278.67" width="1" height="1" fill="#2a98ff"/><rect x="596.82" y="248.09" width="1" height="1" fill="#80c4ff"/><rect x="596.21" y="273.09" width="1" height="1" fill="#1e90ff"/><rect x="617.22" y="274.52" width="1" height="1" fill="#55b0ff"/><rect x="580.06" y="263.4" width="1" height="1" fill="#66b8ff"/><rect x="612.57" y="261.43" width="1" height="1" fill="#a8d6ff"/><rect x="601.99" y="267.32" width="1" height="1" fill="#1e90ff"/><rect x="596.75" y="286.12" width="1" height="1" fill="#55b0ff"/><rect x="580.46" y="288.54" width="1" height="1" fill="#a8d6ff"/><rect x="591.18" y="261" width="1" height="1" fill="#a8d6ff"/><rect x="588.77" y="284.46" width="1" height="1" fill="#66b8ff"/><rect x="606.42" y="269.17" width="1" height="1" fill="#a8d6ff"/><rect x="593.03" y="288.08" width="1" height="1" fill="#80c4ff"/><rect x="608.23" y="249.53" width="1" height="1" fill="#66b8ff"/><rect x="588.2" y="282.97" width="1" height="1" fill="#2a98ff"/><rect x="611.27" y="256.79" width="1" height="1" fill="#66b8ff"/><rect x="634.54" y="279.62" width="1" height="1" fill="#66b8ff"/><rect x="588.14" y="261.17" width="1" height="1" fill="#66b8ff"/><rect x="631.19" y="274.24" width="1" height="1" fill="#1e90ff"/><rect x="625.13" y="247.27" width="1" height="1" fill="#a8d6ff"/><rect x="632.78" y="240.76" width="1" height="1" fill="#a8d6ff"/><rect x="631.61" y="265.49" width="1" height="1" fill="#55b0ff"/><rect x="578.82" y="292.1" width="1" height="1" fill="#2a98ff"/><rect x="606.4" y="287.77" width="1" height="1" fill="#80c4ff"/><rect x="622.55" y="266.36" width="1" height="1" fill="#1e90ff"/><rect x="633.86" y="242.62" width="1" height="1" fill="#66b8ff"/><rect x="636.21" y="252.4" width="1" height="1" fill="#1e90ff"/><rect x="579.49" y="252.23" width="1" height="1" fill="#80c4ff"/><rect x="582.1" y="233.19" width="1" height="1" fill="#a8d6ff"/><rect x="618.37" y="236.7" width="1" height="1" fill="#2a98ff"/><rect x="588.18" y="249.07" width="1" height="1" fill="#66b8ff"/><rect x="595.92" y="294.25" width="1" height="1" fill="#1e90ff"/><rect x="636.65" y="290.64" width="1" height="1" fill="#2a98ff"/><rect x="642.14" y="259.69" width="1" height="1" fill="#2a98ff"/><rect x="629.53" y="248.23" width="1" height="1" fill="#1e90ff"/><rect x="638.02" y="286.37" width="1" height="1" fill="#2a98ff"/><rect x="625.39" y="244.39" width="1" height="1" fill="#2a98ff"/><rect x="583.75" y="294.6" width="1" height="1" fill="#a8d6ff"/><rect x="613.69" y="272.09" width="1" height="1" fill="#1e90ff"/><rect x="633.83" y="238.33" width="1" height="1" fill="#80c4ff"/><rect x="623.26" y="261.41" width="1" height="1" fill="#55b0ff"/><rect x="628.89" y="260.83" width="1" height="1" fill="#80c4ff"/><rect x="590.59" y="296.86" width="1" height="1" fill="#66b8ff"/><rect x="596.08" y="281.63" width="1" height="1" fill="#1e90ff"/><rect x="631.83" y="245.84" width="1" height="1" fill="#66b8ff"/><rect x="622.98" y="256.52" width="1" height="1" fill="#2a98ff"/><rect x="592.36" y="243.64" width="1" height="1" fill="#1e90ff"/><rect x="639.81" y="254.51" width="1" height="1" fill="#a8d6ff"/><rect x="610.94" y="264.09" width="1" height="1" fill="#a8d6ff"/><rect x="579.53" y="282.26" width="1" height="1" fill="#1e90ff"/><rect x="626.23" y="291.07" width="1" height="1" fill="#a8d6ff"/><rect x="601" y="243.1" width="1" height="1" fill="#80c4ff"/><rect x="600.38" y="280.72" width="1" height="1" fill="#a8d6ff"/><rect x="620.57" y="257.24" width="1" height="1" fill="#a8d6ff"/><rect x="611.9" y="239.09" width="1" height="1" fill="#a8d6ff"/><rect x="637.51" y="261.97" width="1" height="1" fill="#80c4ff"/><rect x="610.74" y="284.66" width="1" height="1" fill="#1e90ff"/><rect x="590.66" y="280.02" width="1" height="1" fill="#66b8ff"/><rect x="600.76" y="286.5" width="1" height="1" fill="#55b0ff"/><rect x="583.93" y="247.87" width="1" height="1" fill="#1e90ff"/><rect x="619.11" y="262.73" width="1" height="1" fill="#2a98ff"/><rect x="602.3" y="269.66" width="1" height="1" fill="#1e90ff"/><rect x="591.95" y="259.49" width="1" height="1" fill="#2a98ff"/><rect x="577.92" y="285.5" width="1" height="1" fill="#a8d6ff"/><rect x="540.24" y="325.01" width="1" height="1" fill="#80c4ff"/><rect x="552.87" y="316.32" width="1" height="1" fill="#66b8ff"/><rect x="556.39" y="302.8" width="1" height="1" fill="#55b0ff"/><rect x="541.68" y="326.31" width="1" height="1" fill="#a8d6ff"/><rect x="564.46" y="319.1" width="1" height="1" fill="#1e90ff"/><rect x="565.97" y="310.82" width="1" height="1" fill="#66b8ff"/><rect x="558.71" y="330.07" width="1" height="1" fill="#55b0ff"/><rect x="568.69" y="309.34" width="1" height="1" fill="#55b0ff"/><rect x="537.96" y="312.03" width="1" height="1" fill="#55b0ff"/><rect x="552.2" y="310.91" width="1" height="1" fill="#55b0ff"/><rect x="550.63" y="325.26" width="1" height="1" fill="#55b0ff"/><rect x="533.21" y="329.1" width="1" height="1" fill="#80c4ff"/><rect x="538.28" y="301.42" width="1" height="1" fill="#2a98ff"/><rect x="553.7" y="314.11" width="1" height="1" fill="#1e90ff"/><rect x="538.92" y="323.03" width="1" height="1" fill="#80c4ff"/><rect x="542.24" y="320.94" width="1" height="1" fill="#80c4ff"/><rect x="539.3" y="315.31" width="1" height="1" fill="#2a98ff"/><rect x="534.24" y="317.82" width="1" height="1" fill="#2a98ff"/><rect x="561.72" y="302.35" width="1" height="1" fill="#a8d6ff"/><rect x="548.74" y="308.85" width="1" height="1" fill="#1e90ff"/><rect x="559.9" y="323.01" width="1" height="1" fill="#80c4ff"/><rect x="575.77" y="304.56" width="1" height="1" fill="#66b8ff"/><rect x="533.58" y="322.09" width="1" height="1" fill="#a8d6ff"/><rect x="546.57" y="329.15" width="1" height="1" fill="#1e90ff"/><rect x="573.11" y="313.25" width="1" height="1" fill="#a8d6ff"/><rect x="547.82" y="310.83" width="1" height="1" fill="#66b8ff"/><rect x="563.54" y="325.02" width="1" height="1" fill="#80c4ff"/><rect x="570.03" y="309.93" width="1" height="1" fill="#66b8ff"/><rect x="558.1" y="314.86" width="1" height="1" fill="#a8d6ff"/><rect x="548.73" y="315.38" width="1" height="1" fill="#66b8ff"/><rect x="539.91" y="314.78" width="1" height="1" fill="#66b8ff"/><rect x="569.45" y="331.16" width="1" height="1" fill="#66b8ff"/><rect x="533.16" y="317.23" width="1" height="1" fill="#55b0ff"/><rect x="556.68" y="325.51" width="1" height="1" fill="#1e90ff"/><rect x="560.69" y="320.99" width="1" height="1" fill="#1e90ff"/><rect x="538.46" y="317.79" width="1" height="1" fill="#1e90ff"/><rect x="557.89" y="318.35" width="1" height="1" fill="#80c4ff"/><rect x="533.3" y="310.97" width="1" height="1" fill="#1e90ff"/><rect x="542.97" y="316.16" width="1" height="1" fill="#2a98ff"/><rect x="541.48" y="323.41" width="1" height="1" fill="#2a98ff"/><rect x="542.21" y="314.38" width="1" height="1" fill="#1e90ff"/><rect x="534.31" y="329.37" width="1" height="1" fill="#a8d6ff"/><rect x="533.36" y="320.83" width="1" height="1" fill="#80c4ff"/><rect x="550.52" y="310.15" width="1" height="1" fill="#55b0ff"/><rect x="535.8" y="313.6" width="1" height="1" fill="#66b8ff"/><rect x="541.99" y="330.69" width="1" height="1" fill="#a8d6ff"/><rect x="545.35" y="310.78" width="1" height="1" fill="#2a98ff"/><rect x="539.29" y="330.75" width="1" height="1" fill="#66b8ff"/><rect x="542.85" y="317.92" width="1" height="1" fill="#1e90ff"/><rect x="566.89" y="309.49" width="1" height="1" fill="#55b0ff"/><rect x="533.7" y="311.2" width="1" height="1" fill="#55b0ff"/><rect x="627.38" y="310.83" width="1" height="1" fill="#80c4ff"/><rect x="587.72" y="317.64" width="1" height="1" fill="#80c4ff"/><rect x="605.45" y="329.38" width="1" height="1" fill="#66b8ff"/><rect x="636.13" y="309.77" width="1" height="1" fill="#a8d6ff"/><rect x="614.26" y="314.75" width="1" height="1" fill="#a8d6ff"/><rect x="580" y="315.54" width="1" height="1" fill="#2a98ff"/><rect x="637.32" y="311.58" width="1" height="1" fill="#80c4ff"/><rect x="615.9" y="322.99" width="1" height="1" fill="#2a98ff"/><rect x="581.9" y="328.98" width="1" height="1" fill="#a8d6ff"/><rect x="584.9" y="311.54" width="1" height="1" fill="#80c4ff"/><rect x="586.03" y="316.35" width="1" height="1" fill="#80c4ff"/><rect x="578.83" y="307.33" width="1" height="1" fill="#1e90ff"/><rect x="592.26" y="305.38" width="1" height="1" fill="#a8d6ff"/><rect x="583.68" y="308.55" width="1" height="1" fill="#2a98ff"/><rect x="611.45" y="306.93" width="1" height="1" fill="#80c4ff"/><rect x="631.17" y="314.77" width="1" height="1" fill="#80c4ff"/><rect x="594.17" y="309.85" width="1" height="1" fill="#66b8ff"/><rect x="584.14" y="329.55" width="1" height="1" fill="#80c4ff"/><rect x="604.33" y="319.83" width="1" height="1" fill="#80c4ff"/><rect x="622.88" y="319.55" width="1" height="1" fill="#55b0ff"/><rect x="624.67" y="310.88" width="1" height="1" fill="#55b0ff"/><rect x="610.1" y="308.33" width="1" height="1" fill="#2a98ff"/><rect x="608.27" y="331.66" width="1" height="1" fill="#a8d6ff"/><rect x="618.97" y="331.64" width="1" height="1" fill="#2a98ff"/><rect x="596.59" y="331.23" width="1" height="1" fill="#1e90ff"/><rect x="582.96" y="331.04" width="1" height="1" fill="#a8d6ff"/><rect x="612.49" y="331.73" width="1" height="1" fill="#66b8ff"/><rect x="585.08" y="331.39" width="1" height="1" fill="#80c4ff"/><rect x="613.08" y="331.14" width="1" height="1" fill="#55b0ff"/><rect x="603.72" y="331.51" width="1" height="1" fill="#a8d6ff"/><rect x="641.07" y="331.67" width="1" height="1" fill="#2a98ff"/><rect x="647.44" y="330.93" width="1" height="1" fill="#2a98ff"/><rect x="648.1" y="330.87" width="1" height="1" fill="#80c4ff"/><rect x="595.32" y="331.02" width="1" height="1" fill="#55b0ff"/><rect x="620.86" y="331.76" width="1" height="1" fill="#1e90ff"/><rect x="648.62" y="331.22" width="1" height="1" fill="#a8d6ff"/><rect x="635.1" y="331.33" width="1" height="1" fill="#80c4ff"/><rect x="582.53" y="330.96" width="1" height="1" fill="#80c4ff"/><rect x="589.43" y="331.69" width="1" height="1" fill="#80c4ff"/><rect x="621.17" y="331.77" width="1" height="1" fill="#a8d6ff"/><rect x="610.1" y="331.14" width="1" height="1" fill="#2a98ff"/><rect x="583.71" y="331.21" width="1" height="1" fill="#2a98ff"/><rect x="584.32" y="331.43" width="1" height="1" fill="#a8d6ff"/><rect x="623.56" y="331.18" width="1" height="1" fill="#80c4ff"/><rect x="579.91" y="331.77" width="1" height="1" fill="#66b8ff"/><rect x="645.93" y="331.53" width="1" height="1" fill="#a8d6ff"/><rect x="607.39" y="331.55" width="1" height="1" fill="#66b8ff"/><rect x="626.93" y="331.11" width="1" height="1" fill="#80c4ff"/><rect x="623.62" y="331.52" width="1" height="1" fill="#2a98ff"/><rect x="617.81" y="331.38" width="1" height="1" fill="#a8d6ff"/><rect x="590.33" y="330.86" width="1" height="1" fill="#a8d6ff"/><rect x="646.27" y="331.07" width="1" height="1" fill="#66b8ff"/><rect x="648.26" y="331.44" width="1" height="1" fill="#1e90ff"/><rect x="637.22" y="331.71" width="1" height="1" fill="#a8d6ff"/><rect x="630.28" y="331.14" width="1" height="1" fill="#80c4ff"/><rect x="644.38" y="331" width="1" height="1" fill="#2a98ff"/><rect x="640.11" y="331.68" width="1" height="1" fill="#80c4ff"/><rect x="633.5" y="331.43" width="1" height="1" fill="#1e90ff"/><rect x="599.3" y="331.56" width="1" height="1" fill="#2a98ff"/><rect x="634.32" y="330.99" width="1" height="1" fill="#80c4ff"/><rect x="637.61" y="331.2" width="1" height="1" fill="#80c4ff"/><rect x="589.06" y="331.81" width="1" height="1" fill="#2a98ff"/><rect x="617.7" y="331.75" width="1" height="1" fill="#80c4ff"/><rect x="601.03" y="331.88" width="1" height="1" fill="#2a98ff"/><rect x="587.94" y="331.14" width="1" height="1" fill="#a8d6ff"/><rect x="592.9" y="330.98" width="1" height="1" fill="#2a98ff"/><rect x="600.49" y="330.98" width="1" height="1" fill="#55b0ff"/><rect x="533.91" y="271.4" width="1" height="1" fill="#a8d6ff"/><rect x="534.18" y="250.97" width="1" height="1" fill="#66b8ff"/><rect x="534.31" y="280.39" width="1" height="1" fill="#a8d6ff"/><rect x="533.04" y="318.92" width="1" height="1" fill="#66b8ff"/><rect x="534.13" y="250.03" width="1" height="1" fill="#1e90ff"/><rect x="535.88" y="268.27" width="1" height="1" fill="#2a98ff"/><rect x="533.76" y="251.94" width="1" height="1" fill="#a8d6ff"/><rect x="534.51" y="269.69" width="1" height="1" fill="#80c4ff"/><rect x="533.86" y="327.61" width="1" height="1" fill="#2a98ff"/><rect x="534.12" y="329.16" width="1" height="1" fill="#a8d6ff"/><rect x="535.66" y="259.97" width="1" height="1" fill="#66b8ff"/><rect x="535.54" y="251.68" width="1" height="1" fill="#80c4ff"/><rect x="535.13" y="314.77" width="1" height="1" fill="#80c4ff"/><rect x="535.09" y="293.98" width="1" height="1" fill="#2a98ff"/><rect x="535.44" y="262.35" width="1" height="1" fill="#55b0ff"/><rect x="534.62" y="271.27" width="1" height="1" fill="#2a98ff"/><rect x="534.2" y="265.3" width="1" height="1" fill="#66b8ff"/><rect x="535.12" y="295.85" width="1" height="1" fill="#1e90ff"/><rect x="535.77" y="315" width="1" height="1" fill="#1e90ff"/><rect x="534.7" y="276.09" width="1" height="1" fill="#55b0ff"/><rect x="535.78" y="279.69" width="1" height="1" fill="#55b0ff"/><rect x="533.31" y="276.66" width="1" height="1" fill="#66b8ff"/><rect x="535.12" y="324.5" width="1" height="1" fill="#a8d6ff"/><rect x="534.94" y="303" width="1" height="1" fill="#80c4ff"/><rect x="535.33" y="285.64" width="1" height="1" fill="#a8d6ff"/><rect x="534.39" y="310.77" width="1" height="1" fill="#80c4ff"/><rect x="533.95" y="258.78" width="1" height="1" fill="#66b8ff"/><rect x="534.86" y="314.72" width="1" height="1" fill="#1e90ff"/>
<rect x="532.5" y="195" width="133.5" height="138.2" fill="none" stroke="#666" stroke-width="0.9"/>
<line x1="532.5" y1="333.2" x2="666" y2="333.2" stroke="#333" stroke-width="1"/>
<line x1="532.5" y1="195" x2="532.5" y2="333.2" stroke="#7a7a7a" stroke-width="1"/>
<line x1="576.8" y1="195" x2="576.8" y2="333.2" stroke="#555" stroke-width="0.9"/>
<line x1="532.5" y1="300.1" x2="666" y2="300.1" stroke="#555" stroke-width="0.9"/>
<line x1="529" y1="333.2" x2="532.5" y2="333.2" stroke="#555" stroke-width="0.8"/>
<text x="527.5" y="335.8" font-family="Liberation Sans" font-size="6.9" text-anchor="end" fill="#333">1</text>
<line x1="533" y1="333.2" x2="533" y2="336.2" stroke="#666" stroke-width="0.7"/>
<text x="533" y="343.5" font-family="Liberation Sans" font-size="6.9" text-anchor="middle" fill="#333">1</text>
<line x1="530.5" y1="319.35" x2="532.5" y2="319.35" stroke="#777" stroke-width="0.6"/>
<line x1="546.31" y1="333.2" x2="546.31" y2="331.6" stroke="#777" stroke-width="0.6"/>
<line x1="530.5" y1="311.25" x2="532.5" y2="311.25" stroke="#777" stroke-width="0.6"/>
<line x1="554.09" y1="333.2" x2="554.09" y2="331.6" stroke="#777" stroke-width="0.6"/>
<line x1="530.5" y1="305.51" x2="532.5" y2="305.51" stroke="#777" stroke-width="0.6"/>
<line x1="559.61" y1="333.2" x2="559.61" y2="331.6" stroke="#777" stroke-width="0.6"/>
<line x1="530.5" y1="301.05" x2="532.5" y2="301.05" stroke="#777" stroke-width="0.6"/>
<line x1="563.89" y1="333.2" x2="563.89" y2="331.6" stroke="#777" stroke-width="0.6"/>
<line x1="530.5" y1="297.41" x2="532.5" y2="297.41" stroke="#777" stroke-width="0.6"/>
<line x1="567.39" y1="333.2" x2="567.39" y2="331.6" stroke="#777" stroke-width="0.6"/>
<line x1="530.5" y1="294.33" x2="532.5" y2="294.33" stroke="#777" stroke-width="0.6"/>
<line x1="570.35" y1="333.2" x2="570.35" y2="331.6" stroke="#777" stroke-width="0.6"/>
<line x1="530.5" y1="291.66" x2="532.5" y2="291.66" stroke="#777" stroke-width="0.6"/>
<line x1="572.92" y1="333.2" x2="572.92" y2="331.6" stroke="#777" stroke-width="0.6"/>
<line x1="530.5" y1="289.3" x2="532.5" y2="289.3" stroke="#777" stroke-width="0.6"/>
<line x1="575.18" y1="333.2" x2="575.18" y2="331.6" stroke="#777" stroke-width="0.6"/>
<line x1="529" y1="287.2" x2="532.5" y2="287.2" stroke="#555" stroke-width="0.8"/>
<text x="527.5" y="289.8" font-family="Liberation Sans" font-size="6.9" text-anchor="end" fill="#333">10</text>
<line x1="577.2" y1="333.2" x2="577.2" y2="336.2" stroke="#666" stroke-width="0.7"/>
<text x="577.7" y="343.5" font-family="Liberation Sans" font-size="6.9" text-anchor="middle" fill="#333">10</text>
<line x1="530.5" y1="273.35" x2="532.5" y2="273.35" stroke="#777" stroke-width="0.6"/>
<line x1="590.51" y1="333.2" x2="590.51" y2="331.6" stroke="#777" stroke-width="0.6"/>
<line x1="530.5" y1="265.25" x2="532.5" y2="265.25" stroke="#777" stroke-width="0.6"/>
<line x1="598.29" y1="333.2" x2="598.29" y2="331.6" stroke="#777" stroke-width="0.6"/>
<line x1="530.5" y1="259.51" x2="532.5" y2="259.51" stroke="#777" stroke-width="0.6"/>
<line x1="603.81" y1="333.2" x2="603.81" y2="331.6" stroke="#777" stroke-width="0.6"/>
<line x1="530.5" y1="255.05" x2="532.5" y2="255.05" stroke="#777" stroke-width="0.6"/>
<line x1="608.09" y1="333.2" x2="608.09" y2="331.6" stroke="#777" stroke-width="0.6"/>
<line x1="530.5" y1="251.41" x2="532.5" y2="251.41" stroke="#777" stroke-width="0.6"/>
<line x1="611.59" y1="333.2" x2="611.59" y2="331.6" stroke="#777" stroke-width="0.6"/>
<line x1="530.5" y1="248.33" x2="532.5" y2="248.33" stroke="#777" stroke-width="0.6"/>
<line x1="614.55" y1="333.2" x2="614.55" y2="331.6" stroke="#777" stroke-width="0.6"/>
<line x1="530.5" y1="245.66" x2="532.5" y2="245.66" stroke="#777" stroke-width="0.6"/>
<line x1="617.12" y1="333.2" x2="617.12" y2="331.6" stroke="#777" stroke-width="0.6"/>
<line x1="530.5" y1="243.3" x2="532.5" y2="243.3" stroke="#777" stroke-width="0.6"/>
<line x1="619.38" y1="333.2" x2="619.38" y2="331.6" stroke="#777" stroke-width="0.6"/>
<line x1="529" y1="241.2" x2="532.5" y2="241.2" stroke="#555" stroke-width="0.8"/>
<text x="527.5" y="243.8" font-family="Liberation Sans" font-size="6.9" text-anchor="end" fill="#333">100</text>
<line x1="621.4" y1="333.2" x2="621.4" y2="336.2" stroke="#666" stroke-width="0.7"/>
<text x="622.9" y="343.5" font-family="Liberation Sans" font-size="6.9" text-anchor="middle" fill="#333">100</text>
<line x1="530.5" y1="227.35" x2="532.5" y2="227.35" stroke="#777" stroke-width="0.6"/>
<line x1="634.71" y1="333.2" x2="634.71" y2="331.6" stroke="#777" stroke-width="0.6"/>
<line x1="530.5" y1="219.25" x2="532.5" y2="219.25" stroke="#777" stroke-width="0.6"/>
<line x1="642.49" y1="333.2" x2="642.49" y2="331.6" stroke="#777" stroke-width="0.6"/>
<line x1="530.5" y1="213.51" x2="532.5" y2="213.51" stroke="#777" stroke-width="0.6"/>
<line x1="648.01" y1="333.2" x2="648.01" y2="331.6" stroke="#777" stroke-width="0.6"/>
<line x1="530.5" y1="209.05" x2="532.5" y2="209.05" stroke="#777" stroke-width="0.6"/>
<line x1="652.29" y1="333.2" x2="652.29" y2="331.6" stroke="#777" stroke-width="0.6"/>
<line x1="530.5" y1="205.41" x2="532.5" y2="205.41" stroke="#777" stroke-width="0.6"/>
<line x1="655.79" y1="333.2" x2="655.79" y2="331.6" stroke="#777" stroke-width="0.6"/>
<line x1="530.5" y1="202.33" x2="532.5" y2="202.33" stroke="#777" stroke-width="0.6"/>
<line x1="658.75" y1="333.2" x2="658.75" y2="331.6" stroke="#777" stroke-width="0.6"/>
<line x1="530.5" y1="199.66" x2="532.5" y2="199.66" stroke="#777" stroke-width="0.6"/>
<line x1="661.32" y1="333.2" x2="661.32" y2="331.6" stroke="#777" stroke-width="0.6"/>
<line x1="530.5" y1="197.3" x2="532.5" y2="197.3" stroke="#777" stroke-width="0.6"/>
<line x1="663.58" y1="333.2" x2="663.58" y2="331.6" stroke="#777" stroke-width="0.6"/>
<line x1="529" y1="195.2" x2="532.5" y2="195.2" stroke="#555" stroke-width="0.8"/>
<text x="527.5" y="197.8" font-family="Liberation Sans" font-size="6.9" text-anchor="end" fill="#333">1000</text>
<line x1="665.6" y1="333.2" x2="665.6" y2="336.2" stroke="#666" stroke-width="0.7"/>
<text x="664.8" y="343.5" font-family="Liberation Sans" font-size="6.9" text-anchor="middle" fill="#333">1000</text>
<text x="534.6" y="211.8" font-family="Liberation Sans" font-size="7.55" font-weight="bold" text-anchor="start" fill="#222">Q1: 79.63%</text>
<text x="657.5" y="211.8" font-family="Liberation Sans" font-size="7.55" font-weight="bold" text-anchor="end" fill="#222">Q2: 9.80%</text>
<text x="534.6" y="307.1" font-family="Liberation Sans" font-size="7.55" font-weight="bold" text-anchor="start" fill="#222">Q3: 7.43%</text>
<text x="657.5" y="307.1" font-family="Liberation Sans" font-size="7.55" font-weight="bold" text-anchor="end" fill="#222">Q4: 3.14%</text>
<text x="0" y="0" font-family="Liberation Serif" font-size="9.4" font-weight="bold" text-anchor="middle" fill="#111" transform="translate(516.6,264) rotate(-90)">CFSE</text>
<text x="600.1" y="350.6" font-family="Liberation Serif" font-size="8.8" font-weight="bold" text-anchor="middle" fill="#111">Annexin V</text>
</svg>
</body></html>
